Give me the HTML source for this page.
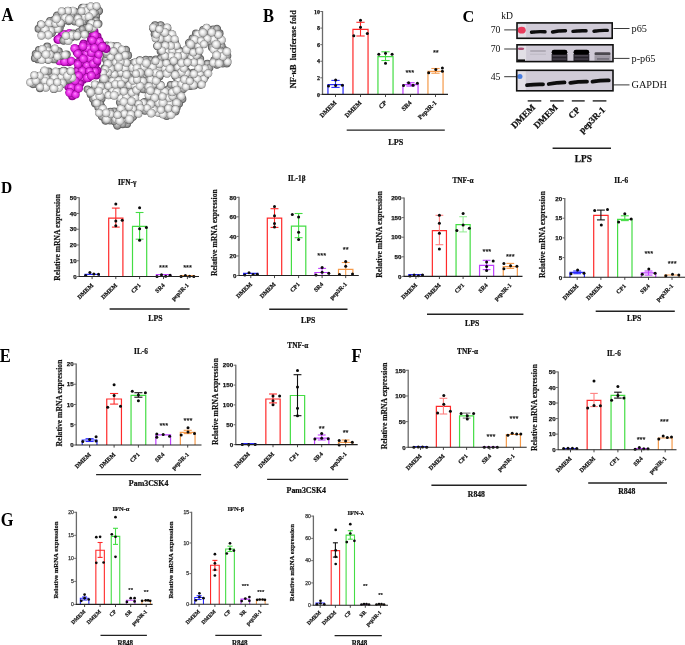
<!DOCTYPE html>
<html><head><meta charset="utf-8"><style>
html,body{margin:0;padding:0;background:#fff;}
body{width:685px;height:645px;overflow:hidden;font-family:"Liberation Serif",serif;}
svg{display:block;will-change:transform;}
</style></head><body>
<svg width="685" height="645" viewBox="0 0 685 645">
<defs>
<radialGradient id="gs" cx="0.5" cy="0.5" r="0.5" fx="0.42" fy="0.38">
<stop offset="0" stop-color="#ffffff"/><stop offset="0.28" stop-color="#f5f5f5"/><stop offset="0.6" stop-color="#dcdcdc"/><stop offset="0.86" stop-color="#b2b2b2"/><stop offset="1" stop-color="#767676"/></radialGradient>
<radialGradient id="ms" cx="0.5" cy="0.5" r="0.5" fx="0.42" fy="0.38">
<stop offset="0" stop-color="#ffa0ff"/><stop offset="0.22" stop-color="#f860f8"/><stop offset="0.55" stop-color="#ea34ea"/><stop offset="0.82" stop-color="#cc1ccc"/><stop offset="1" stop-color="#880088"/></radialGradient>
<radialGradient id="gsd" cx="0.5" cy="0.5" r="0.5" fx="0.4" fy="0.36">
<stop offset="0" stop-color="#dcdcdc"/><stop offset="0.4" stop-color="#b8b8b8"/><stop offset="0.8" stop-color="#929292"/><stop offset="1" stop-color="#666"/></radialGradient>
<radialGradient id="msd" cx="0.5" cy="0.5" r="0.5" fx="0.4" fy="0.36">
<stop offset="0" stop-color="#ee66ee"/><stop offset="0.4" stop-color="#d628d6"/><stop offset="0.8" stop-color="#b010b0"/><stop offset="1" stop-color="#800080"/></radialGradient>
<filter id="bl1" filterUnits="userSpaceOnUse" x="400" y="0" width="285" height="120"><feGaussianBlur stdDeviation="0.45"/></filter>
<filter id="bl2" filterUnits="userSpaceOnUse" x="400" y="0" width="285" height="120"><feGaussianBlur stdDeviation="0.6"/></filter>
</defs>
<rect width="685" height="645" fill="#fff"/>
<circle cx="106.76" cy="89.66" r="4.12" fill="#626262"/>
<circle cx="157.31" cy="46" r="4.19" fill="#626262"/>
<circle cx="171.95" cy="97.71" r="4.26" fill="#626262"/>
<circle cx="224.15" cy="50.18" r="4.08" fill="#626262"/>
<circle cx="119.39" cy="77.26" r="4.22" fill="#626262"/>
<circle cx="109.64" cy="76.47" r="3.86" fill="#626262"/>
<circle cx="221.5" cy="46.06" r="4.18" fill="#626262"/>
<circle cx="103.36" cy="80.84" r="4.29" fill="#626262"/>
<circle cx="126.97" cy="123.88" r="4.02" fill="#626262"/>
<circle cx="111.68" cy="89.68" r="3.93" fill="#626262"/>
<circle cx="123.38" cy="97.78" r="3.92" fill="#626262"/>
<circle cx="178.34" cy="71.91" r="3.92" fill="#626262"/>
<circle cx="123.22" cy="106.38" r="4" fill="#626262"/>
<circle cx="101.59" cy="98.56" r="4.01" fill="#626262"/>
<circle cx="118.39" cy="80.31" r="3.88" fill="#626262"/>
<circle cx="115.98" cy="94.3" r="4.22" fill="#626262"/>
<circle cx="97" cy="99.31" r="4.29" fill="#626262"/>
<circle cx="195.27" cy="42.55" r="3.87" fill="#626262"/>
<circle cx="219.48" cy="33.42" r="4.12" fill="#626262"/>
<circle cx="175.31" cy="93.19" r="4.02" fill="#626262"/>
<circle cx="125.92" cy="68.46" r="4.05" fill="#626262"/>
<circle cx="225.81" cy="60.34" r="4.06" fill="#626262"/>
<circle cx="169.26" cy="93.6" r="4.02" fill="#626262"/>
<circle cx="120.14" cy="102.47" r="4.19" fill="#626262"/>
<circle cx="210.65" cy="32.67" r="4.27" fill="#626262"/>
<circle cx="132.52" cy="88.91" r="3.94" fill="#626262"/>
<circle cx="124.88" cy="93.5" r="3.98" fill="#626262"/>
<circle cx="141.6" cy="72.35" r="3.82" fill="#626262"/>
<circle cx="113.06" cy="116.33" r="4" fill="#626262"/>
<circle cx="119.2" cy="60.02" r="3.94" fill="#626262"/>
<circle cx="125.64" cy="120.88" r="3.89" fill="#626262"/>
<circle cx="127.74" cy="115.72" r="4.22" fill="#626262"/>
<circle cx="99.21" cy="95.14" r="4.06" fill="#626262"/>
<circle cx="95.16" cy="94.92" r="3.92" fill="#626262"/>
<circle cx="107.33" cy="63.75" r="3.89" fill="#626262"/>
<circle cx="197.02" cy="72.83" r="4.1" fill="#626262"/>
<circle cx="219.99" cy="58.79" r="4.21" fill="#626262"/>
<circle cx="195.95" cy="58.87" r="4.24" fill="#626262"/>
<circle cx="104.74" cy="85.46" r="4.17" fill="#626262"/>
<circle cx="110.5" cy="50.97" r="4.18" fill="#626262"/>
<circle cx="180.85" cy="58.6" r="3.89" fill="#626262"/>
<circle cx="109.72" cy="59.21" r="3.87" fill="#626262"/>
<circle cx="160.64" cy="25.28" r="4.13" fill="#626262"/>
<circle cx="155.65" cy="84.77" r="4.11" fill="#626262"/>
<circle cx="148.41" cy="64.4" r="3.9" fill="#626262"/>
<circle cx="164.13" cy="103.03" r="3.95" fill="#626262"/>
<circle cx="202.79" cy="64.23" r="3.81" fill="#626262"/>
<circle cx="214.42" cy="60.16" r="4.15" fill="#626262"/>
<circle cx="155.39" cy="103.12" r="4.06" fill="#626262"/>
<circle cx="109.94" cy="120.37" r="4.22" fill="#626262"/>
<circle cx="99.18" cy="85.69" r="4.26" fill="#626262"/>
<circle cx="120.77" cy="111.03" r="4.06" fill="#626262"/>
<circle cx="152.96" cy="90.43" r="3.97" fill="#626262"/>
<circle cx="187.18" cy="71.94" r="3.94" fill="#626262"/>
<circle cx="149.06" cy="101.93" r="4.12" fill="#626262"/>
<circle cx="222.79" cy="63.31" r="4.27" fill="#626262"/>
<circle cx="172.28" cy="64.55" r="3.85" fill="#626262"/>
<circle cx="168.03" cy="71.48" r="4" fill="#626262"/>
<circle cx="105.21" cy="76.41" r="4.18" fill="#626262"/>
<circle cx="151.87" cy="107.19" r="3.87" fill="#626262"/>
<circle cx="125.97" cy="49.95" r="4.13" fill="#626262"/>
<circle cx="162.99" cy="98.43" r="3.92" fill="#626262"/>
<circle cx="129.61" cy="67.09" r="4.08" fill="#626262"/>
<circle cx="184.94" cy="59.04" r="4.29" fill="#626262"/>
<circle cx="87.48" cy="89.27" r="3.82" fill="#626262"/>
<circle cx="123.41" cy="71.65" r="4.15" fill="#626262"/>
<circle cx="192.12" cy="82.01" r="4.09" fill="#626262"/>
<circle cx="174.44" cy="85.25" r="4.23" fill="#626262"/>
<circle cx="134.31" cy="110.86" r="3.98" fill="#626262"/>
<circle cx="186.72" cy="63.01" r="4.27" fill="#626262"/>
<circle cx="144.53" cy="75.92" r="4.28" fill="#626262"/>
<circle cx="171.57" cy="71.53" r="3.84" fill="#626262"/>
<circle cx="108.23" cy="81" r="3.98" fill="#626262"/>
<circle cx="107" cy="45.33" r="3.92" fill="#626262"/>
<circle cx="165.17" cy="51.44" r="4.22" fill="#626262"/>
<circle cx="128.14" cy="106.54" r="4.26" fill="#626262"/>
<circle cx="115.43" cy="51.41" r="4.19" fill="#626262"/>
<circle cx="176.92" cy="55.16" r="4.23" fill="#626262"/>
<circle cx="163.14" cy="55.94" r="4.09" fill="#626262"/>
<circle cx="202.13" cy="71.95" r="4.25" fill="#626262"/>
<circle cx="167.07" cy="106.63" r="3.95" fill="#626262"/>
<circle cx="110.6" cy="93.68" r="3.85" fill="#626262"/>
<circle cx="133.23" cy="63.13" r="4.17" fill="#626262"/>
<circle cx="214.5" cy="32.84" r="4.02" fill="#626262"/>
<circle cx="164.25" cy="32.55" r="3.81" fill="#626262"/>
<circle cx="150.26" cy="60.18" r="4.2" fill="#626262"/>
<circle cx="170.37" cy="51.04" r="3.87" fill="#626262"/>
<circle cx="165.59" cy="68.53" r="3.92" fill="#626262"/>
<circle cx="156.51" cy="99.19" r="3.84" fill="#626262"/>
<circle cx="132.51" cy="98.78" r="4.11" fill="#626262"/>
<circle cx="203.12" cy="29.87" r="3.88" fill="#626262"/>
<circle cx="156.55" cy="29.8" r="3.96" fill="#626262"/>
<circle cx="102.45" cy="89.01" r="4.08" fill="#626262"/>
<circle cx="110.92" cy="68.34" r="4.28" fill="#626262"/>
<circle cx="139.5" cy="111.2" r="3.81" fill="#626262"/>
<circle cx="137.04" cy="63.2" r="4.26" fill="#626262"/>
<circle cx="149.66" cy="110.93" r="4.17" fill="#626262"/>
<circle cx="131.78" cy="80.51" r="3.93" fill="#626262"/>
<circle cx="211.65" cy="37.94" r="4.22" fill="#626262"/>
<circle cx="122.77" cy="88.96" r="4.12" fill="#626262"/>
<circle cx="141.51" cy="107.18" r="4.03" fill="#626262"/>
<circle cx="172.01" cy="45.63" r="3.92" fill="#626262"/>
<circle cx="158.29" cy="71.46" r="4.02" fill="#626262"/>
<circle cx="119.78" cy="50.3" r="3.98" fill="#626262"/>
<circle cx="140.77" cy="77.73" r="3.85" fill="#626262"/>
<circle cx="184.25" cy="84.94" r="3.89" fill="#626262"/>
<circle cx="184.21" cy="51.32" r="3.94" fill="#626262"/>
<circle cx="122.35" cy="115.81" r="4.03" fill="#626262"/>
<circle cx="176.96" cy="97.58" r="4.09" fill="#626262"/>
<circle cx="190.48" cy="76.15" r="4.18" fill="#626262"/>
<circle cx="218.07" cy="38.39" r="3.86" fill="#626262"/>
<circle cx="117.64" cy="54.02" r="3.86" fill="#626262"/>
<circle cx="183.01" cy="89.12" r="4.24" fill="#626262"/>
<circle cx="169.3" cy="42.79" r="4.07" fill="#626262"/>
<circle cx="193.42" cy="72.63" r="3.91" fill="#626262"/>
<circle cx="122.69" cy="81.34" r="3.91" fill="#626262"/>
<circle cx="200.05" cy="34.12" r="4.13" fill="#626262"/>
<circle cx="196.82" cy="46.19" r="4.03" fill="#626262"/>
<circle cx="193.14" cy="55.02" r="4" fill="#626262"/>
<circle cx="167.4" cy="54.54" r="4.27" fill="#626262"/>
<circle cx="123.44" cy="62.95" r="3.81" fill="#626262"/>
<circle cx="137.51" cy="89.56" r="4.12" fill="#626262"/>
<circle cx="129.94" cy="119.84" r="4.15" fill="#626262"/>
<circle cx="153.25" cy="62.74" r="4.1" fill="#626262"/>
<circle cx="144.69" cy="102.13" r="4.1" fill="#626262"/>
<circle cx="178.15" cy="64.41" r="3.82" fill="#626262"/>
<circle cx="130.41" cy="112.24" r="4.29" fill="#626262"/>
<circle cx="190.45" cy="86.24" r="3.83" fill="#626262"/>
<circle cx="155.88" cy="59.45" r="3.98" fill="#626262"/>
<circle cx="175.33" cy="75.99" r="4" fill="#626262"/>
<circle cx="170.81" cy="33.86" r="4.22" fill="#626262"/>
<circle cx="138.14" cy="72.26" r="4.16" fill="#626262"/>
<circle cx="173.08" cy="90.66" r="4.22" fill="#626262"/>
<circle cx="165.46" cy="59.25" r="4.08" fill="#626262"/>
<circle cx="134.65" cy="77.71" r="4.29" fill="#626262"/>
<circle cx="159.47" cy="76.58" r="3.96" fill="#626262"/>
<circle cx="106" cy="59.53" r="4" fill="#626262"/>
<circle cx="114.25" cy="111.47" r="4.08" fill="#626262"/>
<circle cx="181.83" cy="81.49" r="3.96" fill="#626262"/>
<circle cx="175.14" cy="42.35" r="3.87" fill="#626262"/>
<circle cx="142.3" cy="63.59" r="4.14" fill="#626262"/>
<circle cx="111.84" cy="71.41" r="3.98" fill="#626262"/>
<circle cx="116.62" cy="63.26" r="4.24" fill="#626262"/>
<circle cx="128.43" cy="71.81" r="4.13" fill="#626262"/>
<circle cx="129.16" cy="103.67" r="3.81" fill="#626262"/>
<circle cx="149.19" cy="76.75" r="3.85" fill="#626262"/>
<circle cx="138.02" cy="108.16" r="3.89" fill="#626262"/>
<circle cx="165.03" cy="94.94" r="3.96" fill="#626262"/>
<circle cx="168.33" cy="89.13" r="3.9" fill="#626262"/>
<circle cx="170.97" cy="112.14" r="4.13" fill="#626262"/>
<circle cx="213.14" cy="29.38" r="3.91" fill="#626262"/>
<circle cx="192.62" cy="38.49" r="4.01" fill="#626262"/>
<circle cx="122.61" cy="124.13" r="4" fill="#626262"/>
<circle cx="93.37" cy="98.97" r="4.3" fill="#626262"/>
<circle cx="112.99" cy="54.61" r="4.03" fill="#626262"/>
<circle cx="124.42" cy="103.1" r="3.82" fill="#626262"/>
<circle cx="179.01" cy="93.86" r="4.29" fill="#626262"/>
<circle cx="117.06" cy="72.1" r="4.29" fill="#626262"/>
<circle cx="188.41" cy="54.27" r="3.82" fill="#626262"/>
<circle cx="215.11" cy="42.8" r="4.23" fill="#626262"/>
<circle cx="158.32" cy="37.49" r="4.11" fill="#626262"/>
<circle cx="163.29" cy="63.65" r="4.26" fill="#626262"/>
<circle cx="134.29" cy="101.9" r="4.11" fill="#626262"/>
<circle cx="182.99" cy="73.2" r="4.11" fill="#626262"/>
<circle cx="206.65" cy="37.08" r="4.2" fill="#626262"/>
<circle cx="172.9" cy="107.2" r="3.82" fill="#626262"/>
<circle cx="160.23" cy="94.01" r="3.85" fill="#626262"/>
<circle cx="160.45" cy="32.59" r="3.86" fill="#626262"/>
<circle cx="179.27" cy="50.37" r="3.81" fill="#626262"/>
<circle cx="209.91" cy="41.63" r="3.92" fill="#626262"/>
<circle cx="115.77" cy="68" r="3.82" fill="#626262"/>
<circle cx="200.31" cy="58.95" r="3.86" fill="#626262"/>
<circle cx="139.75" cy="60.26" r="3.97" fill="#626262"/>
<circle cx="175.94" cy="67.67" r="3.88" fill="#626262"/>
<circle cx="199.45" cy="67.88" r="3.83" fill="#626262"/>
<circle cx="145.77" cy="59.97" r="4.28" fill="#626262"/>
<circle cx="95.26" cy="103.24" r="4.26" fill="#626262"/>
<circle cx="166.64" cy="46.78" r="4.25" fill="#626262"/>
<circle cx="172.4" cy="37.67" r="3.84" fill="#626262"/>
<circle cx="192.09" cy="46.22" r="4.1" fill="#626262"/>
<circle cx="105.17" cy="50.71" r="4.27" fill="#626262"/>
<circle cx="176.67" cy="46.98" r="4.02" fill="#626262"/>
<circle cx="135.89" cy="86.4" r="4.06" fill="#626262"/>
<circle cx="177.78" cy="80.28" r="4.24" fill="#626262"/>
<circle cx="226.76" cy="63.2" r="4.26" fill="#626262"/>
<circle cx="183.44" cy="63.2" r="4.09" fill="#626262"/>
<circle cx="105.26" cy="93.94" r="3.94" fill="#626262"/>
<circle cx="205.16" cy="76.4" r="4.17" fill="#626262"/>
<circle cx="124.38" cy="111.15" r="4.17" fill="#626262"/>
<circle cx="119.47" cy="67.54" r="3.94" fill="#626262"/>
<circle cx="205.33" cy="68.95" r="4.03" fill="#626262"/>
<circle cx="127.97" cy="90.36" r="4.15" fill="#626262"/>
<circle cx="115.04" cy="86.3" r="3.91" fill="#626262"/>
<circle cx="101.56" cy="107.03" r="3.99" fill="#626262"/>
<circle cx="124.57" cy="60.22" r="4.07" fill="#626262"/>
<circle cx="139.84" cy="67.56" r="3.98" fill="#626262"/>
<circle cx="167.52" cy="37.99" r="4.25" fill="#626262"/>
<circle cx="160.57" cy="84.89" r="3.95" fill="#626262"/>
<circle cx="156.56" cy="64.12" r="4.04" fill="#626262"/>
<circle cx="174.57" cy="58.45" r="4.21" fill="#626262"/>
<circle cx="155.95" cy="112.01" r="3.82" fill="#626262"/>
<circle cx="125.61" cy="86.38" r="3.97" fill="#626262"/>
<circle cx="176.63" cy="89.5" r="3.89" fill="#626262"/>
<circle cx="190.12" cy="50.91" r="4.07" fill="#626262"/>
<circle cx="117.76" cy="115.4" r="4.28" fill="#626262"/>
<circle cx="155.42" cy="76.64" r="4" fill="#626262"/>
<circle cx="130.49" cy="93.25" r="4.26" fill="#626262"/>
<circle cx="189.6" cy="59.83" r="3.88" fill="#626262"/>
<circle cx="115.56" cy="75.91" r="4.28" fill="#626262"/>
<circle cx="195.94" cy="33.55" r="3.96" fill="#626262"/>
<circle cx="132.21" cy="73.04" r="3.96" fill="#626262"/>
<circle cx="166.7" cy="116.05" r="3.93" fill="#626262"/>
<circle cx="182.17" cy="99" r="4.24" fill="#626262"/>
<circle cx="180.68" cy="76.34" r="3.91" fill="#626262"/>
<circle cx="135.64" cy="93.66" r="3.83" fill="#626262"/>
<circle cx="157.12" cy="80.51" r="3.81" fill="#626262"/>
<circle cx="211.99" cy="47.23" r="4.08" fill="#626262"/>
<circle cx="170.51" cy="59.64" r="4.1" fill="#626262"/>
<circle cx="176.72" cy="107.47" r="3.97" fill="#626262"/>
<circle cx="100.32" cy="112.03" r="4.13" fill="#626262"/>
<circle cx="110.55" cy="111.71" r="4.06" fill="#626262"/>
<circle cx="145.33" cy="68.9" r="4.22" fill="#626262"/>
<circle cx="162.73" cy="37.61" r="3.98" fill="#626262"/>
<circle cx="135" cy="68.4" r="4.18" fill="#626262"/>
<circle cx="114.55" cy="58.45" r="4.06" fill="#626262"/>
<circle cx="216.97" cy="64.54" r="4.29" fill="#626262"/>
<circle cx="149.63" cy="93.15" r="4.14" fill="#626262"/>
<circle cx="124.49" cy="75.88" r="4.27" fill="#626262"/>
<circle cx="154.68" cy="67.89" r="4.01" fill="#626262"/>
<circle cx="197.12" cy="81.23" r="4.13" fill="#626262"/>
<circle cx="187.32" cy="80.67" r="3.87" fill="#626262"/>
<circle cx="139.97" cy="84.56" r="3.9" fill="#626262"/>
<circle cx="106.79" cy="54.51" r="4.11" fill="#626262"/>
<circle cx="204.13" cy="42.68" r="3.94" fill="#626262"/>
<circle cx="184.44" cy="68.57" r="4.22" fill="#626262"/>
<circle cx="170.66" cy="84.82" r="3.85" fill="#626262"/>
<circle cx="132.85" cy="116.76" r="4.23" fill="#626262"/>
<circle cx="117.38" cy="125.37" r="4.26" fill="#626262"/>
<circle cx="199.17" cy="42.66" r="4.3" fill="#626262"/>
<circle cx="167.98" cy="98.4" r="3.93" fill="#626262"/>
<circle cx="121.62" cy="54.54" r="4.12" fill="#626262"/>
<circle cx="154.8" cy="34.14" r="4.12" fill="#626262"/>
<circle cx="152.86" cy="80.47" r="4.15" fill="#626262"/>
<circle cx="194.08" cy="85.57" r="4.01" fill="#626262"/>
<circle cx="126.94" cy="80.84" r="3.85" fill="#626262"/>
<circle cx="95.28" cy="86.27" r="4.01" fill="#626262"/>
<circle cx="131.5" cy="106.6" r="4.07" fill="#626262"/>
<circle cx="147.48" cy="107.79" r="3.86" fill="#626262"/>
<circle cx="104.34" cy="111.43" r="4" fill="#626262"/>
<circle cx="102.13" cy="116.16" r="4.3" fill="#626262"/>
<circle cx="220.47" cy="50.15" r="3.87" fill="#626262"/>
<circle cx="215.32" cy="49.78" r="4.22" fill="#626262"/>
<circle cx="198.27" cy="55.41" r="3.94" fill="#626262"/>
<circle cx="155.1" cy="25.32" r="4.11" fill="#626262"/>
<circle cx="129.07" cy="76.86" r="3.86" fill="#626262"/>
<circle cx="180.64" cy="67.51" r="4.23" fill="#626262"/>
<circle cx="153.07" cy="98.93" r="4.15" fill="#626262"/>
<circle cx="167.67" cy="62.7" r="3.94" fill="#626262"/>
<circle cx="154.07" cy="93.45" r="3.98" fill="#626262"/>
<circle cx="114.45" cy="121.18" r="3.98" fill="#626262"/>
<circle cx="112.02" cy="81.66" r="4.06" fill="#626262"/>
<circle cx="207.41" cy="63.8" r="4.1" fill="#626262"/>
<circle cx="150.81" cy="85.69" r="4.12" fill="#626262"/>
<circle cx="147.25" cy="73.24" r="3.8" fill="#626262"/>
<circle cx="175.47" cy="111.42" r="4.17" fill="#626262"/>
<circle cx="175.64" cy="103.63" r="4.29" fill="#626262"/>
<circle cx="126.9" cy="98.72" r="3.99" fill="#626262"/>
<circle cx="179.13" cy="103.59" r="3.95" fill="#626262"/>
<circle cx="170.01" cy="67.46" r="4.07" fill="#626262"/>
<circle cx="209.29" cy="67.84" r="4.2" fill="#626262"/>
<circle cx="206.51" cy="72.91" r="4.02" fill="#626262"/>
<circle cx="149.45" cy="67.12" r="3.99" fill="#626262"/>
<circle cx="97.42" cy="89.16" r="3.92" fill="#626262"/>
<circle cx="137.01" cy="81.3" r="4.21" fill="#626262"/>
<circle cx="162.48" cy="90.71" r="3.97" fill="#626262"/>
<circle cx="119.22" cy="85.43" r="4.28" fill="#626262"/>
<circle cx="217.4" cy="54.6" r="4.1" fill="#626262"/>
<circle cx="185.13" cy="76.5" r="3.92" fill="#626262"/>
<circle cx="160.61" cy="51.3" r="3.96" fill="#626262"/>
<circle cx="105.62" cy="120.52" r="4.29" fill="#626262"/>
<circle cx="227.13" cy="55.68" r="4.25" fill="#626262"/>
<circle cx="143.4" cy="89.07" r="4.28" fill="#626262"/>
<circle cx="180.04" cy="85.22" r="3.81" fill="#626262"/>
<circle cx="199.31" cy="77.52" r="3.93" fill="#626262"/>
<circle cx="162.32" cy="73.02" r="4.25" fill="#626262"/>
<circle cx="159.84" cy="42.77" r="3.95" fill="#626262"/>
<circle cx="90.75" cy="94.26" r="4.07" fill="#626262"/>
<circle cx="221.78" cy="54.69" r="3.96" fill="#626262"/>
<circle cx="160.39" cy="103.32" r="4.11" fill="#626262"/>
<circle cx="151.89" cy="72.13" r="4.02" fill="#626262"/>
<circle cx="146.52" cy="80.75" r="4.21" fill="#626262"/>
<circle cx="219.54" cy="41.21" r="4.16" fill="#626262"/>
<circle cx="164.2" cy="111.32" r="4.02" fill="#626262"/>
<circle cx="165.64" cy="41.47" r="4.03" fill="#626262"/>
<circle cx="167.59" cy="27.95" r="3.82" fill="#626262"/>
<circle cx="204.87" cy="33.99" r="4.14" fill="#626262"/>
<circle cx="201.74" cy="37.48" r="4.03" fill="#626262"/>
<circle cx="104.6" cy="67.97" r="3.81" fill="#626262"/>
<circle cx="117.52" cy="88.88" r="3.83" fill="#626262"/>
<circle cx="119.72" cy="94.68" r="3.91" fill="#626262"/>
<circle cx="139.21" cy="103.71" r="4" fill="#626262"/>
<circle cx="107.25" cy="72.06" r="4.05" fill="#626262"/>
<circle cx="116.88" cy="46.25" r="4.12" fill="#626262"/>
<circle cx="127.84" cy="55.38" r="4.26" fill="#626262"/>
<circle cx="194.49" cy="76.24" r="3.88" fill="#626262"/>
<circle cx="198.18" cy="36.87" r="3.89" fill="#626262"/>
<circle cx="160.44" cy="58.45" r="4.01" fill="#626262"/>
<circle cx="93.03" cy="90.36" r="4" fill="#626262"/>
<circle cx="198.38" cy="64.14" r="4.18" fill="#626262"/>
<circle cx="169.73" cy="103.49" r="4.25" fill="#626262"/>
<circle cx="160.37" cy="67.45" r="4.09" fill="#626262"/>
<circle cx="216.95" cy="28.94" r="4.15" fill="#626262"/>
<circle cx="106.7" cy="115.74" r="4.17" fill="#626262"/>
<circle cx="195.25" cy="51.01" r="3.85" fill="#626262"/>
<circle cx="145.04" cy="110.87" r="3.98" fill="#626262"/>
<circle cx="127.51" cy="63.96" r="3.98" fill="#626262"/>
<circle cx="161.61" cy="45.56" r="3.84" fill="#626262"/>
<circle cx="174.46" cy="49.71" r="3.96" fill="#626262"/>
<circle cx="162.56" cy="28.19" r="3.89" fill="#626262"/>
<circle cx="153.16" cy="28.22" r="4.13" fill="#626262"/>
<circle cx="145.85" cy="85.23" r="3.95" fill="#626262"/>
<circle cx="119.71" cy="120.53" r="3.97" fill="#626262"/>
<circle cx="159.2" cy="112.47" r="4.27" fill="#626262"/>
<circle cx="171.92" cy="55.89" r="4.05" fill="#626262"/>
<circle cx="112.25" cy="63.38" r="4.29" fill="#626262"/>
<circle cx="148.21" cy="90.79" r="4.12" fill="#626262"/>
<circle cx="112.97" cy="46.4" r="4.06" fill="#626262"/>
<circle cx="217.12" cy="46.01" r="4.21" fill="#626262"/>
<circle cx="100.33" cy="103.81" r="3.9" fill="#626262"/>
<circle cx="109.29" cy="85.02" r="4.25" fill="#626262"/>
<circle cx="156.89" cy="90.76" r="4.01" fill="#626262"/>
<circle cx="181.78" cy="55.05" r="3.83" fill="#626262"/>
<circle cx="157.19" cy="107.86" r="4.08" fill="#626262"/>
<circle cx="162.02" cy="108.09" r="3.85" fill="#626262"/>
<circle cx="142.8" cy="80.51" r="4.08" fill="#626262"/>
<circle cx="208.21" cy="29.51" r="4.12" fill="#626262"/>
<circle cx="189.14" cy="42.83" r="4.16" fill="#626262"/>
<circle cx="200.51" cy="84.53" r="4.15" fill="#626262"/>
<circle cx="202.21" cy="80.93" r="3.81" fill="#626262"/>
<circle cx="98.2" cy="107.44" r="3.8" fill="#626262"/>
<circle cx="129.39" cy="84.7" r="4.16" fill="#626262"/>
<circle cx="106.76" cy="89.66" r="3.62" fill="url(#gsd)"/>
<circle cx="157.31" cy="46" r="3.69" fill="url(#gsd)"/>
<circle cx="171.95" cy="97.71" r="3.76" fill="url(#gsd)"/>
<circle cx="224.15" cy="50.18" r="3.58" fill="url(#gsd)"/>
<circle cx="119.39" cy="77.26" r="3.72" fill="url(#gsd)"/>
<circle cx="109.64" cy="76.47" r="3.36" fill="url(#gsd)"/>
<circle cx="221.5" cy="46.06" r="3.68" fill="url(#gsd)"/>
<circle cx="103.36" cy="80.84" r="3.79" fill="url(#gsd)"/>
<circle cx="126.97" cy="123.88" r="3.52" fill="url(#gsd)"/>
<circle cx="111.68" cy="89.68" r="3.43" fill="url(#gsd)"/>
<circle cx="123.38" cy="97.78" r="3.42" fill="url(#gsd)"/>
<circle cx="178.34" cy="71.91" r="3.42" fill="url(#gsd)"/>
<circle cx="123.22" cy="106.38" r="3.5" fill="url(#gsd)"/>
<circle cx="101.59" cy="98.56" r="3.51" fill="url(#gsd)"/>
<circle cx="118.39" cy="80.31" r="3.38" fill="url(#gsd)"/>
<circle cx="115.98" cy="94.3" r="3.72" fill="url(#gsd)"/>
<circle cx="97" cy="99.31" r="3.79" fill="url(#gsd)"/>
<circle cx="195.27" cy="42.55" r="3.37" fill="url(#gsd)"/>
<circle cx="219.48" cy="33.42" r="3.62" fill="url(#gsd)"/>
<circle cx="175.31" cy="93.19" r="3.52" fill="url(#gsd)"/>
<circle cx="125.92" cy="68.46" r="3.55" fill="url(#gsd)"/>
<circle cx="225.81" cy="60.34" r="3.56" fill="url(#gsd)"/>
<circle cx="169.26" cy="93.6" r="3.52" fill="url(#gsd)"/>
<circle cx="120.14" cy="102.47" r="3.69" fill="url(#gsd)"/>
<circle cx="210.65" cy="32.67" r="3.77" fill="url(#gsd)"/>
<circle cx="132.52" cy="88.91" r="3.44" fill="url(#gsd)"/>
<circle cx="124.88" cy="93.5" r="3.48" fill="url(#gsd)"/>
<circle cx="141.6" cy="72.35" r="3.32" fill="url(#gsd)"/>
<circle cx="113.06" cy="116.33" r="3.5" fill="url(#gsd)"/>
<circle cx="119.2" cy="60.02" r="3.44" fill="url(#gsd)"/>
<circle cx="125.64" cy="120.88" r="3.39" fill="url(#gsd)"/>
<circle cx="127.74" cy="115.72" r="3.72" fill="url(#gsd)"/>
<circle cx="99.21" cy="95.14" r="3.56" fill="url(#gsd)"/>
<circle cx="95.16" cy="94.92" r="3.42" fill="url(#gsd)"/>
<circle cx="107.33" cy="63.75" r="3.39" fill="url(#gsd)"/>
<circle cx="197.02" cy="72.83" r="3.6" fill="url(#gsd)"/>
<circle cx="219.99" cy="58.79" r="3.71" fill="url(#gsd)"/>
<circle cx="195.95" cy="58.87" r="3.74" fill="url(#gsd)"/>
<circle cx="104.74" cy="85.46" r="3.67" fill="url(#gsd)"/>
<circle cx="110.5" cy="50.97" r="3.68" fill="url(#gsd)"/>
<circle cx="180.85" cy="58.6" r="3.39" fill="url(#gsd)"/>
<circle cx="109.72" cy="59.21" r="3.37" fill="url(#gsd)"/>
<circle cx="160.64" cy="25.28" r="3.63" fill="url(#gsd)"/>
<circle cx="155.65" cy="84.77" r="3.61" fill="url(#gsd)"/>
<circle cx="148.41" cy="64.4" r="3.4" fill="url(#gsd)"/>
<circle cx="164.13" cy="103.03" r="3.45" fill="url(#gsd)"/>
<circle cx="202.79" cy="64.23" r="3.31" fill="url(#gsd)"/>
<circle cx="214.42" cy="60.16" r="3.65" fill="url(#gsd)"/>
<circle cx="155.39" cy="103.12" r="3.56" fill="url(#gsd)"/>
<circle cx="109.94" cy="120.37" r="3.72" fill="url(#gsd)"/>
<circle cx="99.18" cy="85.69" r="3.76" fill="url(#gsd)"/>
<circle cx="120.77" cy="111.03" r="3.56" fill="url(#gsd)"/>
<circle cx="152.96" cy="90.43" r="3.47" fill="url(#gsd)"/>
<circle cx="187.18" cy="71.94" r="3.44" fill="url(#gsd)"/>
<circle cx="149.06" cy="101.93" r="3.62" fill="url(#gsd)"/>
<circle cx="222.79" cy="63.31" r="3.77" fill="url(#gsd)"/>
<circle cx="172.28" cy="64.55" r="3.35" fill="url(#gsd)"/>
<circle cx="168.03" cy="71.48" r="3.5" fill="url(#gsd)"/>
<circle cx="105.21" cy="76.41" r="3.68" fill="url(#gsd)"/>
<circle cx="151.87" cy="107.19" r="3.37" fill="url(#gsd)"/>
<circle cx="125.97" cy="49.95" r="3.63" fill="url(#gsd)"/>
<circle cx="162.99" cy="98.43" r="3.42" fill="url(#gsd)"/>
<circle cx="129.61" cy="67.09" r="3.58" fill="url(#gsd)"/>
<circle cx="184.94" cy="59.04" r="3.79" fill="url(#gsd)"/>
<circle cx="87.48" cy="89.27" r="3.32" fill="url(#gsd)"/>
<circle cx="123.41" cy="71.65" r="3.65" fill="url(#gsd)"/>
<circle cx="192.12" cy="82.01" r="3.59" fill="url(#gsd)"/>
<circle cx="174.44" cy="85.25" r="3.73" fill="url(#gsd)"/>
<circle cx="134.31" cy="110.86" r="3.48" fill="url(#gsd)"/>
<circle cx="186.72" cy="63.01" r="3.77" fill="url(#gsd)"/>
<circle cx="144.53" cy="75.92" r="3.78" fill="url(#gsd)"/>
<circle cx="171.57" cy="71.53" r="3.34" fill="url(#gsd)"/>
<circle cx="108.23" cy="81" r="3.48" fill="url(#gsd)"/>
<circle cx="107" cy="45.33" r="3.42" fill="url(#gsd)"/>
<circle cx="165.17" cy="51.44" r="3.72" fill="url(#gsd)"/>
<circle cx="128.14" cy="106.54" r="3.76" fill="url(#gsd)"/>
<circle cx="115.43" cy="51.41" r="3.69" fill="url(#gsd)"/>
<circle cx="176.92" cy="55.16" r="3.73" fill="url(#gsd)"/>
<circle cx="163.14" cy="55.94" r="3.59" fill="url(#gsd)"/>
<circle cx="202.13" cy="71.95" r="3.75" fill="url(#gsd)"/>
<circle cx="167.07" cy="106.63" r="3.45" fill="url(#gsd)"/>
<circle cx="110.6" cy="93.68" r="3.35" fill="url(#gsd)"/>
<circle cx="133.23" cy="63.13" r="3.67" fill="url(#gsd)"/>
<circle cx="214.5" cy="32.84" r="3.52" fill="url(#gsd)"/>
<circle cx="164.25" cy="32.55" r="3.31" fill="url(#gsd)"/>
<circle cx="150.26" cy="60.18" r="3.7" fill="url(#gsd)"/>
<circle cx="170.37" cy="51.04" r="3.37" fill="url(#gsd)"/>
<circle cx="165.59" cy="68.53" r="3.42" fill="url(#gsd)"/>
<circle cx="156.51" cy="99.19" r="3.34" fill="url(#gsd)"/>
<circle cx="132.51" cy="98.78" r="3.61" fill="url(#gsd)"/>
<circle cx="203.12" cy="29.87" r="3.38" fill="url(#gsd)"/>
<circle cx="156.55" cy="29.8" r="3.46" fill="url(#gsd)"/>
<circle cx="102.45" cy="89.01" r="3.58" fill="url(#gsd)"/>
<circle cx="110.92" cy="68.34" r="3.78" fill="url(#gsd)"/>
<circle cx="139.5" cy="111.2" r="3.31" fill="url(#gsd)"/>
<circle cx="137.04" cy="63.2" r="3.76" fill="url(#gsd)"/>
<circle cx="149.66" cy="110.93" r="3.67" fill="url(#gsd)"/>
<circle cx="131.78" cy="80.51" r="3.43" fill="url(#gsd)"/>
<circle cx="211.65" cy="37.94" r="3.72" fill="url(#gsd)"/>
<circle cx="122.77" cy="88.96" r="3.62" fill="url(#gsd)"/>
<circle cx="141.51" cy="107.18" r="3.53" fill="url(#gsd)"/>
<circle cx="172.01" cy="45.63" r="3.42" fill="url(#gsd)"/>
<circle cx="158.29" cy="71.46" r="3.52" fill="url(#gsd)"/>
<circle cx="119.78" cy="50.3" r="3.48" fill="url(#gsd)"/>
<circle cx="140.77" cy="77.73" r="3.35" fill="url(#gsd)"/>
<circle cx="184.25" cy="84.94" r="3.39" fill="url(#gsd)"/>
<circle cx="184.21" cy="51.32" r="3.44" fill="url(#gsd)"/>
<circle cx="122.35" cy="115.81" r="3.53" fill="url(#gsd)"/>
<circle cx="176.96" cy="97.58" r="3.59" fill="url(#gsd)"/>
<circle cx="190.48" cy="76.15" r="3.68" fill="url(#gsd)"/>
<circle cx="218.07" cy="38.39" r="3.36" fill="url(#gsd)"/>
<circle cx="117.64" cy="54.02" r="3.36" fill="url(#gsd)"/>
<circle cx="183.01" cy="89.12" r="3.74" fill="url(#gsd)"/>
<circle cx="169.3" cy="42.79" r="3.57" fill="url(#gsd)"/>
<circle cx="193.42" cy="72.63" r="3.41" fill="url(#gsd)"/>
<circle cx="122.69" cy="81.34" r="3.41" fill="url(#gsd)"/>
<circle cx="200.05" cy="34.12" r="3.63" fill="url(#gsd)"/>
<circle cx="196.82" cy="46.19" r="3.53" fill="url(#gsd)"/>
<circle cx="193.14" cy="55.02" r="3.5" fill="url(#gsd)"/>
<circle cx="167.4" cy="54.54" r="3.77" fill="url(#gsd)"/>
<circle cx="123.44" cy="62.95" r="3.31" fill="url(#gsd)"/>
<circle cx="137.51" cy="89.56" r="3.62" fill="url(#gsd)"/>
<circle cx="129.94" cy="119.84" r="3.65" fill="url(#gsd)"/>
<circle cx="153.25" cy="62.74" r="3.6" fill="url(#gsd)"/>
<circle cx="144.69" cy="102.13" r="3.6" fill="url(#gsd)"/>
<circle cx="178.15" cy="64.41" r="3.32" fill="url(#gsd)"/>
<circle cx="130.41" cy="112.24" r="3.79" fill="url(#gsd)"/>
<circle cx="190.45" cy="86.24" r="3.33" fill="url(#gsd)"/>
<circle cx="155.88" cy="59.45" r="3.48" fill="url(#gsd)"/>
<circle cx="175.33" cy="75.99" r="3.5" fill="url(#gsd)"/>
<circle cx="170.81" cy="33.86" r="3.72" fill="url(#gsd)"/>
<circle cx="138.14" cy="72.26" r="3.66" fill="url(#gsd)"/>
<circle cx="173.08" cy="90.66" r="3.72" fill="url(#gsd)"/>
<circle cx="165.46" cy="59.25" r="3.58" fill="url(#gsd)"/>
<circle cx="134.65" cy="77.71" r="3.79" fill="url(#gsd)"/>
<circle cx="159.47" cy="76.58" r="3.46" fill="url(#gsd)"/>
<circle cx="106" cy="59.53" r="3.5" fill="url(#gsd)"/>
<circle cx="114.25" cy="111.47" r="3.58" fill="url(#gsd)"/>
<circle cx="181.83" cy="81.49" r="3.46" fill="url(#gsd)"/>
<circle cx="175.14" cy="42.35" r="3.37" fill="url(#gsd)"/>
<circle cx="142.3" cy="63.59" r="3.64" fill="url(#gsd)"/>
<circle cx="111.84" cy="71.41" r="3.48" fill="url(#gsd)"/>
<circle cx="116.62" cy="63.26" r="3.74" fill="url(#gsd)"/>
<circle cx="128.43" cy="71.81" r="3.63" fill="url(#gsd)"/>
<circle cx="129.16" cy="103.67" r="3.31" fill="url(#gsd)"/>
<circle cx="149.19" cy="76.75" r="3.35" fill="url(#gsd)"/>
<circle cx="138.02" cy="108.16" r="3.39" fill="url(#gsd)"/>
<circle cx="165.03" cy="94.94" r="3.46" fill="url(#gsd)"/>
<circle cx="168.33" cy="89.13" r="3.4" fill="url(#gsd)"/>
<circle cx="170.97" cy="112.14" r="3.63" fill="url(#gsd)"/>
<circle cx="213.14" cy="29.38" r="3.41" fill="url(#gsd)"/>
<circle cx="192.62" cy="38.49" r="3.51" fill="url(#gsd)"/>
<circle cx="122.61" cy="124.13" r="3.5" fill="url(#gsd)"/>
<circle cx="93.37" cy="98.97" r="3.8" fill="url(#gsd)"/>
<circle cx="112.99" cy="54.61" r="3.53" fill="url(#gsd)"/>
<circle cx="124.42" cy="103.1" r="3.32" fill="url(#gsd)"/>
<circle cx="179.01" cy="93.86" r="3.79" fill="url(#gsd)"/>
<circle cx="117.06" cy="72.1" r="3.79" fill="url(#gsd)"/>
<circle cx="188.41" cy="54.27" r="3.32" fill="url(#gsd)"/>
<circle cx="215.11" cy="42.8" r="3.73" fill="url(#gsd)"/>
<circle cx="158.32" cy="37.49" r="3.61" fill="url(#gsd)"/>
<circle cx="163.29" cy="63.65" r="3.76" fill="url(#gsd)"/>
<circle cx="134.29" cy="101.9" r="3.61" fill="url(#gsd)"/>
<circle cx="182.99" cy="73.2" r="3.61" fill="url(#gsd)"/>
<circle cx="206.65" cy="37.08" r="3.7" fill="url(#gsd)"/>
<circle cx="172.9" cy="107.2" r="3.32" fill="url(#gsd)"/>
<circle cx="160.23" cy="94.01" r="3.35" fill="url(#gsd)"/>
<circle cx="160.45" cy="32.59" r="3.36" fill="url(#gsd)"/>
<circle cx="179.27" cy="50.37" r="3.31" fill="url(#gsd)"/>
<circle cx="209.91" cy="41.63" r="3.42" fill="url(#gsd)"/>
<circle cx="115.77" cy="68" r="3.32" fill="url(#gsd)"/>
<circle cx="200.31" cy="58.95" r="3.36" fill="url(#gsd)"/>
<circle cx="139.75" cy="60.26" r="3.47" fill="url(#gsd)"/>
<circle cx="175.94" cy="67.67" r="3.38" fill="url(#gsd)"/>
<circle cx="199.45" cy="67.88" r="3.33" fill="url(#gsd)"/>
<circle cx="145.77" cy="59.97" r="3.78" fill="url(#gsd)"/>
<circle cx="95.26" cy="103.24" r="3.76" fill="url(#gsd)"/>
<circle cx="166.64" cy="46.78" r="3.75" fill="url(#gsd)"/>
<circle cx="172.4" cy="37.67" r="3.34" fill="url(#gsd)"/>
<circle cx="192.09" cy="46.22" r="3.6" fill="url(#gsd)"/>
<circle cx="105.17" cy="50.71" r="3.77" fill="url(#gsd)"/>
<circle cx="176.67" cy="46.98" r="3.52" fill="url(#gsd)"/>
<circle cx="135.89" cy="86.4" r="3.56" fill="url(#gsd)"/>
<circle cx="177.78" cy="80.28" r="3.74" fill="url(#gsd)"/>
<circle cx="226.76" cy="63.2" r="3.76" fill="url(#gsd)"/>
<circle cx="183.44" cy="63.2" r="3.59" fill="url(#gsd)"/>
<circle cx="105.26" cy="93.94" r="3.44" fill="url(#gsd)"/>
<circle cx="205.16" cy="76.4" r="3.67" fill="url(#gsd)"/>
<circle cx="124.38" cy="111.15" r="3.67" fill="url(#gsd)"/>
<circle cx="119.47" cy="67.54" r="3.44" fill="url(#gsd)"/>
<circle cx="205.33" cy="68.95" r="3.53" fill="url(#gsd)"/>
<circle cx="127.97" cy="90.36" r="3.65" fill="url(#gsd)"/>
<circle cx="115.04" cy="86.3" r="3.41" fill="url(#gsd)"/>
<circle cx="101.56" cy="107.03" r="3.49" fill="url(#gsd)"/>
<circle cx="124.57" cy="60.22" r="3.57" fill="url(#gsd)"/>
<circle cx="139.84" cy="67.56" r="3.48" fill="url(#gsd)"/>
<circle cx="167.52" cy="37.99" r="3.75" fill="url(#gsd)"/>
<circle cx="160.57" cy="84.89" r="3.45" fill="url(#gsd)"/>
<circle cx="156.56" cy="64.12" r="3.54" fill="url(#gsd)"/>
<circle cx="174.57" cy="58.45" r="3.71" fill="url(#gsd)"/>
<circle cx="155.95" cy="112.01" r="3.32" fill="url(#gsd)"/>
<circle cx="125.61" cy="86.38" r="3.47" fill="url(#gsd)"/>
<circle cx="176.63" cy="89.5" r="3.39" fill="url(#gsd)"/>
<circle cx="190.12" cy="50.91" r="3.57" fill="url(#gsd)"/>
<circle cx="117.76" cy="115.4" r="3.78" fill="url(#gsd)"/>
<circle cx="155.42" cy="76.64" r="3.5" fill="url(#gsd)"/>
<circle cx="130.49" cy="93.25" r="3.76" fill="url(#gsd)"/>
<circle cx="189.6" cy="59.83" r="3.38" fill="url(#gsd)"/>
<circle cx="115.56" cy="75.91" r="3.78" fill="url(#gsd)"/>
<circle cx="195.94" cy="33.55" r="3.46" fill="url(#gsd)"/>
<circle cx="132.21" cy="73.04" r="3.46" fill="url(#gsd)"/>
<circle cx="166.7" cy="116.05" r="3.43" fill="url(#gsd)"/>
<circle cx="182.17" cy="99" r="3.74" fill="url(#gsd)"/>
<circle cx="180.68" cy="76.34" r="3.41" fill="url(#gsd)"/>
<circle cx="135.64" cy="93.66" r="3.33" fill="url(#gsd)"/>
<circle cx="157.12" cy="80.51" r="3.31" fill="url(#gsd)"/>
<circle cx="211.99" cy="47.23" r="3.58" fill="url(#gsd)"/>
<circle cx="170.51" cy="59.64" r="3.6" fill="url(#gsd)"/>
<circle cx="176.72" cy="107.47" r="3.47" fill="url(#gsd)"/>
<circle cx="100.32" cy="112.03" r="3.63" fill="url(#gsd)"/>
<circle cx="110.55" cy="111.71" r="3.56" fill="url(#gsd)"/>
<circle cx="145.33" cy="68.9" r="3.72" fill="url(#gsd)"/>
<circle cx="162.73" cy="37.61" r="3.48" fill="url(#gsd)"/>
<circle cx="135" cy="68.4" r="3.68" fill="url(#gsd)"/>
<circle cx="114.55" cy="58.45" r="3.56" fill="url(#gsd)"/>
<circle cx="216.97" cy="64.54" r="3.79" fill="url(#gsd)"/>
<circle cx="149.63" cy="93.15" r="3.64" fill="url(#gsd)"/>
<circle cx="124.49" cy="75.88" r="3.77" fill="url(#gsd)"/>
<circle cx="154.68" cy="67.89" r="3.51" fill="url(#gsd)"/>
<circle cx="197.12" cy="81.23" r="3.63" fill="url(#gsd)"/>
<circle cx="187.32" cy="80.67" r="3.37" fill="url(#gsd)"/>
<circle cx="139.97" cy="84.56" r="3.4" fill="url(#gsd)"/>
<circle cx="106.79" cy="54.51" r="3.61" fill="url(#gsd)"/>
<circle cx="204.13" cy="42.68" r="3.44" fill="url(#gsd)"/>
<circle cx="184.44" cy="68.57" r="3.72" fill="url(#gsd)"/>
<circle cx="170.66" cy="84.82" r="3.35" fill="url(#gsd)"/>
<circle cx="132.85" cy="116.76" r="3.73" fill="url(#gsd)"/>
<circle cx="117.38" cy="125.37" r="3.76" fill="url(#gsd)"/>
<circle cx="199.17" cy="42.66" r="3.8" fill="url(#gsd)"/>
<circle cx="167.98" cy="98.4" r="3.43" fill="url(#gsd)"/>
<circle cx="121.62" cy="54.54" r="3.62" fill="url(#gsd)"/>
<circle cx="154.8" cy="34.14" r="3.62" fill="url(#gsd)"/>
<circle cx="152.86" cy="80.47" r="3.65" fill="url(#gsd)"/>
<circle cx="194.08" cy="85.57" r="3.51" fill="url(#gsd)"/>
<circle cx="126.94" cy="80.84" r="3.35" fill="url(#gsd)"/>
<circle cx="95.28" cy="86.27" r="3.51" fill="url(#gsd)"/>
<circle cx="131.5" cy="106.6" r="3.57" fill="url(#gsd)"/>
<circle cx="147.48" cy="107.79" r="3.36" fill="url(#gsd)"/>
<circle cx="104.34" cy="111.43" r="3.5" fill="url(#gsd)"/>
<circle cx="102.13" cy="116.16" r="3.8" fill="url(#gsd)"/>
<circle cx="220.47" cy="50.15" r="3.37" fill="url(#gsd)"/>
<circle cx="215.32" cy="49.78" r="3.72" fill="url(#gsd)"/>
<circle cx="198.27" cy="55.41" r="3.44" fill="url(#gsd)"/>
<circle cx="155.1" cy="25.32" r="3.61" fill="url(#gsd)"/>
<circle cx="129.07" cy="76.86" r="3.36" fill="url(#gsd)"/>
<circle cx="180.64" cy="67.51" r="3.73" fill="url(#gsd)"/>
<circle cx="153.07" cy="98.93" r="3.65" fill="url(#gsd)"/>
<circle cx="167.67" cy="62.7" r="3.44" fill="url(#gsd)"/>
<circle cx="154.07" cy="93.45" r="3.48" fill="url(#gsd)"/>
<circle cx="114.45" cy="121.18" r="3.48" fill="url(#gsd)"/>
<circle cx="112.02" cy="81.66" r="3.56" fill="url(#gsd)"/>
<circle cx="207.41" cy="63.8" r="3.6" fill="url(#gsd)"/>
<circle cx="150.81" cy="85.69" r="3.62" fill="url(#gsd)"/>
<circle cx="147.25" cy="73.24" r="3.3" fill="url(#gsd)"/>
<circle cx="175.47" cy="111.42" r="3.67" fill="url(#gsd)"/>
<circle cx="175.64" cy="103.63" r="3.79" fill="url(#gsd)"/>
<circle cx="126.9" cy="98.72" r="3.49" fill="url(#gsd)"/>
<circle cx="179.13" cy="103.59" r="3.45" fill="url(#gsd)"/>
<circle cx="170.01" cy="67.46" r="3.57" fill="url(#gsd)"/>
<circle cx="209.29" cy="67.84" r="3.7" fill="url(#gsd)"/>
<circle cx="206.51" cy="72.91" r="3.52" fill="url(#gsd)"/>
<circle cx="149.45" cy="67.12" r="3.49" fill="url(#gsd)"/>
<circle cx="97.42" cy="89.16" r="3.42" fill="url(#gsd)"/>
<circle cx="137.01" cy="81.3" r="3.71" fill="url(#gsd)"/>
<circle cx="162.48" cy="90.71" r="3.47" fill="url(#gsd)"/>
<circle cx="119.22" cy="85.43" r="3.78" fill="url(#gsd)"/>
<circle cx="217.4" cy="54.6" r="3.6" fill="url(#gsd)"/>
<circle cx="185.13" cy="76.5" r="3.42" fill="url(#gsd)"/>
<circle cx="160.61" cy="51.3" r="3.46" fill="url(#gsd)"/>
<circle cx="105.62" cy="120.52" r="3.79" fill="url(#gsd)"/>
<circle cx="227.13" cy="55.68" r="3.75" fill="url(#gsd)"/>
<circle cx="143.4" cy="89.07" r="3.78" fill="url(#gsd)"/>
<circle cx="180.04" cy="85.22" r="3.31" fill="url(#gsd)"/>
<circle cx="199.31" cy="77.52" r="3.43" fill="url(#gsd)"/>
<circle cx="162.32" cy="73.02" r="3.75" fill="url(#gsd)"/>
<circle cx="159.84" cy="42.77" r="3.45" fill="url(#gsd)"/>
<circle cx="90.75" cy="94.26" r="3.57" fill="url(#gsd)"/>
<circle cx="221.78" cy="54.69" r="3.46" fill="url(#gsd)"/>
<circle cx="160.39" cy="103.32" r="3.61" fill="url(#gsd)"/>
<circle cx="151.89" cy="72.13" r="3.52" fill="url(#gsd)"/>
<circle cx="146.52" cy="80.75" r="3.71" fill="url(#gsd)"/>
<circle cx="219.54" cy="41.21" r="3.66" fill="url(#gsd)"/>
<circle cx="164.2" cy="111.32" r="3.52" fill="url(#gsd)"/>
<circle cx="165.64" cy="41.47" r="3.53" fill="url(#gsd)"/>
<circle cx="167.59" cy="27.95" r="3.32" fill="url(#gsd)"/>
<circle cx="204.87" cy="33.99" r="3.64" fill="url(#gsd)"/>
<circle cx="201.74" cy="37.48" r="3.53" fill="url(#gsd)"/>
<circle cx="104.6" cy="67.97" r="3.31" fill="url(#gsd)"/>
<circle cx="117.52" cy="88.88" r="3.33" fill="url(#gsd)"/>
<circle cx="119.72" cy="94.68" r="3.41" fill="url(#gsd)"/>
<circle cx="139.21" cy="103.71" r="3.5" fill="url(#gsd)"/>
<circle cx="107.25" cy="72.06" r="3.55" fill="url(#gsd)"/>
<circle cx="116.88" cy="46.25" r="3.62" fill="url(#gsd)"/>
<circle cx="127.84" cy="55.38" r="3.76" fill="url(#gsd)"/>
<circle cx="194.49" cy="76.24" r="3.38" fill="url(#gsd)"/>
<circle cx="198.18" cy="36.87" r="3.39" fill="url(#gsd)"/>
<circle cx="160.44" cy="58.45" r="3.51" fill="url(#gsd)"/>
<circle cx="93.03" cy="90.36" r="3.5" fill="url(#gsd)"/>
<circle cx="198.38" cy="64.14" r="3.68" fill="url(#gsd)"/>
<circle cx="169.73" cy="103.49" r="3.75" fill="url(#gsd)"/>
<circle cx="160.37" cy="67.45" r="3.59" fill="url(#gsd)"/>
<circle cx="216.95" cy="28.94" r="3.65" fill="url(#gsd)"/>
<circle cx="106.7" cy="115.74" r="3.67" fill="url(#gsd)"/>
<circle cx="195.25" cy="51.01" r="3.35" fill="url(#gsd)"/>
<circle cx="145.04" cy="110.87" r="3.48" fill="url(#gsd)"/>
<circle cx="127.51" cy="63.96" r="3.48" fill="url(#gsd)"/>
<circle cx="161.61" cy="45.56" r="3.34" fill="url(#gsd)"/>
<circle cx="174.46" cy="49.71" r="3.46" fill="url(#gsd)"/>
<circle cx="162.56" cy="28.19" r="3.39" fill="url(#gsd)"/>
<circle cx="153.16" cy="28.22" r="3.63" fill="url(#gsd)"/>
<circle cx="145.85" cy="85.23" r="3.45" fill="url(#gsd)"/>
<circle cx="119.71" cy="120.53" r="3.47" fill="url(#gsd)"/>
<circle cx="159.2" cy="112.47" r="3.77" fill="url(#gsd)"/>
<circle cx="171.92" cy="55.89" r="3.55" fill="url(#gsd)"/>
<circle cx="112.25" cy="63.38" r="3.79" fill="url(#gsd)"/>
<circle cx="148.21" cy="90.79" r="3.62" fill="url(#gsd)"/>
<circle cx="112.97" cy="46.4" r="3.56" fill="url(#gsd)"/>
<circle cx="217.12" cy="46.01" r="3.71" fill="url(#gsd)"/>
<circle cx="100.33" cy="103.81" r="3.4" fill="url(#gsd)"/>
<circle cx="109.29" cy="85.02" r="3.75" fill="url(#gsd)"/>
<circle cx="156.89" cy="90.76" r="3.51" fill="url(#gsd)"/>
<circle cx="181.78" cy="55.05" r="3.33" fill="url(#gsd)"/>
<circle cx="157.19" cy="107.86" r="3.58" fill="url(#gsd)"/>
<circle cx="162.02" cy="108.09" r="3.35" fill="url(#gsd)"/>
<circle cx="142.8" cy="80.51" r="3.58" fill="url(#gsd)"/>
<circle cx="208.21" cy="29.51" r="3.62" fill="url(#gsd)"/>
<circle cx="189.14" cy="42.83" r="3.66" fill="url(#gsd)"/>
<circle cx="200.51" cy="84.53" r="3.65" fill="url(#gsd)"/>
<circle cx="202.21" cy="80.93" r="3.31" fill="url(#gsd)"/>
<circle cx="98.2" cy="107.44" r="3.3" fill="url(#gsd)"/>
<circle cx="129.39" cy="84.7" r="3.66" fill="url(#gsd)"/>
<circle cx="197.82" cy="34.57" r="4.46" fill="url(#gs)"/>
<circle cx="213.69" cy="39.49" r="4.29" fill="url(#gs)"/>
<circle cx="120.73" cy="98.02" r="4.33" fill="url(#gs)"/>
<circle cx="200.04" cy="73.84" r="3.98" fill="url(#gs)"/>
<circle cx="158.4" cy="67.24" r="4.46" fill="url(#gs)"/>
<circle cx="112.78" cy="80.82" r="4.11" fill="url(#gs)"/>
<circle cx="120.99" cy="72.43" r="4.17" fill="url(#gs)"/>
<circle cx="166.56" cy="51.52" r="4.32" fill="url(#gs)"/>
<circle cx="221.66" cy="39.97" r="4.3" fill="url(#gs)"/>
<circle cx="118.54" cy="80.7" r="4.34" fill="url(#gs)"/>
<circle cx="153" cy="84.4" r="3.91" fill="url(#gs)"/>
<circle cx="114.29" cy="74.26" r="3.94" fill="url(#gs)"/>
<circle cx="132.62" cy="67.69" r="4.47" fill="url(#gs)"/>
<circle cx="157.5" cy="92.61" r="4.39" fill="url(#gs)"/>
<circle cx="178.07" cy="67.26" r="3.92" fill="url(#gs)"/>
<circle cx="186.52" cy="73.04" r="4.03" fill="url(#gs)"/>
<circle cx="213.38" cy="62.74" r="4.16" fill="url(#gs)"/>
<circle cx="198.65" cy="46.21" r="4.02" fill="url(#gs)"/>
<circle cx="104.47" cy="91.98" r="4.03" fill="url(#gs)"/>
<circle cx="110.51" cy="68.9" r="4.48" fill="url(#gs)"/>
<circle cx="220.2" cy="52.45" r="4.27" fill="url(#gs)"/>
<circle cx="169.86" cy="103.48" r="4.14" fill="url(#gs)"/>
<circle cx="158.01" cy="112.52" r="4.34" fill="url(#gs)"/>
<circle cx="178.5" cy="81.12" r="4.02" fill="url(#gs)"/>
<circle cx="108.45" cy="85.78" r="4.02" fill="url(#gs)"/>
<circle cx="167.17" cy="27.5" r="4.01" fill="url(#gs)"/>
<circle cx="102.82" cy="108.89" r="4.41" fill="url(#gs)"/>
<circle cx="124.88" cy="78.82" r="3.97" fill="url(#gs)"/>
<circle cx="143.28" cy="103" r="3.98" fill="url(#gs)"/>
<circle cx="120.9" cy="108.83" r="4.43" fill="url(#gs)"/>
<circle cx="165.28" cy="68.61" r="4.39" fill="url(#gs)"/>
<circle cx="153.59" cy="109.54" r="4.2" fill="url(#gs)"/>
<circle cx="129.47" cy="84.9" r="3.91" fill="url(#gs)"/>
<circle cx="159" cy="102.99" r="4.33" fill="url(#gs)"/>
<circle cx="110.82" cy="46.05" r="4.34" fill="url(#gs)"/>
<circle cx="148.65" cy="95.53" r="4" fill="url(#gs)"/>
<circle cx="95.14" cy="97.55" r="4.03" fill="url(#gs)"/>
<circle cx="213.88" cy="49.46" r="4.33" fill="url(#gs)"/>
<circle cx="164.81" cy="91.81" r="4.35" fill="url(#gs)"/>
<circle cx="116.19" cy="118.84" r="4.38" fill="url(#gs)"/>
<circle cx="181.46" cy="72.32" r="4.22" fill="url(#gs)"/>
<circle cx="172.54" cy="50.87" r="4" fill="url(#gs)"/>
<circle cx="160.66" cy="85.59" r="4.37" fill="url(#gs)"/>
<circle cx="150.96" cy="79.57" r="4.33" fill="url(#gs)"/>
<circle cx="117.51" cy="46.49" r="4.21" fill="url(#gs)"/>
<circle cx="112.77" cy="91.38" r="4.18" fill="url(#gs)"/>
<circle cx="160.23" cy="38.69" r="4.02" fill="url(#gs)"/>
<circle cx="110.72" cy="57.01" r="3.95" fill="url(#gs)"/>
<circle cx="108.02" cy="72.58" r="3.93" fill="url(#gs)"/>
<circle cx="227.61" cy="61.85" r="4.03" fill="url(#gs)"/>
<circle cx="134.85" cy="97.81" r="4.4" fill="url(#gs)"/>
<circle cx="154.66" cy="97.73" r="4.32" fill="url(#gs)"/>
<circle cx="168.91" cy="98.04" r="4.17" fill="url(#gs)"/>
<circle cx="204.92" cy="68.71" r="4.15" fill="url(#gs)"/>
<circle cx="171.04" cy="114.71" r="4.42" fill="url(#gs)"/>
<circle cx="171.93" cy="34.44" r="4.45" fill="url(#gs)"/>
<circle cx="108.56" cy="95.29" r="3.98" fill="url(#gs)"/>
<circle cx="94.85" cy="84.49" r="4" fill="url(#gs)"/>
<circle cx="179.24" cy="52.18" r="4.17" fill="url(#gs)"/>
<circle cx="126.39" cy="96.8" r="4.35" fill="url(#gs)"/>
<circle cx="107.78" cy="63.93" r="4.42" fill="url(#gs)"/>
<circle cx="99.92" cy="96.11" r="4.38" fill="url(#gs)"/>
<circle cx="200.27" cy="62.51" r="4.32" fill="url(#gs)"/>
<circle cx="194.66" cy="39.59" r="4.33" fill="url(#gs)"/>
<circle cx="135.57" cy="62.43" r="4.09" fill="url(#gs)"/>
<circle cx="142.88" cy="81.2" r="4.05" fill="url(#gs)"/>
<circle cx="175.19" cy="74.85" r="4.23" fill="url(#gs)"/>
<circle cx="100.7" cy="86.57" r="4.03" fill="url(#gs)"/>
<circle cx="162.99" cy="102.73" r="4.47" fill="url(#gs)"/>
<circle cx="150.68" cy="104.12" r="4.3" fill="url(#gs)"/>
<circle cx="176.46" cy="45.72" r="4.04" fill="url(#gs)"/>
<circle cx="216.16" cy="44.4" r="4.48" fill="url(#gs)"/>
<circle cx="138.79" cy="104.11" r="4.1" fill="url(#gs)"/>
<circle cx="131.71" cy="92.59" r="3.99" fill="url(#gs)"/>
<circle cx="207.31" cy="38.55" r="4.07" fill="url(#gs)"/>
<circle cx="159.33" cy="63.85" r="4.29" fill="url(#gs)"/>
<circle cx="123.88" cy="101.8" r="4.32" fill="url(#gs)"/>
<circle cx="96.7" cy="103.06" r="4.02" fill="url(#gs)"/>
<circle cx="132.97" cy="109" r="3.99" fill="url(#gs)"/>
<circle cx="162.46" cy="96.52" r="4.01" fill="url(#gs)"/>
<circle cx="172.58" cy="96.26" r="4.1" fill="url(#gs)"/>
<circle cx="163.03" cy="114.38" r="4.14" fill="url(#gs)"/>
<circle cx="203.89" cy="79.02" r="3.92" fill="url(#gs)"/>
<circle cx="183.87" cy="68.27" r="4.11" fill="url(#gs)"/>
<circle cx="139.96" cy="61.02" r="4.29" fill="url(#gs)"/>
<circle cx="105.23" cy="69.25" r="4.03" fill="url(#gs)"/>
<circle cx="124.85" cy="68.31" r="4.29" fill="url(#gs)"/>
<circle cx="167.85" cy="38.53" r="4.21" fill="url(#gs)"/>
<circle cx="206.6" cy="27.74" r="3.94" fill="url(#gs)"/>
<circle cx="197.25" cy="79.17" r="4.19" fill="url(#gs)"/>
<circle cx="166.46" cy="63.11" r="3.91" fill="url(#gs)"/>
<circle cx="222.69" cy="56.41" r="4.37" fill="url(#gs)"/>
<circle cx="116.86" cy="91.81" r="4.43" fill="url(#gs)"/>
<circle cx="191.94" cy="57.73" r="4.45" fill="url(#gs)"/>
<circle cx="134.74" cy="85.63" r="4.02" fill="url(#gs)"/>
<circle cx="126.4" cy="62.75" r="4.07" fill="url(#gs)"/>
<circle cx="218.32" cy="34.66" r="4.08" fill="url(#gs)"/>
<circle cx="211.65" cy="32.3" r="4.25" fill="url(#gs)"/>
<circle cx="226.85" cy="51.7" r="4.35" fill="url(#gs)"/>
<circle cx="124.49" cy="113.74" r="4.02" fill="url(#gs)"/>
<circle cx="198.51" cy="68.35" r="4.18" fill="url(#gs)"/>
<circle cx="202.94" cy="32.69" r="4.36" fill="url(#gs)"/>
<circle cx="171.17" cy="56.27" r="4.36" fill="url(#gs)"/>
<circle cx="106.55" cy="119.07" r="4.44" fill="url(#gs)"/>
<circle cx="115.43" cy="84.22" r="4.25" fill="url(#gs)"/>
<circle cx="170.83" cy="45.73" r="4.08" fill="url(#gs)"/>
<circle cx="152.5" cy="67.19" r="4.25" fill="url(#gs)"/>
<circle cx="200.91" cy="40.84" r="3.96" fill="url(#gs)"/>
<circle cx="175.04" cy="84.52" r="3.9" fill="url(#gs)"/>
<circle cx="181.65" cy="84.21" r="4.02" fill="url(#gs)"/>
<circle cx="183.14" cy="55.49" r="3.99" fill="url(#gs)"/>
<circle cx="106.52" cy="51.52" r="4.08" fill="url(#gs)"/>
<circle cx="172.15" cy="92.19" r="4" fill="url(#gs)"/>
<circle cx="185.93" cy="86.84" r="4.11" fill="url(#gs)"/>
<circle cx="208.11" cy="73.41" r="4.19" fill="url(#gs)"/>
<circle cx="168.43" cy="108.26" r="4.1" fill="url(#gs)"/>
<circle cx="136.44" cy="90.11" r="4.12" fill="url(#gs)"/>
<circle cx="115.82" cy="62.33" r="3.97" fill="url(#gs)"/>
<circle cx="216.69" cy="55.21" r="4.4" fill="url(#gs)"/>
<circle cx="186.67" cy="49.66" r="4.39" fill="url(#gs)"/>
<circle cx="130.93" cy="114.53" r="4.33" fill="url(#gs)"/>
<circle cx="98.75" cy="90.8" r="4.17" fill="url(#gs)"/>
<circle cx="164.77" cy="32.38" r="4.35" fill="url(#gs)"/>
<circle cx="164.9" cy="56.05" r="3.97" fill="url(#gs)"/>
<circle cx="177.87" cy="56.19" r="4" fill="url(#gs)"/>
<circle cx="120.4" cy="61.99" r="4.14" fill="url(#gs)"/>
<circle cx="110.77" cy="114.08" r="3.92" fill="url(#gs)"/>
<circle cx="155.6" cy="38.14" r="3.92" fill="url(#gs)"/>
<circle cx="155.86" cy="72.92" r="4.25" fill="url(#gs)"/>
<circle cx="129.05" cy="106.83" r="4.15" fill="url(#gs)"/>
<circle cx="132.79" cy="80.46" r="4.32" fill="url(#gs)"/>
<circle cx="121.93" cy="49.74" r="4.15" fill="url(#gs)"/>
<circle cx="114.13" cy="95.33" r="4.4" fill="url(#gs)"/>
<circle cx="147.14" cy="108.09" r="3.95" fill="url(#gs)"/>
<circle cx="149.03" cy="86.65" r="4.34" fill="url(#gs)"/>
<circle cx="90.66" cy="92.35" r="4.34" fill="url(#gs)"/>
<circle cx="165.28" cy="45.57" r="4.12" fill="url(#gs)"/>
<circle cx="156.1" cy="80.7" r="4.3" fill="url(#gs)"/>
<circle cx="194.04" cy="62.45" r="3.95" fill="url(#gs)"/>
<circle cx="155.55" cy="60.99" r="3.9" fill="url(#gs)"/>
<circle cx="181.67" cy="62.95" r="4.29" fill="url(#gs)"/>
<circle cx="129.35" cy="119.07" r="4.4" fill="url(#gs)"/>
<circle cx="140.27" cy="107.86" r="4.08" fill="url(#gs)"/>
<circle cx="123.81" cy="91.33" r="4.06" fill="url(#gs)"/>
<circle cx="143.64" cy="67.26" r="3.96" fill="url(#gs)"/>
<circle cx="125.09" cy="55.3" r="4.04" fill="url(#gs)"/>
<circle cx="174.67" cy="39.12" r="3.99" fill="url(#gs)"/>
<circle cx="187.52" cy="62.29" r="4.06" fill="url(#gs)"/>
<circle cx="176.82" cy="90.06" r="4.22" fill="url(#gs)"/>
<circle cx="153.24" cy="27.55" r="4.09" fill="url(#gs)"/>
<circle cx="196.41" cy="55.24" r="4.05" fill="url(#gs)"/>
<circle cx="150.37" cy="90.64" r="4.24" fill="url(#gs)"/>
<circle cx="156.4" cy="34.49" r="3.93" fill="url(#gs)"/>
<circle cx="138.33" cy="113.74" r="4.05" fill="url(#gs)"/>
<circle cx="119.85" cy="120.74" r="4.47" fill="url(#gs)"/>
<circle cx="103" cy="72.89" r="4.07" fill="url(#gs)"/>
<circle cx="181.19" cy="96.25" r="4.23" fill="url(#gs)"/>
<circle cx="149.01" cy="72.56" r="4.49" fill="url(#gs)"/>
<circle cx="146.28" cy="63.07" r="4.45" fill="url(#gs)"/>
<circle cx="151.27" cy="113.12" r="4.34" fill="url(#gs)"/>
<circle cx="139.95" cy="86" r="4.22" fill="url(#gs)"/>
<circle cx="117.53" cy="114.88" r="4.04" fill="url(#gs)"/>
<circle cx="161.99" cy="50.61" r="3.96" fill="url(#gs)"/>
<circle cx="159.32" cy="29.17" r="3.96" fill="url(#gs)"/>
<circle cx="193.29" cy="52.39" r="3.93" fill="url(#gs)"/>
<circle cx="193.39" cy="84.92" r="4.38" fill="url(#gs)"/>
<circle cx="118.74" cy="57.29" r="4.32" fill="url(#gs)"/>
<circle cx="120.93" cy="83.97" r="4.03" fill="url(#gs)"/>
<circle cx="131.39" cy="101.31" r="4.35" fill="url(#gs)"/>
<circle cx="160.9" cy="109.87" r="3.95" fill="url(#gs)"/>
<circle cx="203.99" cy="44.13" r="4" fill="url(#gs)"/>
<circle cx="184.62" cy="79.46" r="4.4" fill="url(#gs)"/>
<circle cx="118.61" cy="67.01" r="4.5" fill="url(#gs)"/>
<circle cx="193.94" cy="73.96" r="4.15" fill="url(#gs)"/>
<circle cx="218.96" cy="63.39" r="4.27" fill="url(#gs)"/>
<circle cx="157.61" cy="45.77" r="3.97" fill="url(#gs)"/>
<circle cx="106.12" cy="112.9" r="4.24" fill="url(#gs)"/>
<circle cx="189.73" cy="81.09" r="3.97" fill="url(#gs)"/>
<circle cx="136.97" cy="67.95" r="4.3" fill="url(#gs)"/>
<circle cx="99.18" cy="112.96" r="4.03" fill="url(#gs)"/>
<circle cx="201.63" cy="84.55" r="4.05" fill="url(#gs)"/>
<circle cx="176.63" cy="102.93" r="4.36" fill="url(#gs)"/>
<circle cx="126.43" cy="74.52" r="4.21" fill="url(#gs)"/>
<circle cx="139.89" cy="72.71" r="4.39" fill="url(#gs)"/>
<circle cx="190.57" cy="44.17" r="4.39" fill="url(#gs)"/>
<circle cx="159.67" cy="74.61" r="3.94" fill="url(#gs)"/>
<circle cx="173.71" cy="60.81" r="4.1" fill="url(#gs)"/>
<circle cx="175.49" cy="109.19" r="3.96" fill="url(#gs)"/>
<circle cx="199.42" cy="50.73" r="4.03" fill="url(#gs)"/>
<circle cx="104.03" cy="78.5" r="4.36" fill="url(#gs)"/>
<circle cx="113.53" cy="51.36" r="4" fill="url(#gs)"/>
<circle cx="137.06" cy="79.44" r="4.08" fill="url(#gs)"/>
<circle cx="135.96" cy="73.75" r="3.95" fill="url(#gs)"/>
<circle cx="167.03" cy="73.45" r="4.36" fill="url(#gs)"/>
<circle cx="169.8" cy="68.68" r="4.26" fill="url(#gs)"/>
<circle cx="67.83" cy="39.32" r="4.2" fill="#a214a2"/>
<circle cx="66.17" cy="35.81" r="4.14" fill="#a214a2"/>
<circle cx="70.99" cy="35.74" r="4.27" fill="#a214a2"/>
<circle cx="57.61" cy="39.48" r="4.21" fill="#a214a2"/>
<circle cx="61.3" cy="36.14" r="4" fill="#a214a2"/>
<circle cx="64.08" cy="39.91" r="3.84" fill="#a214a2"/>
<circle cx="67.83" cy="39.32" r="3.7" fill="url(#msd)"/>
<circle cx="66.17" cy="35.81" r="3.64" fill="url(#msd)"/>
<circle cx="70.99" cy="35.74" r="3.77" fill="url(#msd)"/>
<circle cx="57.61" cy="39.48" r="3.71" fill="url(#msd)"/>
<circle cx="61.3" cy="36.14" r="3.5" fill="url(#msd)"/>
<circle cx="64.08" cy="39.91" r="3.34" fill="url(#msd)"/>
<circle cx="63.74" cy="34.11" r="4.09" fill="url(#ms)"/>
<circle cx="58.78" cy="39.25" r="4.43" fill="url(#ms)"/>
<circle cx="69.47" cy="33.33" r="4.37" fill="url(#ms)"/>
<circle cx="67.34" cy="39.8" r="4.26" fill="url(#ms)"/>
<circle cx="63.42" cy="62.07" r="3.82" fill="#a214a2"/>
<circle cx="68.88" cy="62.32" r="3.96" fill="#a214a2"/>
<circle cx="63.42" cy="62.07" r="3.32" fill="url(#msd)"/>
<circle cx="68.88" cy="62.32" r="3.46" fill="url(#msd)"/>
<circle cx="59.59" cy="61.19" r="4.09" fill="url(#ms)"/>
<circle cx="64.7" cy="61.58" r="4.4" fill="url(#ms)"/>
<circle cx="71.33" cy="60.88" r="4.2" fill="url(#ms)"/>
<circle cx="88.58" cy="78.06" r="3.95" fill="#a214a2"/>
<circle cx="88.06" cy="61.78" r="4.35" fill="#a214a2"/>
<circle cx="90.36" cy="65.5" r="4.23" fill="#a214a2"/>
<circle cx="95.79" cy="57.85" r="4.22" fill="#a214a2"/>
<circle cx="74.39" cy="83.51" r="4.24" fill="#a214a2"/>
<circle cx="79.94" cy="66.79" r="4.28" fill="#a214a2"/>
<circle cx="87.62" cy="53.28" r="3.97" fill="#a214a2"/>
<circle cx="88.43" cy="71.3" r="3.93" fill="#a214a2"/>
<circle cx="84.89" cy="49.47" r="3.93" fill="#a214a2"/>
<circle cx="94.76" cy="48.71" r="4.1" fill="#a214a2"/>
<circle cx="81.06" cy="75.59" r="3.94" fill="#a214a2"/>
<circle cx="82.58" cy="53.86" r="4.27" fill="#a214a2"/>
<circle cx="90.85" cy="57.88" r="4.17" fill="#a214a2"/>
<circle cx="92.09" cy="36.02" r="3.94" fill="#a214a2"/>
<circle cx="80.24" cy="48.57" r="3.94" fill="#a214a2"/>
<circle cx="78.08" cy="62.14" r="4.19" fill="#a214a2"/>
<circle cx="93.58" cy="43.41" r="4.27" fill="#a214a2"/>
<circle cx="71.86" cy="88.05" r="4.23" fill="#a214a2"/>
<circle cx="96.85" cy="44.28" r="4.16" fill="#a214a2"/>
<circle cx="82.86" cy="69.41" r="4.35" fill="#a214a2"/>
<circle cx="96.13" cy="75.22" r="4.37" fill="#a214a2"/>
<circle cx="91.97" cy="70.91" r="4.13" fill="#a214a2"/>
<circle cx="91.14" cy="75.07" r="4.36" fill="#a214a2"/>
<circle cx="97.01" cy="62.13" r="4.03" fill="#a214a2"/>
<circle cx="75.53" cy="91.27" r="4.1" fill="#a214a2"/>
<circle cx="106.25" cy="48.76" r="4.26" fill="#a214a2"/>
<circle cx="86.25" cy="66.7" r="3.99" fill="#a214a2"/>
<circle cx="77.02" cy="70.81" r="4.41" fill="#a214a2"/>
<circle cx="76.98" cy="52.17" r="4.35" fill="#a214a2"/>
<circle cx="97.21" cy="70.5" r="4.34" fill="#a214a2"/>
<circle cx="85.18" cy="74.84" r="4.14" fill="#a214a2"/>
<circle cx="91" cy="39.38" r="4.07" fill="#a214a2"/>
<circle cx="91.23" cy="48.66" r="4.01" fill="#a214a2"/>
<circle cx="77.8" cy="78.81" r="4.1" fill="#a214a2"/>
<circle cx="92.43" cy="61.36" r="4.3" fill="#a214a2"/>
<circle cx="87.52" cy="44.39" r="3.95" fill="#a214a2"/>
<circle cx="83.2" cy="79.65" r="4.01" fill="#a214a2"/>
<circle cx="94.55" cy="39.47" r="4.08" fill="#a214a2"/>
<circle cx="86.09" cy="56.33" r="4.07" fill="#a214a2"/>
<circle cx="71.22" cy="83.95" r="4.22" fill="#a214a2"/>
<circle cx="82.88" cy="61.77" r="4.33" fill="#a214a2"/>
<circle cx="93.56" cy="52.06" r="3.94" fill="#a214a2"/>
<circle cx="97.63" cy="36.4" r="3.95" fill="#a214a2"/>
<circle cx="83.61" cy="43.87" r="4.3" fill="#a214a2"/>
<circle cx="102.04" cy="45.16" r="4.24" fill="#a214a2"/>
<circle cx="72.23" cy="96.22" r="4.06" fill="#a214a2"/>
<circle cx="99.37" cy="40.84" r="4.03" fill="#a214a2"/>
<circle cx="70.64" cy="93.07" r="3.92" fill="#a214a2"/>
<circle cx="100.94" cy="48.16" r="4.15" fill="#a214a2"/>
<circle cx="68.56" cy="86.89" r="4.33" fill="#a214a2"/>
<circle cx="80.46" cy="83.23" r="3.93" fill="#a214a2"/>
<circle cx="94.49" cy="31.41" r="4.03" fill="#a214a2"/>
<circle cx="97.54" cy="53.01" r="3.94" fill="#a214a2"/>
<circle cx="76.97" cy="87.87" r="4.2" fill="#a214a2"/>
<circle cx="80.82" cy="56.45" r="3.93" fill="#a214a2"/>
<circle cx="95.08" cy="65.71" r="4.05" fill="#a214a2"/>
<circle cx="88.58" cy="78.06" r="3.45" fill="url(#msd)"/>
<circle cx="88.06" cy="61.78" r="3.85" fill="url(#msd)"/>
<circle cx="90.36" cy="65.5" r="3.73" fill="url(#msd)"/>
<circle cx="95.79" cy="57.85" r="3.72" fill="url(#msd)"/>
<circle cx="74.39" cy="83.51" r="3.74" fill="url(#msd)"/>
<circle cx="79.94" cy="66.79" r="3.78" fill="url(#msd)"/>
<circle cx="87.62" cy="53.28" r="3.47" fill="url(#msd)"/>
<circle cx="88.43" cy="71.3" r="3.43" fill="url(#msd)"/>
<circle cx="84.89" cy="49.47" r="3.43" fill="url(#msd)"/>
<circle cx="94.76" cy="48.71" r="3.6" fill="url(#msd)"/>
<circle cx="81.06" cy="75.59" r="3.44" fill="url(#msd)"/>
<circle cx="82.58" cy="53.86" r="3.77" fill="url(#msd)"/>
<circle cx="90.85" cy="57.88" r="3.67" fill="url(#msd)"/>
<circle cx="92.09" cy="36.02" r="3.44" fill="url(#msd)"/>
<circle cx="80.24" cy="48.57" r="3.44" fill="url(#msd)"/>
<circle cx="78.08" cy="62.14" r="3.69" fill="url(#msd)"/>
<circle cx="93.58" cy="43.41" r="3.77" fill="url(#msd)"/>
<circle cx="71.86" cy="88.05" r="3.73" fill="url(#msd)"/>
<circle cx="96.85" cy="44.28" r="3.66" fill="url(#msd)"/>
<circle cx="82.86" cy="69.41" r="3.85" fill="url(#msd)"/>
<circle cx="96.13" cy="75.22" r="3.87" fill="url(#msd)"/>
<circle cx="91.97" cy="70.91" r="3.63" fill="url(#msd)"/>
<circle cx="91.14" cy="75.07" r="3.86" fill="url(#msd)"/>
<circle cx="97.01" cy="62.13" r="3.53" fill="url(#msd)"/>
<circle cx="75.53" cy="91.27" r="3.6" fill="url(#msd)"/>
<circle cx="106.25" cy="48.76" r="3.76" fill="url(#msd)"/>
<circle cx="86.25" cy="66.7" r="3.49" fill="url(#msd)"/>
<circle cx="77.02" cy="70.81" r="3.91" fill="url(#msd)"/>
<circle cx="76.98" cy="52.17" r="3.85" fill="url(#msd)"/>
<circle cx="97.21" cy="70.5" r="3.84" fill="url(#msd)"/>
<circle cx="85.18" cy="74.84" r="3.64" fill="url(#msd)"/>
<circle cx="91" cy="39.38" r="3.57" fill="url(#msd)"/>
<circle cx="91.23" cy="48.66" r="3.51" fill="url(#msd)"/>
<circle cx="77.8" cy="78.81" r="3.6" fill="url(#msd)"/>
<circle cx="92.43" cy="61.36" r="3.8" fill="url(#msd)"/>
<circle cx="87.52" cy="44.39" r="3.45" fill="url(#msd)"/>
<circle cx="83.2" cy="79.65" r="3.51" fill="url(#msd)"/>
<circle cx="94.55" cy="39.47" r="3.58" fill="url(#msd)"/>
<circle cx="86.09" cy="56.33" r="3.57" fill="url(#msd)"/>
<circle cx="71.22" cy="83.95" r="3.72" fill="url(#msd)"/>
<circle cx="82.88" cy="61.77" r="3.83" fill="url(#msd)"/>
<circle cx="93.56" cy="52.06" r="3.44" fill="url(#msd)"/>
<circle cx="97.63" cy="36.4" r="3.45" fill="url(#msd)"/>
<circle cx="83.61" cy="43.87" r="3.8" fill="url(#msd)"/>
<circle cx="102.04" cy="45.16" r="3.74" fill="url(#msd)"/>
<circle cx="72.23" cy="96.22" r="3.56" fill="url(#msd)"/>
<circle cx="99.37" cy="40.84" r="3.53" fill="url(#msd)"/>
<circle cx="70.64" cy="93.07" r="3.42" fill="url(#msd)"/>
<circle cx="100.94" cy="48.16" r="3.65" fill="url(#msd)"/>
<circle cx="68.56" cy="86.89" r="3.83" fill="url(#msd)"/>
<circle cx="80.46" cy="83.23" r="3.43" fill="url(#msd)"/>
<circle cx="94.49" cy="31.41" r="3.53" fill="url(#msd)"/>
<circle cx="97.54" cy="53.01" r="3.44" fill="url(#msd)"/>
<circle cx="76.97" cy="87.87" r="3.7" fill="url(#msd)"/>
<circle cx="80.82" cy="56.45" r="3.43" fill="url(#msd)"/>
<circle cx="95.08" cy="65.71" r="3.55" fill="url(#msd)"/>
<circle cx="87.03" cy="65.47" r="4.23" fill="url(#ms)"/>
<circle cx="86.77" cy="53.74" r="4.49" fill="url(#ms)"/>
<circle cx="94.96" cy="71.51" r="4.21" fill="url(#ms)"/>
<circle cx="90.32" cy="58.26" r="4.52" fill="url(#ms)"/>
<circle cx="74.82" cy="48.45" r="4.45" fill="url(#ms)"/>
<circle cx="82.32" cy="71.1" r="4.44" fill="url(#ms)"/>
<circle cx="88.5" cy="48.39" r="4.5" fill="url(#ms)"/>
<circle cx="91.35" cy="52.78" r="4.26" fill="url(#ms)"/>
<circle cx="89.42" cy="71.3" r="4.09" fill="url(#ms)"/>
<circle cx="99.17" cy="41.76" r="4.41" fill="url(#ms)"/>
<circle cx="77.8" cy="53.68" r="4.2" fill="url(#ms)"/>
<circle cx="94.81" cy="35.24" r="4.36" fill="url(#ms)"/>
<circle cx="92.28" cy="40.31" r="4.14" fill="url(#ms)"/>
<circle cx="93.05" cy="63.77" r="4.17" fill="url(#ms)"/>
<circle cx="97.32" cy="60.04" r="4.38" fill="url(#ms)"/>
<circle cx="94.42" cy="48.12" r="4.49" fill="url(#ms)"/>
<circle cx="71.33" cy="87.27" r="4.25" fill="url(#ms)"/>
<circle cx="69.69" cy="92.61" r="4.54" fill="url(#ms)"/>
<circle cx="78.58" cy="75.91" r="4.42" fill="url(#ms)"/>
<circle cx="77.91" cy="64.29" r="4.12" fill="url(#ms)"/>
<circle cx="75.62" cy="94.55" r="4.06" fill="url(#ms)"/>
<circle cx="75.11" cy="80.8" r="4.3" fill="url(#ms)"/>
<circle cx="87.21" cy="77.77" r="4.43" fill="url(#ms)"/>
<circle cx="78.66" cy="88.18" r="4.49" fill="url(#ms)"/>
<circle cx="98.74" cy="54.45" r="4.05" fill="url(#ms)"/>
<circle cx="102.32" cy="46.69" r="4.57" fill="url(#ms)"/>
<circle cx="91.33" cy="75.61" r="4.39" fill="url(#ms)"/>
<circle cx="83.02" cy="46.18" r="4.27" fill="url(#ms)"/>
<circle cx="83.32" cy="58.79" r="4.36" fill="url(#ms)"/>
<circle cx="94.93" cy="20.94" r="4.02" fill="#626262"/>
<circle cx="72.27" cy="15.26" r="3.84" fill="#626262"/>
<circle cx="61.26" cy="24.54" r="3.83" fill="#626262"/>
<circle cx="84.33" cy="21.15" r="4.2" fill="#626262"/>
<circle cx="98.93" cy="10.95" r="4.14" fill="#626262"/>
<circle cx="96.28" cy="15.97" r="3.87" fill="#626262"/>
<circle cx="74.91" cy="11.88" r="4.03" fill="#626262"/>
<circle cx="64.62" cy="12.1" r="4.12" fill="#626262"/>
<circle cx="57.12" cy="15.88" r="4.3" fill="#626262"/>
<circle cx="86.43" cy="16.84" r="3.97" fill="#626262"/>
<circle cx="51.8" cy="32.71" r="4.18" fill="#626262"/>
<circle cx="89.71" cy="11.92" r="3.92" fill="#626262"/>
<circle cx="40.8" cy="24.36" r="3.9" fill="#626262"/>
<circle cx="55.88" cy="25.9" r="3.88" fill="#626262"/>
<circle cx="38.6" cy="28.86" r="4.01" fill="#626262"/>
<circle cx="50.18" cy="20.99" r="4.11" fill="#626262"/>
<circle cx="92.01" cy="16.01" r="3.95" fill="#626262"/>
<circle cx="51.31" cy="23.98" r="3.88" fill="#626262"/>
<circle cx="53.78" cy="29.68" r="3.91" fill="#626262"/>
<circle cx="46.54" cy="33.83" r="3.84" fill="#626262"/>
<circle cx="42.61" cy="32.65" r="3.9" fill="#626262"/>
<circle cx="44.31" cy="28.9" r="3.96" fill="#626262"/>
<circle cx="79.2" cy="12.55" r="4.05" fill="#626262"/>
<circle cx="58.67" cy="21.17" r="3.89" fill="#626262"/>
<circle cx="69.17" cy="10.98" r="4.04" fill="#626262"/>
<circle cx="54.07" cy="20" r="4.02" fill="#626262"/>
<circle cx="94.86" cy="12.3" r="4.29" fill="#626262"/>
<circle cx="68.7" cy="21.12" r="4.04" fill="#626262"/>
<circle cx="82.2" cy="8.11" r="4.27" fill="#626262"/>
<circle cx="64.82" cy="20.34" r="4.04" fill="#626262"/>
<circle cx="91.41" cy="8.05" r="3.9" fill="#626262"/>
<circle cx="96.43" cy="7.09" r="4.1" fill="#626262"/>
<circle cx="88.36" cy="20.58" r="3.87" fill="#626262"/>
<circle cx="46.49" cy="25.47" r="3.88" fill="#626262"/>
<circle cx="61.84" cy="15.49" r="3.84" fill="#626262"/>
<circle cx="74.8" cy="21.38" r="4.15" fill="#626262"/>
<circle cx="67.19" cy="16.63" r="4.28" fill="#626262"/>
<circle cx="81.86" cy="16.6" r="4" fill="#626262"/>
<circle cx="59.64" cy="28.36" r="3.98" fill="#626262"/>
<circle cx="77.62" cy="16.54" r="4.01" fill="#626262"/>
<circle cx="49.17" cy="28.86" r="3.98" fill="#626262"/>
<circle cx="85.18" cy="11.69" r="4.15" fill="#626262"/>
<circle cx="79.28" cy="21.28" r="4" fill="#626262"/>
<circle cx="86.59" cy="7.55" r="3.88" fill="#626262"/>
<circle cx="94.93" cy="20.94" r="3.52" fill="url(#gsd)"/>
<circle cx="72.27" cy="15.26" r="3.34" fill="url(#gsd)"/>
<circle cx="61.26" cy="24.54" r="3.33" fill="url(#gsd)"/>
<circle cx="84.33" cy="21.15" r="3.7" fill="url(#gsd)"/>
<circle cx="98.93" cy="10.95" r="3.64" fill="url(#gsd)"/>
<circle cx="96.28" cy="15.97" r="3.37" fill="url(#gsd)"/>
<circle cx="74.91" cy="11.88" r="3.53" fill="url(#gsd)"/>
<circle cx="64.62" cy="12.1" r="3.62" fill="url(#gsd)"/>
<circle cx="57.12" cy="15.88" r="3.8" fill="url(#gsd)"/>
<circle cx="86.43" cy="16.84" r="3.47" fill="url(#gsd)"/>
<circle cx="51.8" cy="32.71" r="3.68" fill="url(#gsd)"/>
<circle cx="89.71" cy="11.92" r="3.42" fill="url(#gsd)"/>
<circle cx="40.8" cy="24.36" r="3.4" fill="url(#gsd)"/>
<circle cx="55.88" cy="25.9" r="3.38" fill="url(#gsd)"/>
<circle cx="38.6" cy="28.86" r="3.51" fill="url(#gsd)"/>
<circle cx="50.18" cy="20.99" r="3.61" fill="url(#gsd)"/>
<circle cx="92.01" cy="16.01" r="3.45" fill="url(#gsd)"/>
<circle cx="51.31" cy="23.98" r="3.38" fill="url(#gsd)"/>
<circle cx="53.78" cy="29.68" r="3.41" fill="url(#gsd)"/>
<circle cx="46.54" cy="33.83" r="3.34" fill="url(#gsd)"/>
<circle cx="42.61" cy="32.65" r="3.4" fill="url(#gsd)"/>
<circle cx="44.31" cy="28.9" r="3.46" fill="url(#gsd)"/>
<circle cx="79.2" cy="12.55" r="3.55" fill="url(#gsd)"/>
<circle cx="58.67" cy="21.17" r="3.39" fill="url(#gsd)"/>
<circle cx="69.17" cy="10.98" r="3.54" fill="url(#gsd)"/>
<circle cx="54.07" cy="20" r="3.52" fill="url(#gsd)"/>
<circle cx="94.86" cy="12.3" r="3.79" fill="url(#gsd)"/>
<circle cx="68.7" cy="21.12" r="3.54" fill="url(#gsd)"/>
<circle cx="82.2" cy="8.11" r="3.77" fill="url(#gsd)"/>
<circle cx="64.82" cy="20.34" r="3.54" fill="url(#gsd)"/>
<circle cx="91.41" cy="8.05" r="3.4" fill="url(#gsd)"/>
<circle cx="96.43" cy="7.09" r="3.6" fill="url(#gsd)"/>
<circle cx="88.36" cy="20.58" r="3.37" fill="url(#gsd)"/>
<circle cx="46.49" cy="25.47" r="3.38" fill="url(#gsd)"/>
<circle cx="61.84" cy="15.49" r="3.34" fill="url(#gsd)"/>
<circle cx="74.8" cy="21.38" r="3.65" fill="url(#gsd)"/>
<circle cx="67.19" cy="16.63" r="3.78" fill="url(#gsd)"/>
<circle cx="81.86" cy="16.6" r="3.5" fill="url(#gsd)"/>
<circle cx="59.64" cy="28.36" r="3.48" fill="url(#gsd)"/>
<circle cx="77.62" cy="16.54" r="3.51" fill="url(#gsd)"/>
<circle cx="49.17" cy="28.86" r="3.48" fill="url(#gsd)"/>
<circle cx="85.18" cy="11.69" r="3.65" fill="url(#gsd)"/>
<circle cx="79.28" cy="21.28" r="3.5" fill="url(#gsd)"/>
<circle cx="86.59" cy="7.55" r="3.38" fill="url(#gsd)"/>
<circle cx="83.9" cy="7.92" r="4.14" fill="url(#gs)"/>
<circle cx="85.33" cy="16.55" r="4.47" fill="url(#gs)"/>
<circle cx="49" cy="23.32" r="4.18" fill="url(#gs)"/>
<circle cx="57.72" cy="28.99" r="3.97" fill="url(#gs)"/>
<circle cx="50.65" cy="30.73" r="4.35" fill="url(#gs)"/>
<circle cx="78.01" cy="18.34" r="3.99" fill="url(#gs)"/>
<circle cx="86.23" cy="10.87" r="4.31" fill="url(#gs)"/>
<circle cx="81.48" cy="11.15" r="3.93" fill="url(#gs)"/>
<circle cx="45.13" cy="29.75" r="4.49" fill="url(#gs)"/>
<circle cx="72.92" cy="10.87" r="4.22" fill="url(#gs)"/>
<circle cx="79.46" cy="22.74" r="4.34" fill="url(#gs)"/>
<circle cx="67.91" cy="10.75" r="3.98" fill="url(#gs)"/>
<circle cx="65.15" cy="17.66" r="4.28" fill="url(#gs)"/>
<circle cx="55.63" cy="23.56" r="4.13" fill="url(#gs)"/>
<circle cx="60.35" cy="22.98" r="4.05" fill="url(#gs)"/>
<circle cx="56.42" cy="18.82" r="4.39" fill="url(#gs)"/>
<circle cx="41.25" cy="24.32" r="3.92" fill="url(#gs)"/>
<circle cx="90.85" cy="6.47" r="4.19" fill="url(#gs)"/>
<circle cx="61.73" cy="11.2" r="3.95" fill="url(#gs)"/>
<circle cx="69.3" cy="19.22" r="4.41" fill="url(#gs)"/>
<circle cx="48.23" cy="34.96" r="4.44" fill="url(#gs)"/>
<circle cx="96.46" cy="6.18" r="3.92" fill="url(#gs)"/>
<circle cx="92.94" cy="13.03" r="4.18" fill="url(#gs)"/>
<circle cx="41.44" cy="35.48" r="4.18" fill="url(#gs)"/>
<circle cx="88.98" cy="16.82" r="4.33" fill="url(#gs)"/>
<circle cx="58.64" cy="51.32" r="4.11" fill="#626262"/>
<circle cx="57.3" cy="55.02" r="4.13" fill="#626262"/>
<circle cx="54.24" cy="59.47" r="3.88" fill="#626262"/>
<circle cx="37.92" cy="59.21" r="4.16" fill="#626262"/>
<circle cx="48.14" cy="59.77" r="4.08" fill="#626262"/>
<circle cx="40.97" cy="55.01" r="3.98" fill="#626262"/>
<circle cx="49.42" cy="50.58" r="4.25" fill="#626262"/>
<circle cx="43.31" cy="59.11" r="3.93" fill="#626262"/>
<circle cx="46.53" cy="55.65" r="3.87" fill="#626262"/>
<circle cx="53.22" cy="51.17" r="3.88" fill="#626262"/>
<circle cx="38.89" cy="49.94" r="3.87" fill="#626262"/>
<circle cx="35.81" cy="54" r="4.09" fill="#626262"/>
<circle cx="61.49" cy="55.48" r="4.2" fill="#626262"/>
<circle cx="34.85" cy="58.23" r="3.88" fill="#626262"/>
<circle cx="51.77" cy="54.47" r="4.05" fill="#626262"/>
<circle cx="43.64" cy="50.51" r="4.09" fill="#626262"/>
<circle cx="47.23" cy="46.66" r="4.08" fill="#626262"/>
<circle cx="66.74" cy="54.47" r="4.01" fill="#626262"/>
<circle cx="58.64" cy="51.32" r="3.61" fill="url(#gsd)"/>
<circle cx="57.3" cy="55.02" r="3.63" fill="url(#gsd)"/>
<circle cx="54.24" cy="59.47" r="3.38" fill="url(#gsd)"/>
<circle cx="37.92" cy="59.21" r="3.66" fill="url(#gsd)"/>
<circle cx="48.14" cy="59.77" r="3.58" fill="url(#gsd)"/>
<circle cx="40.97" cy="55.01" r="3.48" fill="url(#gsd)"/>
<circle cx="49.42" cy="50.58" r="3.75" fill="url(#gsd)"/>
<circle cx="43.31" cy="59.11" r="3.43" fill="url(#gsd)"/>
<circle cx="46.53" cy="55.65" r="3.37" fill="url(#gsd)"/>
<circle cx="53.22" cy="51.17" r="3.38" fill="url(#gsd)"/>
<circle cx="38.89" cy="49.94" r="3.37" fill="url(#gsd)"/>
<circle cx="35.81" cy="54" r="3.59" fill="url(#gsd)"/>
<circle cx="61.49" cy="55.48" r="3.7" fill="url(#gsd)"/>
<circle cx="34.85" cy="58.23" r="3.38" fill="url(#gsd)"/>
<circle cx="51.77" cy="54.47" r="3.55" fill="url(#gsd)"/>
<circle cx="43.64" cy="50.51" r="3.59" fill="url(#gsd)"/>
<circle cx="47.23" cy="46.66" r="3.58" fill="url(#gsd)"/>
<circle cx="66.74" cy="54.47" r="3.51" fill="url(#gsd)"/>
<circle cx="47.91" cy="50.8" r="3.95" fill="url(#gs)"/>
<circle cx="54.83" cy="48.42" r="3.93" fill="url(#gs)"/>
<circle cx="57.24" cy="56.5" r="4.02" fill="url(#gs)"/>
<circle cx="48.3" cy="59.51" r="4.06" fill="url(#gs)"/>
<circle cx="41.77" cy="59.83" r="4.28" fill="url(#gs)"/>
<circle cx="65.06" cy="54.96" r="4.13" fill="url(#gs)"/>
<circle cx="42.37" cy="49.29" r="4.31" fill="url(#gs)"/>
<circle cx="37.39" cy="55.22" r="4.05" fill="url(#gs)"/>
<circle cx="50.1" cy="54.56" r="3.96" fill="url(#gs)"/>
<circle cx="46" cy="54.37" r="4.45" fill="url(#gs)"/>
<circle cx="54.11" cy="80.99" r="3.89" fill="#626262"/>
<circle cx="54.62" cy="72.68" r="3.8" fill="#626262"/>
<circle cx="59.74" cy="72.02" r="4.01" fill="#626262"/>
<circle cx="47.66" cy="75.11" r="4.03" fill="#626262"/>
<circle cx="56.07" cy="84.1" r="4.26" fill="#626262"/>
<circle cx="51.51" cy="75.69" r="3.97" fill="#626262"/>
<circle cx="37.74" cy="76.14" r="3.98" fill="#626262"/>
<circle cx="57.36" cy="76.51" r="4.16" fill="#626262"/>
<circle cx="36.31" cy="84.06" r="3.85" fill="#626262"/>
<circle cx="71.72" cy="76.36" r="4.06" fill="#626262"/>
<circle cx="53.91" cy="89.26" r="3.86" fill="#626262"/>
<circle cx="62.72" cy="76.47" r="3.95" fill="#626262"/>
<circle cx="63.76" cy="70.74" r="4.07" fill="#626262"/>
<circle cx="52.35" cy="84.24" r="3.91" fill="#626262"/>
<circle cx="44.37" cy="80.62" r="3.99" fill="#626262"/>
<circle cx="64.94" cy="80.87" r="4.22" fill="#626262"/>
<circle cx="42.28" cy="85.18" r="4.1" fill="#626262"/>
<circle cx="50.28" cy="81.14" r="4.08" fill="#626262"/>
<circle cx="39.97" cy="88.33" r="3.94" fill="#626262"/>
<circle cx="69.36" cy="71.9" r="4.18" fill="#626262"/>
<circle cx="46.7" cy="83.87" r="4.11" fill="#626262"/>
<circle cx="59.18" cy="80.34" r="4.16" fill="#626262"/>
<circle cx="42.09" cy="75.64" r="4.22" fill="#626262"/>
<circle cx="61.11" cy="84.6" r="3.98" fill="#626262"/>
<circle cx="66.91" cy="75.22" r="4.29" fill="#626262"/>
<circle cx="68.87" cy="79.6" r="4.12" fill="#626262"/>
<circle cx="48.75" cy="71.41" r="3.87" fill="#626262"/>
<circle cx="43.91" cy="72.15" r="4.14" fill="#626262"/>
<circle cx="33.53" cy="80.5" r="3.86" fill="#626262"/>
<circle cx="39.18" cy="80.22" r="3.88" fill="#626262"/>
<circle cx="32.92" cy="84.33" r="3.81" fill="#626262"/>
<circle cx="54.11" cy="80.99" r="3.39" fill="url(#gsd)"/>
<circle cx="54.62" cy="72.68" r="3.3" fill="url(#gsd)"/>
<circle cx="59.74" cy="72.02" r="3.51" fill="url(#gsd)"/>
<circle cx="47.66" cy="75.11" r="3.53" fill="url(#gsd)"/>
<circle cx="56.07" cy="84.1" r="3.76" fill="url(#gsd)"/>
<circle cx="51.51" cy="75.69" r="3.47" fill="url(#gsd)"/>
<circle cx="37.74" cy="76.14" r="3.48" fill="url(#gsd)"/>
<circle cx="57.36" cy="76.51" r="3.66" fill="url(#gsd)"/>
<circle cx="36.31" cy="84.06" r="3.35" fill="url(#gsd)"/>
<circle cx="71.72" cy="76.36" r="3.56" fill="url(#gsd)"/>
<circle cx="53.91" cy="89.26" r="3.36" fill="url(#gsd)"/>
<circle cx="62.72" cy="76.47" r="3.45" fill="url(#gsd)"/>
<circle cx="63.76" cy="70.74" r="3.57" fill="url(#gsd)"/>
<circle cx="52.35" cy="84.24" r="3.41" fill="url(#gsd)"/>
<circle cx="44.37" cy="80.62" r="3.49" fill="url(#gsd)"/>
<circle cx="64.94" cy="80.87" r="3.72" fill="url(#gsd)"/>
<circle cx="42.28" cy="85.18" r="3.6" fill="url(#gsd)"/>
<circle cx="50.28" cy="81.14" r="3.58" fill="url(#gsd)"/>
<circle cx="39.97" cy="88.33" r="3.44" fill="url(#gsd)"/>
<circle cx="69.36" cy="71.9" r="3.68" fill="url(#gsd)"/>
<circle cx="46.7" cy="83.87" r="3.61" fill="url(#gsd)"/>
<circle cx="59.18" cy="80.34" r="3.66" fill="url(#gsd)"/>
<circle cx="42.09" cy="75.64" r="3.72" fill="url(#gsd)"/>
<circle cx="61.11" cy="84.6" r="3.48" fill="url(#gsd)"/>
<circle cx="66.91" cy="75.22" r="3.79" fill="url(#gsd)"/>
<circle cx="68.87" cy="79.6" r="3.62" fill="url(#gsd)"/>
<circle cx="48.75" cy="71.41" r="3.37" fill="url(#gsd)"/>
<circle cx="43.91" cy="72.15" r="3.64" fill="url(#gsd)"/>
<circle cx="33.53" cy="80.5" r="3.36" fill="url(#gsd)"/>
<circle cx="39.18" cy="80.22" r="3.38" fill="url(#gsd)"/>
<circle cx="32.92" cy="84.33" r="3.31" fill="url(#gsd)"/>
<circle cx="45.84" cy="78" r="3.96" fill="url(#gs)"/>
<circle cx="61.07" cy="77.03" r="4.16" fill="url(#gs)"/>
<circle cx="44.46" cy="70.88" r="4.37" fill="url(#gs)"/>
<circle cx="44.89" cy="80.88" r="4.18" fill="url(#gs)"/>
<circle cx="63.31" cy="71.39" r="4.11" fill="url(#gs)"/>
<circle cx="39.48" cy="75.85" r="4.19" fill="url(#gs)"/>
<circle cx="55.7" cy="71.74" r="4.27" fill="url(#gs)"/>
<circle cx="72" cy="77.61" r="4.36" fill="url(#gs)"/>
<circle cx="67.38" cy="75.91" r="4.38" fill="url(#gs)"/>
<circle cx="45.78" cy="87.37" r="4.32" fill="url(#gs)"/>
<circle cx="30.28" cy="82.39" r="4.14" fill="url(#gs)"/>
<circle cx="70.77" cy="71.25" r="4" fill="url(#gs)"/>
<circle cx="54.32" cy="77.89" r="4.2" fill="url(#gs)"/>
<circle cx="62.17" cy="83.21" r="4.45" fill="url(#gs)"/>
<circle cx="58.82" cy="87.56" r="4.46" fill="url(#gs)"/>
<circle cx="40.05" cy="87.13" r="3.99" fill="url(#gs)"/>
<circle cx="50.5" cy="82.52" r="4.36" fill="url(#gs)"/>
<circle cx="35.83" cy="80.82" r="4.16" fill="url(#gs)"/>
<circle cx="34.34" cy="75.24" r="4.01" fill="url(#gs)"/>
<circle cx="53.83" cy="88.3" r="4.48" fill="url(#gs)"/>
<circle cx="57.3" cy="82.26" r="4.03" fill="url(#gs)"/>
<circle cx="84.96" cy="32.43" r="4.16" fill="#626262"/>
<circle cx="71.48" cy="37.25" r="4.06" fill="#626262"/>
<circle cx="89.94" cy="23.79" r="3.92" fill="#626262"/>
<circle cx="73.2" cy="33.44" r="3.83" fill="#626262"/>
<circle cx="78.65" cy="32.09" r="3.82" fill="#626262"/>
<circle cx="96.04" cy="20.34" r="3.84" fill="#626262"/>
<circle cx="86.02" cy="27.86" r="3.82" fill="#626262"/>
<circle cx="66.4" cy="36.58" r="3.95" fill="#626262"/>
<circle cx="76.77" cy="36.4" r="4.2" fill="#626262"/>
<circle cx="98.4" cy="23.77" r="4.14" fill="#626262"/>
<circle cx="91.2" cy="28.87" r="3.88" fill="#626262"/>
<circle cx="82.31" cy="29.21" r="3.85" fill="#626262"/>
<circle cx="94.98" cy="24.19" r="4.12" fill="#626262"/>
<circle cx="63.62" cy="40.4" r="4.3" fill="#626262"/>
<circle cx="84.96" cy="32.43" r="3.66" fill="url(#gsd)"/>
<circle cx="71.48" cy="37.25" r="3.56" fill="url(#gsd)"/>
<circle cx="89.94" cy="23.79" r="3.42" fill="url(#gsd)"/>
<circle cx="73.2" cy="33.44" r="3.33" fill="url(#gsd)"/>
<circle cx="78.65" cy="32.09" r="3.32" fill="url(#gsd)"/>
<circle cx="96.04" cy="20.34" r="3.34" fill="url(#gsd)"/>
<circle cx="86.02" cy="27.86" r="3.32" fill="url(#gsd)"/>
<circle cx="66.4" cy="36.58" r="3.45" fill="url(#gsd)"/>
<circle cx="76.77" cy="36.4" r="3.7" fill="url(#gsd)"/>
<circle cx="98.4" cy="23.77" r="3.64" fill="url(#gsd)"/>
<circle cx="91.2" cy="28.87" r="3.38" fill="url(#gsd)"/>
<circle cx="82.31" cy="29.21" r="3.35" fill="url(#gsd)"/>
<circle cx="94.98" cy="24.19" r="3.62" fill="url(#gsd)"/>
<circle cx="63.62" cy="40.4" r="3.8" fill="url(#gsd)"/>
<circle cx="84.5" cy="34.45" r="3.94" fill="url(#gs)"/>
<circle cx="68.31" cy="40.61" r="4.32" fill="url(#gs)"/>
<circle cx="93.15" cy="27.35" r="4.25" fill="url(#gs)"/>
<circle cx="71.41" cy="35.27" r="4.33" fill="url(#gs)"/>
<circle cx="91.68" cy="23.43" r="4.07" fill="url(#gs)"/>
<circle cx="65.93" cy="35.74" r="4.2" fill="url(#gs)"/>
<circle cx="89.18" cy="27.48" r="4.01" fill="url(#gs)"/>
<circle cx="76.93" cy="35.39" r="4.16" fill="url(#gs)"/>
<circle cx="97.24" cy="24.3" r="4.07" fill="url(#gs)"/>
<text x="507.1" y="19.2" font-family="'Liberation Serif', serif" font-size="9.6" font-weight="normal" text-anchor="middle" fill="#111" >kD</text>
<text x="500.5" y="33.3" font-family="'Liberation Serif', serif" font-size="9.8" font-weight="normal" text-anchor="end" fill="#111" >70</text>
<line x1="504.2" y1="29.9" x2="516.5" y2="29.9" stroke="#222" stroke-width="0.9" />
<text x="500.5" y="52.4" font-family="'Liberation Serif', serif" font-size="9.8" font-weight="normal" text-anchor="end" fill="#111" >70</text>
<line x1="504.2" y1="49" x2="516.5" y2="49" stroke="#222" stroke-width="0.9" />
<text x="500.5" y="80.1" font-family="'Liberation Serif', serif" font-size="9.8" font-weight="normal" text-anchor="end" fill="#111" >45</text>
<line x1="504.2" y1="76.7" x2="516.5" y2="76.7" stroke="#222" stroke-width="0.9" />
<line x1="613.5" y1="28.5" x2="629.5" y2="28.5" stroke="#222" stroke-width="0.9" />
<text x="631.5" y="31.9" font-family="'Liberation Serif', serif" font-size="10.3" font-weight="normal" text-anchor="start" fill="#111" >p65</text>
<line x1="613.5" y1="58.4" x2="629.5" y2="58.4" stroke="#222" stroke-width="0.9" />
<text x="631.5" y="61.8" font-family="'Liberation Serif', serif" font-size="10.3" font-weight="normal" text-anchor="start" fill="#111" >p-p65</text>
<line x1="613.5" y1="84.9" x2="629.5" y2="84.9" stroke="#222" stroke-width="0.9" />
<text x="631.5" y="88.3" font-family="'Liberation Serif', serif" font-size="10.3" font-weight="normal" text-anchor="start" fill="#111" >GAPDH</text>
<rect x="517" y="22.9" width="95.2" height="15.4" fill="#d0cbd7"/>
<rect x="517.6" y="23.5" width="8.5" height="14.2" fill="#e2dfe6" filter="url(#bl1)"/>
<rect x="517" y="44.8" width="96" height="16.8" fill="#d0cbd7"/>
<rect x="517.6" y="45.4" width="8.5" height="15.6" fill="#e2dfe6" filter="url(#bl1)"/>
<rect x="516.7" y="70.3" width="96.3" height="20.5" fill="#d0cbd7"/>
<rect x="517.3" y="70.9" width="8.5" height="19.3" fill="#e2dfe6" filter="url(#bl1)"/>
<ellipse cx="521.7" cy="30.2" rx="4.0" ry="3.4" fill="#e83a5c" filter="url(#bl1)"/>
<ellipse cx="521" cy="48.8" rx="3.2" ry="1.3" fill="#a84a70" filter="url(#bl1)"/>
<rect x="517.5" y="59.4" width="7.5" height="2.4" fill="#111" filter="url(#bl1)"/>
<ellipse cx="519.9" cy="76.6" rx="2.6" ry="2.5" fill="#4a7ee0" filter="url(#bl1)"/>
<path d="M531.5,32.2 Q538.25,31.3 545,31.8" stroke="#0a0a0a" stroke-width="3.4" stroke-linecap="round" fill="none" opacity="1.0" filter="url(#bl2)"/>
<path d="M552.5,32 Q559,30.7 565.5,30.8" stroke="#0a0a0a" stroke-width="3.4" stroke-linecap="round" fill="none" opacity="1.0" filter="url(#bl2)"/>
<path d="M573,31.4 Q579.5,30.4 586,30.8" stroke="#0a0a0a" stroke-width="3.4" stroke-linecap="round" fill="none" opacity="1.0" filter="url(#bl2)"/>
<path d="M594,31.2 Q600.65,30.1 607.3,30.4" stroke="#0a0a0a" stroke-width="3.4" stroke-linecap="round" fill="none" opacity="1.0" filter="url(#bl2)"/>
<rect x="530" y="49.9" width="16" height="2.2" rx="1" fill="#b0abb6" filter="url(#bl2)"/>
<rect x="530" y="53.6" width="16" height="1.2" fill="#c0bbc6" filter="url(#bl2)"/>
<rect x="551.6" y="54" width="15.8" height="8" fill="#262229" filter="url(#bl2)"/>
<rect x="552.6" y="55.4" width="13.8" height="0.9" fill="#6a6470" filter="url(#bl2)"/>
<rect x="552.6" y="58.6" width="13.8" height="0.9" fill="#5a5460" filter="url(#bl2)"/>
<rect x="551.6" y="49.8" width="15.8" height="4.8" rx="2.4" fill="#050505" filter="url(#bl2)"/>
<rect x="573.5" y="54" width="15.8" height="8" fill="#262229" filter="url(#bl2)"/>
<rect x="574.5" y="55.4" width="13.8" height="0.9" fill="#6a6470" filter="url(#bl2)"/>
<rect x="574.5" y="58.6" width="13.8" height="0.9" fill="#5a5460" filter="url(#bl2)"/>
<rect x="573.5" y="49.8" width="15.8" height="4.8" rx="2.4" fill="#050505" filter="url(#bl2)"/>
<rect x="594.5" y="52.3" width="16" height="3" rx="1.3" fill="#4c4850" filter="url(#bl2)"/>
<rect x="594.5" y="55.3" width="16" height="5.5" fill="#9e99a4" filter="url(#bl2)"/>
<rect x="597" y="58.3" width="12" height="1.3" fill="#6a6670" filter="url(#bl2)"/>
<path d="M527,85.2 Q535,84.1 543,84.4" stroke="#0a0a0a" stroke-width="3.8" stroke-linecap="round" fill="none" opacity="1.0" filter="url(#bl2)"/>
<path d="M548.7,84 Q556.6,82.5 564.5,82.4" stroke="#0a0a0a" stroke-width="3.8" stroke-linecap="round" fill="none" opacity="1.0" filter="url(#bl2)"/>
<path d="M570.3,82.8 Q578.65,81.5 587,81.6" stroke="#0a0a0a" stroke-width="3.8" stroke-linecap="round" fill="none" opacity="1.0" filter="url(#bl2)"/>
<path d="M592.5,81.6 Q600.6,80.3 608.7,80.4" stroke="#0a0a0a" stroke-width="3.8" stroke-linecap="round" fill="none" opacity="1.0" filter="url(#bl2)"/>
<rect x="517" y="22.9" width="95.2" height="15.4" fill="none" stroke="#111" stroke-width="1.6"/>
<rect x="517" y="44.8" width="96" height="16.8" fill="none" stroke="#111" stroke-width="1.6"/>
<rect x="516.7" y="70.3" width="96.3" height="20.5" fill="none" stroke="#111" stroke-width="1.6"/>
<line x1="527.7" y1="100.9" x2="541.3" y2="100.9" stroke="#222" stroke-width="1.4" />
<line x1="550.1" y1="100.9" x2="563.8" y2="100.9" stroke="#222" stroke-width="1.4" />
<line x1="571.8" y1="100.9" x2="584.7" y2="100.9" stroke="#222" stroke-width="1.4" />
<line x1="592.7" y1="100.9" x2="606.4" y2="100.9" stroke="#222" stroke-width="1.4" />
<text transform="translate(535.8,108) rotate(-45)" font-family="'Liberation Serif', serif" font-size="9.1" font-weight="bold" text-anchor="end" fill="#111" stroke="#111" stroke-width="0.25">DMEM</text>
<text transform="translate(558.3,108) rotate(-45)" font-family="'Liberation Serif', serif" font-size="9.1" font-weight="bold" text-anchor="end" fill="#111" stroke="#111" stroke-width="0.25">DMEM</text>
<text transform="translate(580.6,110.6) rotate(-45)" font-family="'Liberation Serif', serif" font-size="9.1" font-weight="bold" text-anchor="end" fill="#111" stroke="#111" stroke-width="0.25">CP</text>
<text transform="translate(605.8,110.6) rotate(-45)" font-family="'Liberation Serif', serif" font-size="9.1" font-weight="bold" text-anchor="end" fill="#111" stroke="#111" stroke-width="0.25">pep3R-1</text>
<line x1="552.6" y1="148.2" x2="611" y2="148.2" stroke="#222" stroke-width="1.4" />
<text x="583.4" y="161.8" font-family="'Liberation Serif', serif" font-size="9.4" font-weight="bold" text-anchor="middle" fill="#111" stroke="#111" stroke-width="0.25">LPS</text>
<line x1="322.5" y1="11" x2="322.5" y2="94.4" stroke="#6a6a6a" stroke-width="1.3" />
<line x1="320.3" y1="94.4" x2="322.5" y2="94.4" stroke="#6a6a6a" stroke-width="1" />
<text x="319.9" y="96.56" font-family="'Liberation Serif', serif" font-size="6" font-weight="bold" text-anchor="end" fill="#151515" stroke="#151515" stroke-width="0.25">0</text>
<line x1="320.3" y1="77.82" x2="322.5" y2="77.82" stroke="#6a6a6a" stroke-width="1" />
<text x="319.9" y="79.98" font-family="'Liberation Serif', serif" font-size="6" font-weight="bold" text-anchor="end" fill="#151515" stroke="#151515" stroke-width="0.25">2</text>
<line x1="320.3" y1="61.24" x2="322.5" y2="61.24" stroke="#6a6a6a" stroke-width="1" />
<text x="319.9" y="63.4" font-family="'Liberation Serif', serif" font-size="6" font-weight="bold" text-anchor="end" fill="#151515" stroke="#151515" stroke-width="0.25">4</text>
<line x1="320.3" y1="44.66" x2="322.5" y2="44.66" stroke="#6a6a6a" stroke-width="1" />
<text x="319.9" y="46.82" font-family="'Liberation Serif', serif" font-size="6" font-weight="bold" text-anchor="end" fill="#151515" stroke="#151515" stroke-width="0.25">6</text>
<line x1="320.3" y1="28.08" x2="322.5" y2="28.08" stroke="#6a6a6a" stroke-width="1" />
<text x="319.9" y="30.24" font-family="'Liberation Serif', serif" font-size="6" font-weight="bold" text-anchor="end" fill="#151515" stroke="#151515" stroke-width="0.25">8</text>
<line x1="320.3" y1="11.5" x2="322.5" y2="11.5" stroke="#6a6a6a" stroke-width="1" />
<text x="319.9" y="13.66" font-family="'Liberation Serif', serif" font-size="6" font-weight="bold" text-anchor="end" fill="#151515" stroke="#151515" stroke-width="0.25">10</text>
<path d="M327.95,94.4 V84.6 H343.05 V94.4" fill="none" stroke="#2a2aff" stroke-width="1.2"/>
<path d="M352.95,94.4 V29.3 H368.05 V94.4" fill="none" stroke="#ff2a2a" stroke-width="1.2"/>
<path d="M377.95,94.4 V56.7 H393.05 V94.4" fill="none" stroke="#44dd44" stroke-width="1.2"/>
<path d="M402.95,94.4 V84.6 H418.05 V94.4" fill="none" stroke="#c040ff" stroke-width="1.2"/>
<path d="M427.95,94.4 V71.3 H443.05 V94.4" fill="none" stroke="#f59a4a" stroke-width="1.2"/>
<line x1="335.5" y1="80.4" x2="335.5" y2="87.4" stroke="#2a2aff" stroke-width="1.1" />
<line x1="331.35" y1="80.4" x2="339.65" y2="80.4" stroke="#2a2aff" stroke-width="1.1" />
<line x1="331.35" y1="87.4" x2="339.65" y2="87.4" stroke="#2a2aff" stroke-width="1.1" />
<circle cx="328.5" cy="86.1" r="1.5" fill="#0a0a0a"/>
<circle cx="335.6" cy="79.9" r="1.5" fill="#0a0a0a"/>
<circle cx="335.6" cy="85.5" r="1.5" fill="#0a0a0a"/>
<circle cx="342.4" cy="85.2" r="1.5" fill="#0a0a0a"/>
<line x1="360.5" y1="22.3" x2="360.5" y2="36" stroke="#ff2a2a" stroke-width="1.1" />
<line x1="356.35" y1="22.3" x2="364.65" y2="22.3" stroke="#ff2a2a" stroke-width="1.1" />
<line x1="356.35" y1="36" x2="364.65" y2="36" stroke="#ff2a2a" stroke-width="1.1" />
<circle cx="360.5" cy="20.2" r="1.5" fill="#0a0a0a"/>
<circle cx="360.5" cy="27.2" r="1.5" fill="#0a0a0a"/>
<circle cx="353.8" cy="35.7" r="1.5" fill="#0a0a0a"/>
<circle cx="367.3" cy="33.4" r="1.5" fill="#0a0a0a"/>
<line x1="385.5" y1="51.8" x2="385.5" y2="60.5" stroke="#44dd44" stroke-width="1.1" />
<line x1="381.35" y1="51.8" x2="389.65" y2="51.8" stroke="#44dd44" stroke-width="1.1" />
<line x1="381.35" y1="60.5" x2="389.65" y2="60.5" stroke="#44dd44" stroke-width="1.1" />
<circle cx="378.8" cy="54.2" r="1.5" fill="#0a0a0a"/>
<circle cx="385.5" cy="53.3" r="1.5" fill="#0a0a0a"/>
<circle cx="392.1" cy="54.2" r="1.5" fill="#0a0a0a"/>
<circle cx="385.5" cy="63.3" r="1.5" fill="#0a0a0a"/>
<line x1="410.5" y1="82.7" x2="410.5" y2="86.1" stroke="#c040ff" stroke-width="1.1" />
<line x1="406.35" y1="82.7" x2="414.65" y2="82.7" stroke="#c040ff" stroke-width="1.1" />
<line x1="406.35" y1="86.1" x2="414.65" y2="86.1" stroke="#c040ff" stroke-width="1.1" />
<circle cx="403.5" cy="85.5" r="1.5" fill="#0a0a0a"/>
<circle cx="408.6" cy="82.7" r="1.5" fill="#0a0a0a"/>
<circle cx="413" cy="85.2" r="1.5" fill="#0a0a0a"/>
<circle cx="417.4" cy="83.3" r="1.5" fill="#0a0a0a"/>
<line x1="435.5" y1="68.5" x2="435.5" y2="73.2" stroke="#f59a4a" stroke-width="1.1" />
<line x1="431.35" y1="68.5" x2="439.65" y2="68.5" stroke="#f59a4a" stroke-width="1.1" />
<line x1="431.35" y1="73.2" x2="439.65" y2="73.2" stroke="#f59a4a" stroke-width="1.1" />
<circle cx="428.7" cy="72.8" r="1.5" fill="#0a0a0a"/>
<circle cx="435.8" cy="69.4" r="1.5" fill="#0a0a0a"/>
<circle cx="442.4" cy="67.9" r="1.5" fill="#0a0a0a"/>
<circle cx="442.4" cy="71.3" r="1.5" fill="#0a0a0a"/>
<line x1="322" y1="94.4" x2="448" y2="94.4" stroke="#222" stroke-width="1.1" />
<line x1="335.5" y1="94.4" x2="335.5" y2="97" stroke="#333" stroke-width="0.9" />
<line x1="360.5" y1="94.4" x2="360.5" y2="97" stroke="#333" stroke-width="0.9" />
<line x1="385.5" y1="94.4" x2="385.5" y2="97" stroke="#333" stroke-width="0.9" />
<line x1="410.5" y1="94.4" x2="410.5" y2="97" stroke="#333" stroke-width="0.9" />
<line x1="435.5" y1="94.4" x2="435.5" y2="97" stroke="#333" stroke-width="0.9" />
<text x="409.8" y="74.83" font-family="'Liberation Sans', sans-serif" font-size="7.5" font-weight="normal" text-anchor="middle" fill="#111" stroke="#111" stroke-width="0.2">***</text>
<text x="435.8" y="54.92" font-family="'Liberation Sans', sans-serif" font-size="7.5" font-weight="normal" text-anchor="middle" fill="#111" stroke="#111" stroke-width="0.2">**</text>
<text transform="translate(0,-98.1) scale(1,1.1)" font-family="'Liberation Serif', serif" font-size="7.3" font-weight="bold" text-anchor="middle" fill="#111" stroke="#111" stroke-width="0.22"></text>
<text transform="translate(296,49.3) rotate(-90)" font-family="'Liberation Serif', serif" font-size="8.3" font-weight="bold" text-anchor="middle" fill="#111" stroke="#111" stroke-width="0.2">NF-&#954;B&#160; luciferase fold</text>
<text transform="translate(337.1,103.3) rotate(-45)" font-family="'Liberation Serif', serif" font-size="6.4" font-weight="bold" text-anchor="end" fill="#111" stroke="#111" stroke-width="0.22">DMEM</text>
<text transform="translate(362.1,103.3) rotate(-45)" font-family="'Liberation Serif', serif" font-size="6.4" font-weight="bold" text-anchor="end" fill="#111" stroke="#111" stroke-width="0.22">DMEM</text>
<text transform="translate(387.1,103.3) rotate(-45)" font-family="'Liberation Serif', serif" font-size="6.4" font-weight="bold" text-anchor="end" fill="#111" stroke="#111" stroke-width="0.22"><tspan font-style="italic">CP</tspan></text>
<text transform="translate(412.1,103.3) rotate(-45)" font-family="'Liberation Serif', serif" font-size="6.4" font-weight="bold" text-anchor="end" fill="#111" stroke="#111" stroke-width="0.22">SR4</text>
<text transform="translate(437.1,103.3) rotate(-45)" font-family="'Liberation Serif', serif" font-size="6.4" font-weight="bold" text-anchor="end" fill="#111" stroke="#111" stroke-width="0.22">Pep3R-1</text>
<line x1="346.7" y1="130.1" x2="444.8" y2="130.1" stroke="#222" stroke-width="1.4" />
<text transform="translate(395.8,144.83) scale(1,1.08)" font-family="'Liberation Serif', serif" font-size="8.2" font-weight="bold" text-anchor="middle" fill="#111" stroke="#111" stroke-width="0.22">LPS</text>
<line x1="79.2" y1="197.2" x2="79.2" y2="276.5" stroke="#6a6a6a" stroke-width="1.3" />
<line x1="77" y1="276.5" x2="79.2" y2="276.5" stroke="#6a6a6a" stroke-width="1" />
<text x="76.6" y="278.73" font-family="'Liberation Sans', sans-serif" font-size="6.2" font-weight="bold" text-anchor="end" fill="#151515" stroke="#151515" stroke-width="0.25">0</text>
<line x1="77" y1="260.74" x2="79.2" y2="260.74" stroke="#6a6a6a" stroke-width="1" />
<text x="76.6" y="262.97" font-family="'Liberation Sans', sans-serif" font-size="6.2" font-weight="bold" text-anchor="end" fill="#151515" stroke="#151515" stroke-width="0.25">10</text>
<line x1="77" y1="244.98" x2="79.2" y2="244.98" stroke="#6a6a6a" stroke-width="1" />
<text x="76.6" y="247.21" font-family="'Liberation Sans', sans-serif" font-size="6.2" font-weight="bold" text-anchor="end" fill="#151515" stroke="#151515" stroke-width="0.25">20</text>
<line x1="77" y1="229.22" x2="79.2" y2="229.22" stroke="#6a6a6a" stroke-width="1" />
<text x="76.6" y="231.45" font-family="'Liberation Sans', sans-serif" font-size="6.2" font-weight="bold" text-anchor="end" fill="#151515" stroke="#151515" stroke-width="0.25">30</text>
<line x1="77" y1="213.46" x2="79.2" y2="213.46" stroke="#6a6a6a" stroke-width="1" />
<text x="76.6" y="215.69" font-family="'Liberation Sans', sans-serif" font-size="6.2" font-weight="bold" text-anchor="end" fill="#151515" stroke="#151515" stroke-width="0.25">40</text>
<line x1="77" y1="197.7" x2="79.2" y2="197.7" stroke="#6a6a6a" stroke-width="1" />
<text x="76.6" y="199.93" font-family="'Liberation Sans', sans-serif" font-size="6.2" font-weight="bold" text-anchor="end" fill="#151515" stroke="#151515" stroke-width="0.25">50</text>
<path d="M85,276.5 V274.3 H99.2 V276.5" fill="none" stroke="#2a2aff" stroke-width="1.2"/>
<path d="M108.7,276.5 V218.2 H122.9 V276.5" fill="none" stroke="#ff2a2a" stroke-width="1.2"/>
<path d="M132.5,276.5 V226.4 H146.7 V276.5" fill="none" stroke="#44dd44" stroke-width="1.2"/>
<path d="M156.4,276.5 V274.7 H170.6 V276.5" fill="none" stroke="#c040ff" stroke-width="1.2"/>
<path d="M180.3,276.5 V275.5 H194.5 V276.5" fill="none" stroke="#f59a4a" stroke-width="1.2"/>
<circle cx="85.7" cy="275.4" r="1.5" fill="#0a0a0a"/>
<circle cx="89.9" cy="272.5" r="1.5" fill="#0a0a0a"/>
<circle cx="93.9" cy="273.9" r="1.5" fill="#0a0a0a"/>
<circle cx="98.5" cy="274.3" r="1.5" fill="#0a0a0a"/>
<line x1="115.8" y1="208.1" x2="115.8" y2="227.1" stroke="#ff2a2a" stroke-width="1.1" />
<line x1="111.89" y1="208.1" x2="119.7" y2="208.1" stroke="#ff2a2a" stroke-width="1.1" />
<line x1="111.89" y1="227.1" x2="119.7" y2="227.1" stroke="#ff2a2a" stroke-width="1.1" />
<circle cx="115.8" cy="204" r="1.5" fill="#0a0a0a"/>
<circle cx="115.8" cy="220.9" r="1.5" fill="#0a0a0a"/>
<circle cx="122.2" cy="220.2" r="1.5" fill="#0a0a0a"/>
<circle cx="115.8" cy="225.7" r="1.5" fill="#0a0a0a"/>
<line x1="139.6" y1="212.5" x2="139.6" y2="239.2" stroke="#44dd44" stroke-width="1.1" />
<line x1="135.69" y1="212.5" x2="143.5" y2="212.5" stroke="#44dd44" stroke-width="1.1" />
<line x1="135.69" y1="239.2" x2="143.5" y2="239.2" stroke="#44dd44" stroke-width="1.1" />
<circle cx="139.6" cy="207.8" r="1.5" fill="#0a0a0a"/>
<circle cx="139.6" cy="228.7" r="1.5" fill="#0a0a0a"/>
<circle cx="146.4" cy="227.4" r="1.5" fill="#0a0a0a"/>
<circle cx="139.6" cy="240.2" r="1.5" fill="#0a0a0a"/>
<circle cx="157" cy="276.5" r="1.5" fill="#0a0a0a"/>
<circle cx="161.5" cy="274.7" r="1.5" fill="#0a0a0a"/>
<circle cx="165.7" cy="276.3" r="1.5" fill="#0a0a0a"/>
<circle cx="170.1" cy="275.2" r="1.5" fill="#0a0a0a"/>
<circle cx="181.1" cy="276.5" r="1.5" fill="#0a0a0a"/>
<circle cx="185.4" cy="275.5" r="1.5" fill="#0a0a0a"/>
<circle cx="189.6" cy="276.3" r="1.5" fill="#0a0a0a"/>
<circle cx="193.8" cy="276.5" r="1.5" fill="#0a0a0a"/>
<line x1="78.7" y1="276.5" x2="199" y2="276.5" stroke="#222" stroke-width="1.1" />
<line x1="92.1" y1="276.5" x2="92.1" y2="279.1" stroke="#333" stroke-width="0.9" />
<line x1="115.8" y1="276.5" x2="115.8" y2="279.1" stroke="#333" stroke-width="0.9" />
<line x1="139.6" y1="276.5" x2="139.6" y2="279.1" stroke="#333" stroke-width="0.9" />
<line x1="163.5" y1="276.5" x2="163.5" y2="279.1" stroke="#333" stroke-width="0.9" />
<line x1="187.4" y1="276.5" x2="187.4" y2="279.1" stroke="#333" stroke-width="0.9" />
<text x="163.5" y="270.12" font-family="'Liberation Sans', sans-serif" font-size="7.5" font-weight="normal" text-anchor="middle" fill="#111" stroke="#111" stroke-width="0.2">***</text>
<text x="187.6" y="270.12" font-family="'Liberation Sans', sans-serif" font-size="7.5" font-weight="normal" text-anchor="middle" fill="#111" stroke="#111" stroke-width="0.2">***</text>
<text transform="translate(127.2,184.5) scale(1,1.1)" font-family="'Liberation Serif', serif" font-size="7.3" font-weight="bold" text-anchor="middle" fill="#111" stroke="#111" stroke-width="0.22">IFN-&#947;</text>
<text transform="translate(60.06,237.3) rotate(-90)" font-family="'Liberation Serif', serif" font-size="7.6" font-weight="bold" text-anchor="middle" fill="#111" stroke="#111" stroke-width="0.2">Relative mRNA expression</text>
<text transform="translate(93.7,285.7) rotate(-45)" font-family="'Liberation Serif', serif" font-size="6" font-weight="bold" text-anchor="end" fill="#111" stroke="#111" stroke-width="0.22">DMEM</text>
<text transform="translate(117.4,285.7) rotate(-45)" font-family="'Liberation Serif', serif" font-size="6" font-weight="bold" text-anchor="end" fill="#111" stroke="#111" stroke-width="0.22">DMEM</text>
<text transform="translate(141.2,285.7) rotate(-45)" font-family="'Liberation Serif', serif" font-size="6" font-weight="bold" text-anchor="end" fill="#111" stroke="#111" stroke-width="0.22">CP1</text>
<text transform="translate(165.1,285.7) rotate(-45)" font-family="'Liberation Serif', serif" font-size="6" font-weight="bold" text-anchor="end" fill="#111" stroke="#111" stroke-width="0.22">SR4</text>
<text transform="translate(189,285.7) rotate(-45)" font-family="'Liberation Serif', serif" font-size="6" font-weight="bold" text-anchor="end" fill="#111" stroke="#111" stroke-width="0.22">pep3R-1</text>
<line x1="109.6" y1="309" x2="189.6" y2="309" stroke="#222" stroke-width="1.4" />
<text transform="translate(155.5,320.69) scale(1,1.08)" font-family="'Liberation Serif', serif" font-size="7.8" font-weight="bold" text-anchor="middle" fill="#111" stroke="#111" stroke-width="0.22">LPS</text>
<line x1="239" y1="196.8" x2="239" y2="275.5" stroke="#6a6a6a" stroke-width="1.3" />
<line x1="236.8" y1="275.5" x2="239" y2="275.5" stroke="#6a6a6a" stroke-width="1" />
<text x="236.4" y="277.73" font-family="'Liberation Sans', sans-serif" font-size="6.2" font-weight="bold" text-anchor="end" fill="#151515" stroke="#151515" stroke-width="0.25">0</text>
<line x1="236.8" y1="255.95" x2="239" y2="255.95" stroke="#6a6a6a" stroke-width="1" />
<text x="236.4" y="258.18" font-family="'Liberation Sans', sans-serif" font-size="6.2" font-weight="bold" text-anchor="end" fill="#151515" stroke="#151515" stroke-width="0.25">20</text>
<line x1="236.8" y1="236.4" x2="239" y2="236.4" stroke="#6a6a6a" stroke-width="1" />
<text x="236.4" y="238.63" font-family="'Liberation Sans', sans-serif" font-size="6.2" font-weight="bold" text-anchor="end" fill="#151515" stroke="#151515" stroke-width="0.25">40</text>
<line x1="236.8" y1="216.85" x2="239" y2="216.85" stroke="#6a6a6a" stroke-width="1" />
<text x="236.4" y="219.08" font-family="'Liberation Sans', sans-serif" font-size="6.2" font-weight="bold" text-anchor="end" fill="#151515" stroke="#151515" stroke-width="0.25">60</text>
<line x1="236.8" y1="197.3" x2="239" y2="197.3" stroke="#6a6a6a" stroke-width="1" />
<text x="236.4" y="199.53" font-family="'Liberation Sans', sans-serif" font-size="6.2" font-weight="bold" text-anchor="end" fill="#151515" stroke="#151515" stroke-width="0.25">80</text>
<path d="M243.6,275.5 V273.3 H258 V275.5" fill="none" stroke="#2a2aff" stroke-width="1.2"/>
<path d="M267.3,275.5 V218.1 H281.7 V275.5" fill="none" stroke="#ff2a2a" stroke-width="1.2"/>
<path d="M291.4,275.5 V226.2 H305.8 V275.5" fill="none" stroke="#44dd44" stroke-width="1.2"/>
<path d="M314.9,275.5 V272.5 H329.3 V275.5" fill="none" stroke="#c040ff" stroke-width="1.2"/>
<path d="M338.5,275.5 V269.3 H352.9 V275.5" fill="none" stroke="#f59a4a" stroke-width="1.2"/>
<circle cx="244.8" cy="275.1" r="1.5" fill="#0a0a0a"/>
<circle cx="249" cy="272.8" r="1.5" fill="#0a0a0a"/>
<circle cx="253.1" cy="274.6" r="1.5" fill="#0a0a0a"/>
<circle cx="257.2" cy="274.2" r="1.5" fill="#0a0a0a"/>
<line x1="274.5" y1="208.7" x2="274.5" y2="227.4" stroke="#ff2a2a" stroke-width="1.1" />
<line x1="270.54" y1="208.7" x2="278.46" y2="208.7" stroke="#ff2a2a" stroke-width="1.1" />
<line x1="270.54" y1="227.4" x2="278.46" y2="227.4" stroke="#ff2a2a" stroke-width="1.1" />
<circle cx="274.5" cy="206.4" r="1.5" fill="#0a0a0a"/>
<circle cx="274.5" cy="215.8" r="1.5" fill="#0a0a0a"/>
<circle cx="274.5" cy="223.5" r="1.5" fill="#0a0a0a"/>
<circle cx="274.5" cy="227" r="1.5" fill="#0a0a0a"/>
<line x1="298.6" y1="213.5" x2="298.6" y2="237.7" stroke="#44dd44" stroke-width="1.1" />
<line x1="294.64" y1="213.5" x2="302.56" y2="213.5" stroke="#44dd44" stroke-width="1.1" />
<line x1="294.64" y1="237.7" x2="302.56" y2="237.7" stroke="#44dd44" stroke-width="1.1" />
<circle cx="292.3" cy="214.4" r="1.5" fill="#0a0a0a"/>
<circle cx="298.6" cy="217.1" r="1.5" fill="#0a0a0a"/>
<circle cx="298.6" cy="232.2" r="1.5" fill="#0a0a0a"/>
<circle cx="298.6" cy="239.5" r="1.5" fill="#0a0a0a"/>
<line x1="322.1" y1="268.4" x2="322.1" y2="275.5" stroke="#c040ff" stroke-width="1.1" />
<line x1="318.14" y1="268.4" x2="326.06" y2="268.4" stroke="#c040ff" stroke-width="1.1" />
<line x1="318.14" y1="275.5" x2="326.06" y2="275.5" stroke="#c040ff" stroke-width="1.1" />
<circle cx="316" cy="275.1" r="1.5" fill="#0a0a0a"/>
<circle cx="322.1" cy="267.5" r="1.5" fill="#0a0a0a"/>
<circle cx="322.1" cy="272.3" r="1.5" fill="#0a0a0a"/>
<circle cx="328.8" cy="273.3" r="1.5" fill="#0a0a0a"/>
<line x1="345.7" y1="262.5" x2="345.7" y2="275.5" stroke="#f59a4a" stroke-width="1.1" />
<line x1="341.74" y1="262.5" x2="349.66" y2="262.5" stroke="#f59a4a" stroke-width="1.1" />
<line x1="341.74" y1="275.5" x2="349.66" y2="275.5" stroke="#f59a4a" stroke-width="1.1" />
<circle cx="339.5" cy="274.6" r="1.5" fill="#0a0a0a"/>
<circle cx="345.7" cy="261.6" r="1.5" fill="#0a0a0a"/>
<circle cx="345.7" cy="266.2" r="1.5" fill="#0a0a0a"/>
<circle cx="352.5" cy="274.1" r="1.5" fill="#0a0a0a"/>
<line x1="238.5" y1="275.5" x2="358.8" y2="275.5" stroke="#222" stroke-width="1.1" />
<line x1="250.8" y1="275.5" x2="250.8" y2="278.1" stroke="#333" stroke-width="0.9" />
<line x1="274.5" y1="275.5" x2="274.5" y2="278.1" stroke="#333" stroke-width="0.9" />
<line x1="298.6" y1="275.5" x2="298.6" y2="278.1" stroke="#333" stroke-width="0.9" />
<line x1="322.1" y1="275.5" x2="322.1" y2="278.1" stroke="#333" stroke-width="0.9" />
<line x1="345.7" y1="275.5" x2="345.7" y2="278.1" stroke="#333" stroke-width="0.9" />
<text x="321.7" y="257.62" font-family="'Liberation Sans', sans-serif" font-size="7.5" font-weight="normal" text-anchor="middle" fill="#111" stroke="#111" stroke-width="0.2">***</text>
<text x="345.7" y="251.93" font-family="'Liberation Sans', sans-serif" font-size="7.5" font-weight="normal" text-anchor="middle" fill="#111" stroke="#111" stroke-width="0.2">**</text>
<text transform="translate(296.7,181.3) scale(1,1.1)" font-family="'Liberation Serif', serif" font-size="7.3" font-weight="bold" text-anchor="middle" fill="#111" stroke="#111" stroke-width="0.22">IL-1&#946;</text>
<text transform="translate(217.46,232.7) rotate(-90)" font-family="'Liberation Serif', serif" font-size="7.6" font-weight="bold" text-anchor="middle" fill="#111" stroke="#111" stroke-width="0.2">Relative mRNA expression</text>
<text transform="translate(252.4,284.7) rotate(-45)" font-family="'Liberation Serif', serif" font-size="6" font-weight="bold" text-anchor="end" fill="#111" stroke="#111" stroke-width="0.22">DMEM</text>
<text transform="translate(276.1,284.7) rotate(-45)" font-family="'Liberation Serif', serif" font-size="6" font-weight="bold" text-anchor="end" fill="#111" stroke="#111" stroke-width="0.22">DMEM</text>
<text transform="translate(300.2,284.7) rotate(-45)" font-family="'Liberation Serif', serif" font-size="6" font-weight="bold" text-anchor="end" fill="#111" stroke="#111" stroke-width="0.22">CP1</text>
<text transform="translate(323.7,284.7) rotate(-45)" font-family="'Liberation Serif', serif" font-size="6" font-weight="bold" text-anchor="end" fill="#111" stroke="#111" stroke-width="0.22">SR4</text>
<text transform="translate(347.3,284.7) rotate(-45)" font-family="'Liberation Serif', serif" font-size="6" font-weight="bold" text-anchor="end" fill="#111" stroke="#111" stroke-width="0.22">pep3R-1</text>
<line x1="269.2" y1="309.3" x2="347.5" y2="309.3" stroke="#222" stroke-width="1.4" />
<text transform="translate(308.2,322.99) scale(1,1.08)" font-family="'Liberation Serif', serif" font-size="7.8" font-weight="bold" text-anchor="middle" fill="#111" stroke="#111" stroke-width="0.22">LPS</text>
<line x1="404.1" y1="197.5" x2="404.1" y2="276.4" stroke="#6a6a6a" stroke-width="1.3" />
<line x1="401.9" y1="276.4" x2="404.1" y2="276.4" stroke="#6a6a6a" stroke-width="1" />
<text x="401.5" y="278.63" font-family="'Liberation Sans', sans-serif" font-size="6.2" font-weight="bold" text-anchor="end" fill="#151515" stroke="#151515" stroke-width="0.25">0</text>
<line x1="401.9" y1="256.8" x2="404.1" y2="256.8" stroke="#6a6a6a" stroke-width="1" />
<text x="401.5" y="259.03" font-family="'Liberation Sans', sans-serif" font-size="6.2" font-weight="bold" text-anchor="end" fill="#151515" stroke="#151515" stroke-width="0.25">50</text>
<line x1="401.9" y1="237.2" x2="404.1" y2="237.2" stroke="#6a6a6a" stroke-width="1" />
<text x="401.5" y="239.43" font-family="'Liberation Sans', sans-serif" font-size="6.2" font-weight="bold" text-anchor="end" fill="#151515" stroke="#151515" stroke-width="0.25">100</text>
<line x1="401.9" y1="217.6" x2="404.1" y2="217.6" stroke="#6a6a6a" stroke-width="1" />
<text x="401.5" y="219.83" font-family="'Liberation Sans', sans-serif" font-size="6.2" font-weight="bold" text-anchor="end" fill="#151515" stroke="#151515" stroke-width="0.25">150</text>
<line x1="401.9" y1="198" x2="404.1" y2="198" stroke="#6a6a6a" stroke-width="1" />
<text x="401.5" y="200.23" font-family="'Liberation Sans', sans-serif" font-size="6.2" font-weight="bold" text-anchor="end" fill="#151515" stroke="#151515" stroke-width="0.25">200</text>
<path d="M408.85,276.4 V274.6 H422.95 V276.4" fill="none" stroke="#2a2aff" stroke-width="1.2"/>
<path d="M432.35,276.4 V230.6 H446.45 V276.4" fill="none" stroke="#ff2a2a" stroke-width="1.2"/>
<path d="M456.05,276.4 V224.7 H470.15 V276.4" fill="none" stroke="#44dd44" stroke-width="1.2"/>
<path d="M479.55,276.4 V265.3 H493.65 V276.4" fill="none" stroke="#c040ff" stroke-width="1.2"/>
<path d="M503.25,276.4 V266.6 H517.35 V276.4" fill="none" stroke="#f59a4a" stroke-width="1.2"/>
<circle cx="410" cy="276" r="1.5" fill="#0a0a0a"/>
<circle cx="414.1" cy="275.1" r="1.5" fill="#0a0a0a"/>
<circle cx="418.4" cy="275.8" r="1.5" fill="#0a0a0a"/>
<circle cx="422.5" cy="275.1" r="1.5" fill="#0a0a0a"/>
<line x1="439.4" y1="215.3" x2="439.4" y2="244.7" stroke="#ff8080" stroke-width="1.1" />
<line x1="435.52" y1="215.3" x2="443.28" y2="215.3" stroke="#ff8080" stroke-width="1.1" />
<line x1="435.52" y1="244.7" x2="443.28" y2="244.7" stroke="#ff8080" stroke-width="1.1" />
<circle cx="439.4" cy="215.3" r="1.5" fill="#0a0a0a"/>
<circle cx="439.4" cy="223.3" r="1.5" fill="#0a0a0a"/>
<circle cx="439.4" cy="233.3" r="1.5" fill="#0a0a0a"/>
<circle cx="439.4" cy="249.1" r="1.5" fill="#0a0a0a"/>
<line x1="463.1" y1="216.7" x2="463.1" y2="231.9" stroke="#99ee99" stroke-width="1.1" />
<line x1="459.22" y1="216.7" x2="466.98" y2="216.7" stroke="#99ee99" stroke-width="1.1" />
<line x1="459.22" y1="231.9" x2="466.98" y2="231.9" stroke="#99ee99" stroke-width="1.1" />
<circle cx="463.1" cy="213.5" r="1.5" fill="#0a0a0a"/>
<circle cx="463.1" cy="225.1" r="1.5" fill="#0a0a0a"/>
<circle cx="456.9" cy="230.6" r="1.5" fill="#0a0a0a"/>
<circle cx="469.3" cy="228.3" r="1.5" fill="#0a0a0a"/>
<line x1="486.6" y1="260.3" x2="486.6" y2="269.6" stroke="#c040ff" stroke-width="1.1" />
<line x1="482.72" y1="260.3" x2="490.48" y2="260.3" stroke="#c040ff" stroke-width="1.1" />
<line x1="482.72" y1="269.6" x2="490.48" y2="269.6" stroke="#c040ff" stroke-width="1.1" />
<circle cx="486.6" cy="262.1" r="1.5" fill="#0a0a0a"/>
<circle cx="486.6" cy="266.6" r="1.5" fill="#0a0a0a"/>
<circle cx="486.6" cy="270.5" r="1.5" fill="#0a0a0a"/>
<circle cx="493.2" cy="260.9" r="1.5" fill="#0a0a0a"/>
<line x1="510.3" y1="263.4" x2="510.3" y2="268.4" stroke="#f59a4a" stroke-width="1.1" />
<line x1="506.42" y1="263.4" x2="514.18" y2="263.4" stroke="#f59a4a" stroke-width="1.1" />
<line x1="506.42" y1="268.4" x2="514.18" y2="268.4" stroke="#f59a4a" stroke-width="1.1" />
<circle cx="503.9" cy="263.4" r="1.5" fill="#0a0a0a"/>
<circle cx="503.9" cy="268.7" r="1.5" fill="#0a0a0a"/>
<circle cx="510.6" cy="265.7" r="1.5" fill="#0a0a0a"/>
<circle cx="516.9" cy="266.2" r="1.5" fill="#0a0a0a"/>
<line x1="403.6" y1="276.4" x2="522.5" y2="276.4" stroke="#222" stroke-width="1.1" />
<line x1="415.9" y1="276.4" x2="415.9" y2="279" stroke="#333" stroke-width="0.9" />
<line x1="439.4" y1="276.4" x2="439.4" y2="279" stroke="#333" stroke-width="0.9" />
<line x1="463.1" y1="276.4" x2="463.1" y2="279" stroke="#333" stroke-width="0.9" />
<line x1="486.6" y1="276.4" x2="486.6" y2="279" stroke="#333" stroke-width="0.9" />
<line x1="510.3" y1="276.4" x2="510.3" y2="279" stroke="#333" stroke-width="0.9" />
<text x="486.9" y="253.72" font-family="'Liberation Sans', sans-serif" font-size="7.5" font-weight="normal" text-anchor="middle" fill="#111" stroke="#111" stroke-width="0.2">***</text>
<text x="510.3" y="258.52" font-family="'Liberation Sans', sans-serif" font-size="7.5" font-weight="normal" text-anchor="middle" fill="#111" stroke="#111" stroke-width="0.2">***</text>
<text transform="translate(463,183.1) scale(1,1.1)" font-family="'Liberation Serif', serif" font-size="7.3" font-weight="bold" text-anchor="middle" fill="#111" stroke="#111" stroke-width="0.22">TNF-&#945;</text>
<text transform="translate(382.46,234.3) rotate(-90)" font-family="'Liberation Serif', serif" font-size="7.6" font-weight="bold" text-anchor="middle" fill="#111" stroke="#111" stroke-width="0.2">Relative mRNA expression</text>
<text transform="translate(417.5,285.6) rotate(-45)" font-family="'Liberation Serif', serif" font-size="6" font-weight="bold" text-anchor="end" fill="#111" stroke="#111" stroke-width="0.22">DMEM</text>
<text transform="translate(441,285.6) rotate(-45)" font-family="'Liberation Serif', serif" font-size="6" font-weight="bold" text-anchor="end" fill="#111" stroke="#111" stroke-width="0.22">DMEM</text>
<text transform="translate(464.7,285.6) rotate(-45)" font-family="'Liberation Serif', serif" font-size="6" font-weight="bold" text-anchor="end" fill="#111" stroke="#111" stroke-width="0.22">CP1</text>
<text transform="translate(488.2,285.6) rotate(-45)" font-family="'Liberation Serif', serif" font-size="6" font-weight="bold" text-anchor="end" fill="#111" stroke="#111" stroke-width="0.22">SR4</text>
<text transform="translate(511.9,285.6) rotate(-45)" font-family="'Liberation Serif', serif" font-size="6" font-weight="bold" text-anchor="end" fill="#111" stroke="#111" stroke-width="0.22">pep3R-1</text>
<line x1="427" y1="314.3" x2="523.4" y2="314.3" stroke="#222" stroke-width="1.4" />
<text transform="translate(472.2,326.09) scale(1,1.08)" font-family="'Liberation Serif', serif" font-size="7.8" font-weight="bold" text-anchor="middle" fill="#111" stroke="#111" stroke-width="0.22">LPS</text>
<line x1="564.8" y1="198" x2="564.8" y2="277.3" stroke="#6a6a6a" stroke-width="1.3" />
<line x1="562.6" y1="277.3" x2="564.8" y2="277.3" stroke="#6a6a6a" stroke-width="1" />
<text x="562.2" y="279.53" font-family="'Liberation Sans', sans-serif" font-size="6.2" font-weight="bold" text-anchor="end" fill="#151515" stroke="#151515" stroke-width="0.25">0</text>
<line x1="562.6" y1="257.6" x2="564.8" y2="257.6" stroke="#6a6a6a" stroke-width="1" />
<text x="562.2" y="259.83" font-family="'Liberation Sans', sans-serif" font-size="6.2" font-weight="bold" text-anchor="end" fill="#151515" stroke="#151515" stroke-width="0.25">5</text>
<line x1="562.6" y1="237.9" x2="564.8" y2="237.9" stroke="#6a6a6a" stroke-width="1" />
<text x="562.2" y="240.13" font-family="'Liberation Sans', sans-serif" font-size="6.2" font-weight="bold" text-anchor="end" fill="#151515" stroke="#151515" stroke-width="0.25">10</text>
<line x1="562.6" y1="218.2" x2="564.8" y2="218.2" stroke="#6a6a6a" stroke-width="1" />
<text x="562.2" y="220.43" font-family="'Liberation Sans', sans-serif" font-size="6.2" font-weight="bold" text-anchor="end" fill="#151515" stroke="#151515" stroke-width="0.25">15</text>
<line x1="562.6" y1="198.5" x2="564.8" y2="198.5" stroke="#6a6a6a" stroke-width="1" />
<text x="562.2" y="200.73" font-family="'Liberation Sans', sans-serif" font-size="6.2" font-weight="bold" text-anchor="end" fill="#151515" stroke="#151515" stroke-width="0.25">20</text>
<path d="M570,277.3 V272.3 H584.4 V277.3" fill="none" stroke="#2a2aff" stroke-width="1.2"/>
<path d="M593.7,277.3 V215.3 H608.1 V277.3" fill="none" stroke="#ff2a2a" stroke-width="1.2"/>
<path d="M617.6,277.3 V219.4 H632 V277.3" fill="none" stroke="#44dd44" stroke-width="1.2"/>
<path d="M641.3,277.3 V272.8 H655.7 V277.3" fill="none" stroke="#c040ff" stroke-width="1.2"/>
<path d="M664.8,277.3 V275 H679.2 V277.3" fill="none" stroke="#f59a4a" stroke-width="1.2"/>
<line x1="577.2" y1="271" x2="577.2" y2="273.7" stroke="#2a2aff" stroke-width="1.1" />
<line x1="573.24" y1="271" x2="581.16" y2="271" stroke="#2a2aff" stroke-width="1.1" />
<line x1="573.24" y1="273.7" x2="581.16" y2="273.7" stroke="#2a2aff" stroke-width="1.1" />
<circle cx="571" cy="273.7" r="1.5" fill="#0a0a0a"/>
<circle cx="577.6" cy="270.1" r="1.5" fill="#0a0a0a"/>
<circle cx="584" cy="273.2" r="1.5" fill="#0a0a0a"/>
<line x1="600.9" y1="210.1" x2="600.9" y2="219.9" stroke="#111" stroke-width="1.1" />
<line x1="596.94" y1="210.1" x2="604.86" y2="210.1" stroke="#111" stroke-width="1.1" />
<line x1="596.94" y1="219.9" x2="604.86" y2="219.9" stroke="#111" stroke-width="1.1" />
<circle cx="594.7" cy="210.5" r="1.5" fill="#0a0a0a"/>
<circle cx="607.5" cy="209.6" r="1.5" fill="#0a0a0a"/>
<circle cx="601.3" cy="225.1" r="1.5" fill="#0a0a0a"/>
<line x1="624.8" y1="215.8" x2="624.8" y2="220.6" stroke="#44dd44" stroke-width="1.1" />
<line x1="620.84" y1="215.8" x2="628.76" y2="215.8" stroke="#44dd44" stroke-width="1.1" />
<line x1="620.84" y1="220.6" x2="628.76" y2="220.6" stroke="#44dd44" stroke-width="1.1" />
<circle cx="618.6" cy="222.1" r="1.5" fill="#0a0a0a"/>
<circle cx="624.8" cy="213.7" r="1.5" fill="#0a0a0a"/>
<circle cx="631.2" cy="219" r="1.5" fill="#0a0a0a"/>
<line x1="648.5" y1="271" x2="648.5" y2="275.1" stroke="#c040ff" stroke-width="1.1" />
<line x1="644.54" y1="271" x2="652.46" y2="271" stroke="#c040ff" stroke-width="1.1" />
<line x1="644.54" y1="275.1" x2="652.46" y2="275.1" stroke="#c040ff" stroke-width="1.1" />
<circle cx="642.3" cy="274.2" r="1.5" fill="#0a0a0a"/>
<circle cx="648.8" cy="268.9" r="1.5" fill="#0a0a0a"/>
<circle cx="655.1" cy="273.3" r="1.5" fill="#0a0a0a"/>
<circle cx="665.9" cy="275.8" r="1.5" fill="#0a0a0a"/>
<circle cx="672.5" cy="274.2" r="1.5" fill="#0a0a0a"/>
<circle cx="678.8" cy="275.1" r="1.5" fill="#0a0a0a"/>
<line x1="564.3" y1="277.3" x2="685" y2="277.3" stroke="#222" stroke-width="1.1" />
<line x1="577.2" y1="277.3" x2="577.2" y2="279.9" stroke="#333" stroke-width="0.9" />
<line x1="600.9" y1="277.3" x2="600.9" y2="279.9" stroke="#333" stroke-width="0.9" />
<line x1="624.8" y1="277.3" x2="624.8" y2="279.9" stroke="#333" stroke-width="0.9" />
<line x1="648.5" y1="277.3" x2="648.5" y2="279.9" stroke="#333" stroke-width="0.9" />
<line x1="672" y1="277.3" x2="672" y2="279.9" stroke="#333" stroke-width="0.9" />
<text x="648.8" y="256.22" font-family="'Liberation Sans', sans-serif" font-size="7.5" font-weight="normal" text-anchor="middle" fill="#111" stroke="#111" stroke-width="0.2">***</text>
<text x="672.2" y="265.62" font-family="'Liberation Sans', sans-serif" font-size="7.5" font-weight="normal" text-anchor="middle" fill="#111" stroke="#111" stroke-width="0.2">***</text>
<text transform="translate(621.2,183.1) scale(1,1.1)" font-family="'Liberation Serif', serif" font-size="7.3" font-weight="bold" text-anchor="middle" fill="#111" stroke="#111" stroke-width="0.22">IL-6</text>
<text transform="translate(544.96,234.5) rotate(-90)" font-family="'Liberation Serif', serif" font-size="7.6" font-weight="bold" text-anchor="middle" fill="#111" stroke="#111" stroke-width="0.2">Relative mRNA expression</text>
<text transform="translate(578.8,286.5) rotate(-45)" font-family="'Liberation Serif', serif" font-size="6" font-weight="bold" text-anchor="end" fill="#111" stroke="#111" stroke-width="0.22">DMEM</text>
<text transform="translate(602.5,286.5) rotate(-45)" font-family="'Liberation Serif', serif" font-size="6" font-weight="bold" text-anchor="end" fill="#111" stroke="#111" stroke-width="0.22">DMEM</text>
<text transform="translate(626.4,286.5) rotate(-45)" font-family="'Liberation Serif', serif" font-size="6" font-weight="bold" text-anchor="end" fill="#111" stroke="#111" stroke-width="0.22">CP1</text>
<text transform="translate(650.1,286.5) rotate(-45)" font-family="'Liberation Serif', serif" font-size="6" font-weight="bold" text-anchor="end" fill="#111" stroke="#111" stroke-width="0.22">SR4</text>
<text transform="translate(673.6,286.5) rotate(-45)" font-family="'Liberation Serif', serif" font-size="6" font-weight="bold" text-anchor="end" fill="#111" stroke="#111" stroke-width="0.22">pep3R-1</text>
<line x1="595.7" y1="311.3" x2="674.8" y2="311.3" stroke="#222" stroke-width="1.4" />
<text transform="translate(634.2,321.49) scale(1,1.08)" font-family="'Liberation Serif', serif" font-size="7.8" font-weight="bold" text-anchor="middle" fill="#111" stroke="#111" stroke-width="0.22">LPS</text>
<line x1="76.2" y1="363.5" x2="76.2" y2="445" stroke="#6a6a6a" stroke-width="1.3" />
<line x1="74" y1="445" x2="76.2" y2="445" stroke="#6a6a6a" stroke-width="1" />
<text x="73.6" y="447.23" font-family="'Liberation Sans', sans-serif" font-size="6.2" font-weight="bold" text-anchor="end" fill="#151515" stroke="#151515" stroke-width="0.25">0</text>
<line x1="74" y1="424.75" x2="76.2" y2="424.75" stroke="#6a6a6a" stroke-width="1" />
<text x="73.6" y="426.98" font-family="'Liberation Sans', sans-serif" font-size="6.2" font-weight="bold" text-anchor="end" fill="#151515" stroke="#151515" stroke-width="0.25">5</text>
<line x1="74" y1="404.5" x2="76.2" y2="404.5" stroke="#6a6a6a" stroke-width="1" />
<text x="73.6" y="406.73" font-family="'Liberation Sans', sans-serif" font-size="6.2" font-weight="bold" text-anchor="end" fill="#151515" stroke="#151515" stroke-width="0.25">10</text>
<line x1="74" y1="384.25" x2="76.2" y2="384.25" stroke="#6a6a6a" stroke-width="1" />
<text x="73.6" y="386.48" font-family="'Liberation Sans', sans-serif" font-size="6.2" font-weight="bold" text-anchor="end" fill="#151515" stroke="#151515" stroke-width="0.25">15</text>
<line x1="74" y1="364" x2="76.2" y2="364" stroke="#6a6a6a" stroke-width="1" />
<text x="73.6" y="366.23" font-family="'Liberation Sans', sans-serif" font-size="6.2" font-weight="bold" text-anchor="end" fill="#151515" stroke="#151515" stroke-width="0.25">20</text>
<path d="M82.25,445 V440 H96.95 V445" fill="none" stroke="#2a2aff" stroke-width="1.2"/>
<path d="M106.75,445 V399 H121.45 V445" fill="none" stroke="#ff2a2a" stroke-width="1.2"/>
<path d="M131.05,445 V395.3 H145.75 V445" fill="none" stroke="#44dd44" stroke-width="1.2"/>
<path d="M155.85,445 V434.9 H170.55 V445" fill="none" stroke="#c040ff" stroke-width="1.2"/>
<path d="M180.35,445 V432.3 H195.05 V445" fill="none" stroke="#f59a4a" stroke-width="1.2"/>
<line x1="89.6" y1="438.7" x2="89.6" y2="441.5" stroke="#2a2aff" stroke-width="1.1" />
<line x1="85.56" y1="438.7" x2="93.64" y2="438.7" stroke="#2a2aff" stroke-width="1.1" />
<line x1="85.56" y1="441.5" x2="93.64" y2="441.5" stroke="#2a2aff" stroke-width="1.1" />
<circle cx="82.8" cy="441.5" r="1.5" fill="#0a0a0a"/>
<circle cx="89.6" cy="439.5" r="1.5" fill="#0a0a0a"/>
<circle cx="96.1" cy="436.7" r="1.5" fill="#0a0a0a"/>
<circle cx="96.1" cy="440.9" r="1.5" fill="#0a0a0a"/>
<line x1="114.1" y1="393.5" x2="114.1" y2="404.1" stroke="#ff2a2a" stroke-width="1.1" />
<line x1="110.06" y1="393.5" x2="118.14" y2="393.5" stroke="#ff2a2a" stroke-width="1.1" />
<line x1="110.06" y1="404.1" x2="118.14" y2="404.1" stroke="#ff2a2a" stroke-width="1.1" />
<circle cx="114.1" cy="384.8" r="1.5" fill="#0a0a0a"/>
<circle cx="114.1" cy="395.5" r="1.5" fill="#0a0a0a"/>
<circle cx="107.7" cy="407.3" r="1.5" fill="#0a0a0a"/>
<circle cx="120.5" cy="406.3" r="1.5" fill="#0a0a0a"/>
<line x1="138.4" y1="392.7" x2="138.4" y2="397.2" stroke="#111" stroke-width="1.1" />
<line x1="134.36" y1="392.7" x2="142.44" y2="392.7" stroke="#111" stroke-width="1.1" />
<line x1="134.36" y1="397.2" x2="142.44" y2="397.2" stroke="#111" stroke-width="1.1" />
<circle cx="132.3" cy="391.3" r="1.5" fill="#0a0a0a"/>
<circle cx="138.4" cy="394.9" r="1.5" fill="#0a0a0a"/>
<circle cx="145.4" cy="392.7" r="1.5" fill="#0a0a0a"/>
<circle cx="138.4" cy="400.8" r="1.5" fill="#0a0a0a"/>
<circle cx="156.8" cy="433.9" r="1.5" fill="#0a0a0a"/>
<circle cx="163.2" cy="434.5" r="1.5" fill="#0a0a0a"/>
<circle cx="169.6" cy="436.3" r="1.5" fill="#0a0a0a"/>
<circle cx="156.8" cy="437.2" r="1.5" fill="#0a0a0a"/>
<line x1="187.7" y1="430.3" x2="187.7" y2="433.6" stroke="#f59a4a" stroke-width="1.1" />
<line x1="183.66" y1="430.3" x2="191.74" y2="430.3" stroke="#f59a4a" stroke-width="1.1" />
<line x1="183.66" y1="433.6" x2="191.74" y2="433.6" stroke="#f59a4a" stroke-width="1.1" />
<circle cx="181.2" cy="435" r="1.5" fill="#0a0a0a"/>
<circle cx="188" cy="427.7" r="1.5" fill="#0a0a0a"/>
<circle cx="188" cy="432.1" r="1.5" fill="#0a0a0a"/>
<circle cx="194.5" cy="433.6" r="1.5" fill="#0a0a0a"/>
<line x1="75.7" y1="445" x2="201.5" y2="445" stroke="#222" stroke-width="1.1" />
<line x1="89.6" y1="445" x2="89.6" y2="447.6" stroke="#333" stroke-width="0.9" />
<line x1="114.1" y1="445" x2="114.1" y2="447.6" stroke="#333" stroke-width="0.9" />
<line x1="138.4" y1="445" x2="138.4" y2="447.6" stroke="#333" stroke-width="0.9" />
<line x1="163.2" y1="445" x2="163.2" y2="447.6" stroke="#333" stroke-width="0.9" />
<line x1="187.7" y1="445" x2="187.7" y2="447.6" stroke="#333" stroke-width="0.9" />
<text x="163.8" y="427.52" font-family="'Liberation Sans', sans-serif" font-size="7.5" font-weight="normal" text-anchor="middle" fill="#111" stroke="#111" stroke-width="0.2">***</text>
<text x="188" y="423.32" font-family="'Liberation Sans', sans-serif" font-size="7.5" font-weight="normal" text-anchor="middle" fill="#111" stroke="#111" stroke-width="0.2">***</text>
<text transform="translate(141,353.8) scale(1,1.1)" font-family="'Liberation Serif', serif" font-size="7.3" font-weight="bold" text-anchor="middle" fill="#111" stroke="#111" stroke-width="0.22">IL-6</text>
<text transform="translate(61.96,403) rotate(-90)" font-family="'Liberation Serif', serif" font-size="7.6" font-weight="bold" text-anchor="middle" fill="#111" stroke="#111" stroke-width="0.2">Relative mRNA expression</text>
<text transform="translate(91.2,454.9) rotate(-45)" font-family="'Liberation Serif', serif" font-size="6" font-weight="bold" text-anchor="end" fill="#111" stroke="#111" stroke-width="0.22">DMEM</text>
<text transform="translate(115.7,454.9) rotate(-45)" font-family="'Liberation Serif', serif" font-size="6" font-weight="bold" text-anchor="end" fill="#111" stroke="#111" stroke-width="0.22">DMEM</text>
<text transform="translate(140,454.9) rotate(-45)" font-family="'Liberation Serif', serif" font-size="6" font-weight="bold" text-anchor="end" fill="#111" stroke="#111" stroke-width="0.22">CP1</text>
<text transform="translate(164.8,454.9) rotate(-45)" font-family="'Liberation Serif', serif" font-size="6" font-weight="bold" text-anchor="end" fill="#111" stroke="#111" stroke-width="0.22">SR4</text>
<text transform="translate(189.3,454.9) rotate(-45)" font-family="'Liberation Serif', serif" font-size="6" font-weight="bold" text-anchor="end" fill="#111" stroke="#111" stroke-width="0.22">pep3R-1</text>
<line x1="96.1" y1="474.6" x2="201.1" y2="474.6" stroke="#222" stroke-width="1.4" />
<text transform="translate(148.6,486.32) scale(1,1.08)" font-family="'Liberation Serif', serif" font-size="7.9" font-weight="bold" text-anchor="middle" fill="#111" stroke="#111" stroke-width="0.22">Pam3CSK4</text>
<line x1="235.8" y1="364.7" x2="235.8" y2="444.6" stroke="#6a6a6a" stroke-width="1.3" />
<line x1="233.6" y1="444.6" x2="235.8" y2="444.6" stroke="#6a6a6a" stroke-width="1" />
<text x="233.2" y="446.83" font-family="'Liberation Sans', sans-serif" font-size="6.2" font-weight="bold" text-anchor="end" fill="#151515" stroke="#151515" stroke-width="0.25">0</text>
<line x1="233.6" y1="424.75" x2="235.8" y2="424.75" stroke="#6a6a6a" stroke-width="1" />
<text x="233.2" y="426.98" font-family="'Liberation Sans', sans-serif" font-size="6.2" font-weight="bold" text-anchor="end" fill="#151515" stroke="#151515" stroke-width="0.25">50</text>
<line x1="233.6" y1="404.9" x2="235.8" y2="404.9" stroke="#6a6a6a" stroke-width="1" />
<text x="233.2" y="407.13" font-family="'Liberation Sans', sans-serif" font-size="6.2" font-weight="bold" text-anchor="end" fill="#151515" stroke="#151515" stroke-width="0.25">100</text>
<line x1="233.6" y1="385.05" x2="235.8" y2="385.05" stroke="#6a6a6a" stroke-width="1" />
<text x="233.2" y="387.28" font-family="'Liberation Sans', sans-serif" font-size="6.2" font-weight="bold" text-anchor="end" fill="#151515" stroke="#151515" stroke-width="0.25">150</text>
<line x1="233.6" y1="365.2" x2="235.8" y2="365.2" stroke="#6a6a6a" stroke-width="1" />
<text x="233.2" y="367.43" font-family="'Liberation Sans', sans-serif" font-size="6.2" font-weight="bold" text-anchor="end" fill="#151515" stroke="#151515" stroke-width="0.25">200</text>
<path d="M241.55,444.6 V443.5 H255.85 V444.6" fill="none" stroke="#2a2aff" stroke-width="1.2"/>
<path d="M265.85,444.6 V399 H280.15 V444.6" fill="none" stroke="#ff2a2a" stroke-width="1.2"/>
<path d="M290.35,444.6 V395.5 H304.65 V444.6" fill="none" stroke="#44dd44" stroke-width="1.2"/>
<path d="M314.55,444.6 V438.2 H328.85 V444.6" fill="none" stroke="#c040ff" stroke-width="1.2"/>
<path d="M338.45,444.6 V442.4 H352.75 V444.6" fill="none" stroke="#f59a4a" stroke-width="1.2"/>
<circle cx="242.3" cy="444.6" r="1.5" fill="#0a0a0a"/>
<circle cx="248.7" cy="444.6" r="1.5" fill="#0a0a0a"/>
<circle cx="255.2" cy="444.6" r="1.5" fill="#0a0a0a"/>
<line x1="273" y1="394" x2="273" y2="402.9" stroke="#ff2a2a" stroke-width="1.1" />
<line x1="269.07" y1="394" x2="276.93" y2="394" stroke="#ff2a2a" stroke-width="1.1" />
<line x1="269.07" y1="402.9" x2="276.93" y2="402.9" stroke="#ff2a2a" stroke-width="1.1" />
<circle cx="273" cy="395.9" r="1.5" fill="#0a0a0a"/>
<circle cx="273" cy="404.7" r="1.5" fill="#0a0a0a"/>
<circle cx="279.6" cy="396" r="1.5" fill="#0a0a0a"/>
<circle cx="273" cy="400.8" r="1.5" fill="#0a0a0a"/>
<line x1="297.5" y1="374.7" x2="297.5" y2="415.7" stroke="#111" stroke-width="1.1" />
<line x1="293.57" y1="374.7" x2="301.43" y2="374.7" stroke="#111" stroke-width="1.1" />
<line x1="293.57" y1="415.7" x2="301.43" y2="415.7" stroke="#111" stroke-width="1.1" />
<circle cx="297.5" cy="370.5" r="1.5" fill="#0a0a0a"/>
<circle cx="297.5" cy="387" r="1.5" fill="#0a0a0a"/>
<circle cx="297.5" cy="408.2" r="1.5" fill="#0a0a0a"/>
<circle cx="297.5" cy="415.7" r="1.5" fill="#0a0a0a"/>
<line x1="321.7" y1="435" x2="321.7" y2="440" stroke="#c040ff" stroke-width="1.1" />
<line x1="317.77" y1="435" x2="325.63" y2="435" stroke="#c040ff" stroke-width="1.1" />
<line x1="317.77" y1="440" x2="325.63" y2="440" stroke="#c040ff" stroke-width="1.1" />
<circle cx="314.9" cy="439.1" r="1.5" fill="#0a0a0a"/>
<circle cx="321.7" cy="433.6" r="1.5" fill="#0a0a0a"/>
<circle cx="321.7" cy="438.2" r="1.5" fill="#0a0a0a"/>
<circle cx="328.2" cy="438.7" r="1.5" fill="#0a0a0a"/>
<line x1="345.6" y1="440" x2="345.6" y2="444.6" stroke="#f59a4a" stroke-width="1.1" />
<line x1="341.67" y1="440" x2="349.53" y2="440" stroke="#f59a4a" stroke-width="1.1" />
<line x1="341.67" y1="444.6" x2="349.53" y2="444.6" stroke="#f59a4a" stroke-width="1.1" />
<circle cx="339.2" cy="440.4" r="1.5" fill="#0a0a0a"/>
<circle cx="339.2" cy="445" r="1.5" fill="#0a0a0a"/>
<circle cx="345.6" cy="440.9" r="1.5" fill="#0a0a0a"/>
<circle cx="352.3" cy="442.2" r="1.5" fill="#0a0a0a"/>
<line x1="235.3" y1="444.6" x2="357.7" y2="444.6" stroke="#222" stroke-width="1.1" />
<line x1="248.7" y1="444.6" x2="248.7" y2="447.2" stroke="#333" stroke-width="0.9" />
<line x1="273" y1="444.6" x2="273" y2="447.2" stroke="#333" stroke-width="0.9" />
<line x1="297.5" y1="444.6" x2="297.5" y2="447.2" stroke="#333" stroke-width="0.9" />
<line x1="321.7" y1="444.6" x2="321.7" y2="447.2" stroke="#333" stroke-width="0.9" />
<line x1="345.6" y1="444.6" x2="345.6" y2="447.2" stroke="#333" stroke-width="0.9" />
<text x="321.7" y="431.22" font-family="'Liberation Sans', sans-serif" font-size="7.5" font-weight="normal" text-anchor="middle" fill="#111" stroke="#111" stroke-width="0.2">**</text>
<text x="345.6" y="435.22" font-family="'Liberation Sans', sans-serif" font-size="7.5" font-weight="normal" text-anchor="middle" fill="#111" stroke="#111" stroke-width="0.2">**</text>
<text transform="translate(297.8,348.2) scale(1,1.1)" font-family="'Liberation Serif', serif" font-size="7.3" font-weight="bold" text-anchor="middle" fill="#111" stroke="#111" stroke-width="0.22">TNF-&#945;</text>
<text transform="translate(218.26,401.5) rotate(-90)" font-family="'Liberation Serif', serif" font-size="7.6" font-weight="bold" text-anchor="middle" fill="#111" stroke="#111" stroke-width="0.2">Relative mRNA expression</text>
<text transform="translate(250.3,454.5) rotate(-45)" font-family="'Liberation Serif', serif" font-size="6" font-weight="bold" text-anchor="end" fill="#111" stroke="#111" stroke-width="0.22">DMEM</text>
<text transform="translate(274.6,454.5) rotate(-45)" font-family="'Liberation Serif', serif" font-size="6" font-weight="bold" text-anchor="end" fill="#111" stroke="#111" stroke-width="0.22">DMEM</text>
<text transform="translate(299.1,454.5) rotate(-45)" font-family="'Liberation Serif', serif" font-size="6" font-weight="bold" text-anchor="end" fill="#111" stroke="#111" stroke-width="0.22">CP1</text>
<text transform="translate(323.3,454.5) rotate(-45)" font-family="'Liberation Serif', serif" font-size="6" font-weight="bold" text-anchor="end" fill="#111" stroke="#111" stroke-width="0.22">SR4</text>
<text transform="translate(347.2,454.5) rotate(-45)" font-family="'Liberation Serif', serif" font-size="6" font-weight="bold" text-anchor="end" fill="#111" stroke="#111" stroke-width="0.22">pep3R-1</text>
<line x1="267.1" y1="479.4" x2="348.2" y2="479.4" stroke="#222" stroke-width="1.4" />
<text transform="translate(306.3,493.32) scale(1,1.08)" font-family="'Liberation Serif', serif" font-size="7.9" font-weight="bold" text-anchor="middle" fill="#111" stroke="#111" stroke-width="0.22">Pam3CSK4</text>
<line x1="408.2" y1="369.8" x2="408.2" y2="447.3" stroke="#6a6a6a" stroke-width="1.3" />
<line x1="406" y1="447.3" x2="408.2" y2="447.3" stroke="#6a6a6a" stroke-width="1" />
<text x="405.6" y="449.53" font-family="'Liberation Sans', sans-serif" font-size="6.2" font-weight="bold" text-anchor="end" fill="#151515" stroke="#151515" stroke-width="0.25">0</text>
<line x1="406" y1="421.63" x2="408.2" y2="421.63" stroke="#6a6a6a" stroke-width="1" />
<text x="405.6" y="423.87" font-family="'Liberation Sans', sans-serif" font-size="6.2" font-weight="bold" text-anchor="end" fill="#151515" stroke="#151515" stroke-width="0.25">50</text>
<line x1="406" y1="395.97" x2="408.2" y2="395.97" stroke="#6a6a6a" stroke-width="1" />
<text x="405.6" y="398.2" font-family="'Liberation Sans', sans-serif" font-size="6.2" font-weight="bold" text-anchor="end" fill="#151515" stroke="#151515" stroke-width="0.25">100</text>
<line x1="406" y1="370.3" x2="408.2" y2="370.3" stroke="#6a6a6a" stroke-width="1" />
<text x="405.6" y="372.53" font-family="'Liberation Sans', sans-serif" font-size="6.2" font-weight="bold" text-anchor="end" fill="#151515" stroke="#151515" stroke-width="0.25">150</text>
<path d="M413.45,447.3 V446.5 H427.55 V447.3" fill="none" stroke="#2a2aff" stroke-width="1.2"/>
<path d="M436.35,447.3 V406.3 H450.45 V447.3" fill="none" stroke="#ff2a2a" stroke-width="1.2"/>
<path d="M459.55,447.3 V415.8 H473.65 V447.3" fill="none" stroke="#44dd44" stroke-width="1.2"/>
<path d="M482.85,447.3 V447 H496.95 V447.3" fill="none" stroke="#c040ff" stroke-width="1.2"/>
<path d="M506.35,447.3 V434.5 H520.45 V447.3" fill="none" stroke="#f59a4a" stroke-width="1.2"/>
<circle cx="413.9" cy="447.3" r="1.5" fill="#0a0a0a"/>
<circle cx="418.3" cy="447" r="1.5" fill="#0a0a0a"/>
<circle cx="422.5" cy="447" r="1.5" fill="#0a0a0a"/>
<circle cx="426.7" cy="447.3" r="1.5" fill="#0a0a0a"/>
<line x1="443.4" y1="398.3" x2="443.4" y2="414" stroke="#ff8080" stroke-width="1.1" />
<line x1="439.52" y1="398.3" x2="447.28" y2="398.3" stroke="#ff8080" stroke-width="1.1" />
<line x1="439.52" y1="414" x2="447.28" y2="414" stroke="#ff8080" stroke-width="1.1" />
<circle cx="443.8" cy="395.6" r="1.5" fill="#0a0a0a"/>
<circle cx="443.8" cy="404.2" r="1.5" fill="#0a0a0a"/>
<circle cx="437.6" cy="413.1" r="1.5" fill="#0a0a0a"/>
<circle cx="450.4" cy="411.3" r="1.5" fill="#0a0a0a"/>
<line x1="466.6" y1="413.1" x2="466.6" y2="418.1" stroke="#777" stroke-width="1.1" />
<line x1="462.72" y1="413.1" x2="470.48" y2="413.1" stroke="#777" stroke-width="1.1" />
<line x1="462.72" y1="418.1" x2="470.48" y2="418.1" stroke="#777" stroke-width="1.1" />
<circle cx="461.1" cy="413.4" r="1.5" fill="#0a0a0a"/>
<circle cx="467.3" cy="415.8" r="1.5" fill="#0a0a0a"/>
<circle cx="473.6" cy="413.4" r="1.5" fill="#0a0a0a"/>
<circle cx="467.3" cy="419" r="1.5" fill="#0a0a0a"/>
<circle cx="484.3" cy="447.3" r="1.5" fill="#0a0a0a"/>
<circle cx="488.7" cy="447.3" r="1.5" fill="#0a0a0a"/>
<circle cx="493.1" cy="447.3" r="1.5" fill="#0a0a0a"/>
<circle cx="497.3" cy="447.3" r="1.5" fill="#0a0a0a"/>
<circle cx="507.9" cy="435.3" r="1.5" fill="#0a0a0a"/>
<circle cx="512.2" cy="433.2" r="1.5" fill="#0a0a0a"/>
<circle cx="516.7" cy="434.1" r="1.5" fill="#0a0a0a"/>
<circle cx="520.8" cy="434.1" r="1.5" fill="#0a0a0a"/>
<line x1="407.7" y1="447.3" x2="526.7" y2="447.3" stroke="#222" stroke-width="1.1" />
<line x1="420.5" y1="447.3" x2="420.5" y2="449.9" stroke="#333" stroke-width="0.9" />
<line x1="443.4" y1="447.3" x2="443.4" y2="449.9" stroke="#333" stroke-width="0.9" />
<line x1="466.6" y1="447.3" x2="466.6" y2="449.9" stroke="#333" stroke-width="0.9" />
<line x1="489.9" y1="447.3" x2="489.9" y2="449.9" stroke="#333" stroke-width="0.9" />
<line x1="513.4" y1="447.3" x2="513.4" y2="449.9" stroke="#333" stroke-width="0.9" />
<text x="491" y="438.52" font-family="'Liberation Sans', sans-serif" font-size="7.5" font-weight="normal" text-anchor="middle" fill="#111" stroke="#111" stroke-width="0.2">***</text>
<text x="514" y="421.22" font-family="'Liberation Sans', sans-serif" font-size="7.5" font-weight="normal" text-anchor="middle" fill="#111" stroke="#111" stroke-width="0.2">***</text>
<text transform="translate(467.6,354.3) scale(1,1.1)" font-family="'Liberation Serif', serif" font-size="7.3" font-weight="bold" text-anchor="middle" fill="#111" stroke="#111" stroke-width="0.22">TNF-&#945;</text>
<text transform="translate(387.16,405.9) rotate(-90)" font-family="'Liberation Serif', serif" font-size="7.6" font-weight="bold" text-anchor="middle" fill="#111" stroke="#111" stroke-width="0.2">Relative mRNA expression</text>
<text transform="translate(422.1,456.5) rotate(-45)" font-family="'Liberation Serif', serif" font-size="6" font-weight="bold" text-anchor="end" fill="#111" stroke="#111" stroke-width="0.22">DMEM</text>
<text transform="translate(445,456.5) rotate(-45)" font-family="'Liberation Serif', serif" font-size="6" font-weight="bold" text-anchor="end" fill="#111" stroke="#111" stroke-width="0.22">DMEM</text>
<text transform="translate(468.2,456.5) rotate(-45)" font-family="'Liberation Serif', serif" font-size="6" font-weight="bold" text-anchor="end" fill="#111" stroke="#111" stroke-width="0.22">CP1</text>
<text transform="translate(491.5,456.5) rotate(-45)" font-family="'Liberation Serif', serif" font-size="6" font-weight="bold" text-anchor="end" fill="#111" stroke="#111" stroke-width="0.22">SR4</text>
<text transform="translate(515,456.5) rotate(-45)" font-family="'Liberation Serif', serif" font-size="6" font-weight="bold" text-anchor="end" fill="#111" stroke="#111" stroke-width="0.22">pep3R-1</text>
<line x1="431.4" y1="485.2" x2="526.7" y2="485.2" stroke="#222" stroke-width="1.4" />
<text transform="translate(476.4,497.15) scale(1,1.08)" font-family="'Liberation Serif', serif" font-size="7.7" font-weight="bold" text-anchor="middle" fill="#111" stroke="#111" stroke-width="0.22">R848</text>
<line x1="558.2" y1="371.4" x2="558.2" y2="449.7" stroke="#6a6a6a" stroke-width="1.3" />
<line x1="556" y1="449.7" x2="558.2" y2="449.7" stroke="#6a6a6a" stroke-width="1" />
<text x="555.6" y="451.93" font-family="'Liberation Sans', sans-serif" font-size="6.2" font-weight="bold" text-anchor="end" fill="#151515" stroke="#151515" stroke-width="0.25">0</text>
<line x1="556" y1="434.14" x2="558.2" y2="434.14" stroke="#6a6a6a" stroke-width="1" />
<text x="555.6" y="436.37" font-family="'Liberation Sans', sans-serif" font-size="6.2" font-weight="bold" text-anchor="end" fill="#151515" stroke="#151515" stroke-width="0.25">10</text>
<line x1="556" y1="418.58" x2="558.2" y2="418.58" stroke="#6a6a6a" stroke-width="1" />
<text x="555.6" y="420.81" font-family="'Liberation Sans', sans-serif" font-size="6.2" font-weight="bold" text-anchor="end" fill="#151515" stroke="#151515" stroke-width="0.25">20</text>
<line x1="556" y1="403.02" x2="558.2" y2="403.02" stroke="#6a6a6a" stroke-width="1" />
<text x="555.6" y="405.25" font-family="'Liberation Sans', sans-serif" font-size="6.2" font-weight="bold" text-anchor="end" fill="#151515" stroke="#151515" stroke-width="0.25">30</text>
<line x1="556" y1="387.46" x2="558.2" y2="387.46" stroke="#6a6a6a" stroke-width="1" />
<text x="555.6" y="389.69" font-family="'Liberation Sans', sans-serif" font-size="6.2" font-weight="bold" text-anchor="end" fill="#151515" stroke="#151515" stroke-width="0.25">40</text>
<line x1="556" y1="371.9" x2="558.2" y2="371.9" stroke="#6a6a6a" stroke-width="1" />
<text x="555.6" y="374.13" font-family="'Liberation Sans', sans-serif" font-size="6.2" font-weight="bold" text-anchor="end" fill="#151515" stroke="#151515" stroke-width="0.25">50</text>
<path d="M563.65,449.7 V448.6 H577.35 V449.7" fill="none" stroke="#2a2aff" stroke-width="1.2"/>
<path d="M587.15,449.7 V400.3 H600.85 V449.7" fill="none" stroke="#ff2a2a" stroke-width="1.2"/>
<path d="M611.05,449.7 V395.4 H624.75 V449.7" fill="none" stroke="#44dd44" stroke-width="1.2"/>
<path d="M634.75,449.7 V448.6 H648.45 V449.7" fill="none" stroke="#c040ff" stroke-width="1.2"/>
<path d="M658.35,449.7 V438 H672.05 V449.7" fill="none" stroke="#f59a4a" stroke-width="1.2"/>
<circle cx="563.6" cy="448.6" r="1.5" fill="#0a0a0a"/>
<circle cx="568" cy="448.3" r="1.5" fill="#0a0a0a"/>
<circle cx="572.4" cy="448.3" r="1.5" fill="#0a0a0a"/>
<circle cx="576.8" cy="448.6" r="1.5" fill="#0a0a0a"/>
<line x1="594" y1="393.4" x2="594" y2="406.6" stroke="#ff8080" stroke-width="1.1" />
<line x1="590.23" y1="393.4" x2="597.77" y2="393.4" stroke="#ff8080" stroke-width="1.1" />
<line x1="590.23" y1="406.6" x2="597.77" y2="406.6" stroke="#ff8080" stroke-width="1.1" />
<circle cx="594" cy="380.9" r="1.5" fill="#0a0a0a"/>
<circle cx="587.7" cy="407.9" r="1.5" fill="#0a0a0a"/>
<circle cx="594" cy="405.5" r="1.5" fill="#0a0a0a"/>
<circle cx="600.4" cy="405.7" r="1.5" fill="#0a0a0a"/>
<line x1="617.9" y1="392.2" x2="617.9" y2="398.1" stroke="#111" stroke-width="1.1" />
<line x1="614.13" y1="392.2" x2="621.67" y2="392.2" stroke="#111" stroke-width="1.1" />
<line x1="614.13" y1="398.1" x2="621.67" y2="398.1" stroke="#111" stroke-width="1.1" />
<circle cx="617.9" cy="386.4" r="1.5" fill="#0a0a0a"/>
<circle cx="617.9" cy="395.4" r="1.5" fill="#0a0a0a"/>
<circle cx="611.6" cy="400.3" r="1.5" fill="#0a0a0a"/>
<circle cx="623.9" cy="398" r="1.5" fill="#0a0a0a"/>
<circle cx="635.1" cy="449.2" r="1.5" fill="#0a0a0a"/>
<circle cx="639.3" cy="447.4" r="1.5" fill="#0a0a0a"/>
<circle cx="643.8" cy="448.8" r="1.5" fill="#0a0a0a"/>
<circle cx="648" cy="448.8" r="1.5" fill="#0a0a0a"/>
<circle cx="658.8" cy="438.9" r="1.5" fill="#0a0a0a"/>
<circle cx="663.2" cy="436.1" r="1.5" fill="#0a0a0a"/>
<circle cx="667.3" cy="437.4" r="1.5" fill="#0a0a0a"/>
<circle cx="671.5" cy="436.9" r="1.5" fill="#0a0a0a"/>
<line x1="557.7" y1="449.7" x2="676.5" y2="449.7" stroke="#222" stroke-width="1.1" />
<line x1="570.5" y1="449.7" x2="570.5" y2="452.3" stroke="#333" stroke-width="0.9" />
<line x1="594" y1="449.7" x2="594" y2="452.3" stroke="#333" stroke-width="0.9" />
<line x1="617.9" y1="449.7" x2="617.9" y2="452.3" stroke="#333" stroke-width="0.9" />
<line x1="641.6" y1="449.7" x2="641.6" y2="452.3" stroke="#333" stroke-width="0.9" />
<line x1="665.2" y1="449.7" x2="665.2" y2="452.3" stroke="#333" stroke-width="0.9" />
<text x="641.1" y="441.52" font-family="'Liberation Sans', sans-serif" font-size="7.5" font-weight="normal" text-anchor="middle" fill="#111" stroke="#111" stroke-width="0.2">***</text>
<text x="664.3" y="423.72" font-family="'Liberation Sans', sans-serif" font-size="7.5" font-weight="normal" text-anchor="middle" fill="#111" stroke="#111" stroke-width="0.2">***</text>
<text transform="translate(613.9,355.6) scale(1,1.1)" font-family="'Liberation Serif', serif" font-size="7.3" font-weight="bold" text-anchor="middle" fill="#111" stroke="#111" stroke-width="0.22">IL-6</text>
<text transform="translate(537.16,407.5) rotate(-90)" font-family="'Liberation Serif', serif" font-size="7.6" font-weight="bold" text-anchor="middle" fill="#111" stroke="#111" stroke-width="0.2">Relative mRNA expression</text>
<text transform="translate(572.1,458.9) rotate(-45)" font-family="'Liberation Serif', serif" font-size="6" font-weight="bold" text-anchor="end" fill="#111" stroke="#111" stroke-width="0.22">DMEM</text>
<text transform="translate(595.6,458.9) rotate(-45)" font-family="'Liberation Serif', serif" font-size="6" font-weight="bold" text-anchor="end" fill="#111" stroke="#111" stroke-width="0.22">DMEM</text>
<text transform="translate(619.5,458.9) rotate(-45)" font-family="'Liberation Serif', serif" font-size="6" font-weight="bold" text-anchor="end" fill="#111" stroke="#111" stroke-width="0.22">CP1</text>
<text transform="translate(643.2,458.9) rotate(-45)" font-family="'Liberation Serif', serif" font-size="6" font-weight="bold" text-anchor="end" fill="#111" stroke="#111" stroke-width="0.22">SR4</text>
<text transform="translate(666.8,458.9) rotate(-45)" font-family="'Liberation Serif', serif" font-size="6" font-weight="bold" text-anchor="end" fill="#111" stroke="#111" stroke-width="0.22">pep3R-1</text>
<line x1="588.2" y1="483" x2="667" y2="483" stroke="#222" stroke-width="1.4" />
<text transform="translate(626.7,494.35) scale(1,1.08)" font-family="'Liberation Serif', serif" font-size="7.7" font-weight="bold" text-anchor="middle" fill="#111" stroke="#111" stroke-width="0.22">R848</text>
<line x1="76.4" y1="511.8" x2="76.4" y2="604.4" stroke="#6a6a6a" stroke-width="1.3" />
<line x1="74.2" y1="604.4" x2="76.4" y2="604.4" stroke="#6a6a6a" stroke-width="1" />
<text x="73.8" y="606.2" font-family="'Liberation Sans', sans-serif" font-size="5" font-weight="normal" text-anchor="end" fill="#333" stroke="#333" stroke-width="0.25">0</text>
<line x1="74.2" y1="581.38" x2="76.4" y2="581.38" stroke="#6a6a6a" stroke-width="1" />
<text x="73.8" y="583.17" font-family="'Liberation Sans', sans-serif" font-size="5" font-weight="normal" text-anchor="end" fill="#333" stroke="#333" stroke-width="0.25">5</text>
<line x1="74.2" y1="558.35" x2="76.4" y2="558.35" stroke="#6a6a6a" stroke-width="1" />
<text x="73.8" y="560.15" font-family="'Liberation Sans', sans-serif" font-size="5" font-weight="normal" text-anchor="end" fill="#333" stroke="#333" stroke-width="0.25">10</text>
<line x1="74.2" y1="535.32" x2="76.4" y2="535.32" stroke="#6a6a6a" stroke-width="1" />
<text x="73.8" y="537.12" font-family="'Liberation Sans', sans-serif" font-size="5" font-weight="normal" text-anchor="end" fill="#333" stroke="#333" stroke-width="0.25">15</text>
<line x1="74.2" y1="512.3" x2="76.4" y2="512.3" stroke="#6a6a6a" stroke-width="1" />
<text x="73.8" y="514.1" font-family="'Liberation Sans', sans-serif" font-size="5" font-weight="normal" text-anchor="end" fill="#333" stroke="#333" stroke-width="0.25">20</text>
<path d="M80.35,604.4 V598.2 H88.85 V604.4" fill="none" stroke="#2a2aff" stroke-width="1.1"/>
<path d="M95.85,604.4 V550.3 H104.35 V604.4" fill="none" stroke="#ff2a2a" stroke-width="1.1"/>
<path d="M111.25,604.4 V536.4 H119.75 V604.4" fill="none" stroke="#44dd44" stroke-width="1.1"/>
<path d="M126.45,604.4 V600.3 H134.95 V604.4" fill="none" stroke="#c040ff" stroke-width="1.1"/>
<path d="M141.95,604.4 V600.8 H150.45 V604.4" fill="none" stroke="#f59a4a" stroke-width="1.1"/>
<line x1="84.6" y1="597" x2="84.6" y2="600" stroke="#2a2aff" stroke-width="1.1" />
<line x1="82.1" y1="597" x2="87.1" y2="597" stroke="#2a2aff" stroke-width="1.1" />
<line x1="82.1" y1="600" x2="87.1" y2="600" stroke="#2a2aff" stroke-width="1.1" />
<circle cx="81.3" cy="600.8" r="1.35" fill="#0a0a0a"/>
<circle cx="84.6" cy="594.6" r="1.35" fill="#0a0a0a"/>
<circle cx="88.7" cy="599.5" r="1.35" fill="#0a0a0a"/>
<circle cx="84.6" cy="598.2" r="1.35" fill="#0a0a0a"/>
<line x1="100.1" y1="542.5" x2="100.1" y2="557.4" stroke="#ff2a2a" stroke-width="1.1" />
<line x1="97.6" y1="542.5" x2="102.6" y2="542.5" stroke="#ff2a2a" stroke-width="1.1" />
<line x1="97.6" y1="557.4" x2="102.6" y2="557.4" stroke="#ff2a2a" stroke-width="1.1" />
<circle cx="96.3" cy="537.2" r="1.35" fill="#0a0a0a"/>
<circle cx="100.1" cy="536.8" r="1.35" fill="#0a0a0a"/>
<circle cx="96.3" cy="562.8" r="1.35" fill="#0a0a0a"/>
<circle cx="103.6" cy="562.5" r="1.35" fill="#0a0a0a"/>
<line x1="115.5" y1="528.3" x2="115.5" y2="544.4" stroke="#44dd44" stroke-width="1.1" />
<line x1="113" y1="528.3" x2="118" y2="528.3" stroke="#44dd44" stroke-width="1.1" />
<line x1="113" y1="544.4" x2="118" y2="544.4" stroke="#44dd44" stroke-width="1.1" />
<circle cx="115.5" cy="517.2" r="1.35" fill="#0a0a0a"/>
<circle cx="111.8" cy="534.3" r="1.35" fill="#0a0a0a"/>
<circle cx="115.5" cy="536.8" r="1.35" fill="#0a0a0a"/>
<circle cx="115.5" cy="556.8" r="1.35" fill="#0a0a0a"/>
<circle cx="126.9" cy="601.9" r="1.35" fill="#0a0a0a"/>
<circle cx="130.7" cy="598.2" r="1.35" fill="#0a0a0a"/>
<circle cx="134.6" cy="598.2" r="1.35" fill="#0a0a0a"/>
<circle cx="134.6" cy="601.4" r="1.35" fill="#0a0a0a"/>
<circle cx="142.1" cy="600.8" r="1.35" fill="#0a0a0a"/>
<circle cx="145.7" cy="600.3" r="1.35" fill="#0a0a0a"/>
<circle cx="148.1" cy="600.3" r="1.35" fill="#0a0a0a"/>
<circle cx="150.2" cy="600.8" r="1.35" fill="#0a0a0a"/>
<line x1="75.9" y1="604.4" x2="152.6" y2="604.4" stroke="#222" stroke-width="1.1" />
<line x1="84.6" y1="604.4" x2="84.6" y2="607" stroke="#333" stroke-width="0.9" />
<line x1="100.1" y1="604.4" x2="100.1" y2="607" stroke="#333" stroke-width="0.9" />
<line x1="115.5" y1="604.4" x2="115.5" y2="607" stroke="#333" stroke-width="0.9" />
<line x1="130.7" y1="604.4" x2="130.7" y2="607" stroke="#333" stroke-width="0.9" />
<line x1="146.2" y1="604.4" x2="146.2" y2="607" stroke="#333" stroke-width="0.9" />
<text x="130.7" y="591.72" font-family="'Liberation Sans', sans-serif" font-size="6" font-weight="normal" text-anchor="middle" fill="#111" stroke="#111" stroke-width="0.2">**</text>
<text x="146.2" y="594.42" font-family="'Liberation Sans', sans-serif" font-size="6" font-weight="normal" text-anchor="middle" fill="#111" stroke="#111" stroke-width="0.2">**</text>
<text transform="translate(120.9,510.8) scale(1,1.1)" font-family="'Liberation Serif', serif" font-size="6.5" font-weight="bold" text-anchor="middle" fill="#111" stroke="#111" stroke-width="0.22">IFN-&#945;</text>
<text transform="translate(58.16,560) rotate(-90)" font-family="'Liberation Serif', serif" font-size="6.75" font-weight="bold" text-anchor="middle" fill="#111" stroke="#111" stroke-width="0.2">Relative mRNA expression</text>
<text transform="translate(85.8,612) rotate(-45)" font-family="'Liberation Serif', serif" font-size="5.4" font-weight="bold" text-anchor="end" fill="#111" stroke="#111" stroke-width="0.22">DMEM</text>
<text transform="translate(101.3,612) rotate(-45)" font-family="'Liberation Serif', serif" font-size="5.4" font-weight="bold" text-anchor="end" fill="#111" stroke="#111" stroke-width="0.22">DMEM</text>
<text transform="translate(116.7,612) rotate(-45)" font-family="'Liberation Serif', serif" font-size="5.4" font-weight="bold" text-anchor="end" fill="#111" stroke="#111" stroke-width="0.22">CP</text>
<text transform="translate(131.9,612) rotate(-45)" font-family="'Liberation Serif', serif" font-size="5.4" font-weight="bold" text-anchor="end" fill="#111" stroke="#111" stroke-width="0.22">SR</text>
<text transform="translate(147.4,612) rotate(-45)" font-family="'Liberation Serif', serif" font-size="5.4" font-weight="bold" text-anchor="end" fill="#111" stroke="#111" stroke-width="0.22">pep3R-1</text>
<line x1="100.5" y1="635.4" x2="146.9" y2="635.4" stroke="#222" stroke-width="1.4" />
<text transform="translate(125.3,646.39) scale(1,1.08)" font-family="'Liberation Serif', serif" font-size="7" font-weight="bold" text-anchor="middle" fill="#111" stroke="#111" stroke-width="0.22">R848</text>
<line x1="191.6" y1="511.8" x2="191.6" y2="604.3" stroke="#6a6a6a" stroke-width="1.3" />
<line x1="189.4" y1="604.3" x2="191.6" y2="604.3" stroke="#6a6a6a" stroke-width="1" />
<text x="189" y="606.1" font-family="'Liberation Sans', sans-serif" font-size="5" font-weight="normal" text-anchor="end" fill="#333" stroke="#333" stroke-width="0.25">0</text>
<line x1="189.4" y1="573.63" x2="191.6" y2="573.63" stroke="#6a6a6a" stroke-width="1" />
<text x="189" y="575.43" font-family="'Liberation Sans', sans-serif" font-size="5" font-weight="normal" text-anchor="end" fill="#333" stroke="#333" stroke-width="0.25">5</text>
<line x1="189.4" y1="542.97" x2="191.6" y2="542.97" stroke="#6a6a6a" stroke-width="1" />
<text x="189" y="544.77" font-family="'Liberation Sans', sans-serif" font-size="5" font-weight="normal" text-anchor="end" fill="#333" stroke="#333" stroke-width="0.25">10</text>
<line x1="189.4" y1="512.3" x2="191.6" y2="512.3" stroke="#6a6a6a" stroke-width="1" />
<text x="189" y="514.1" font-family="'Liberation Sans', sans-serif" font-size="5" font-weight="normal" text-anchor="end" fill="#333" stroke="#333" stroke-width="0.25">15</text>
<path d="M194.75,604.3 V597.5 H203.45 V604.3" fill="none" stroke="#2a2aff" stroke-width="1.1"/>
<path d="M210.55,604.3 V565.3 H219.25 V604.3" fill="none" stroke="#ff2a2a" stroke-width="1.1"/>
<path d="M225.65,604.3 V549 H234.35 V604.3" fill="none" stroke="#44dd44" stroke-width="1.1"/>
<path d="M240.95,604.3 V599.1 H249.65 V604.3" fill="none" stroke="#c040ff" stroke-width="1.1"/>
<path d="M256.45,604.3 V599.8 H265.15 V604.3" fill="none" stroke="#f59a4a" stroke-width="1.1"/>
<line x1="199.1" y1="595.7" x2="199.1" y2="599.5" stroke="#2a2aff" stroke-width="1.1" />
<line x1="196.6" y1="595.7" x2="201.6" y2="595.7" stroke="#2a2aff" stroke-width="1.1" />
<line x1="196.6" y1="599.5" x2="201.6" y2="599.5" stroke="#2a2aff" stroke-width="1.1" />
<circle cx="195.8" cy="600.3" r="1.35" fill="#0a0a0a"/>
<circle cx="199.4" cy="593.3" r="1.35" fill="#0a0a0a"/>
<circle cx="199.4" cy="597" r="1.35" fill="#0a0a0a"/>
<circle cx="203.5" cy="598.2" r="1.35" fill="#0a0a0a"/>
<line x1="214.9" y1="560.4" x2="214.9" y2="570.1" stroke="#ff2a2a" stroke-width="1.1" />
<line x1="212.4" y1="560.4" x2="217.4" y2="560.4" stroke="#ff2a2a" stroke-width="1.1" />
<line x1="212.4" y1="570.1" x2="217.4" y2="570.1" stroke="#ff2a2a" stroke-width="1.1" />
<circle cx="214.9" cy="554.2" r="1.35" fill="#0a0a0a"/>
<circle cx="214.9" cy="563.3" r="1.35" fill="#0a0a0a"/>
<circle cx="214.9" cy="569.8" r="1.35" fill="#0a0a0a"/>
<circle cx="214.9" cy="575.5" r="1.35" fill="#0a0a0a"/>
<line x1="230" y1="546.2" x2="230" y2="551.5" stroke="#44dd44" stroke-width="1.1" />
<line x1="227.5" y1="546.2" x2="232.5" y2="546.2" stroke="#44dd44" stroke-width="1.1" />
<line x1="227.5" y1="551.5" x2="232.5" y2="551.5" stroke="#44dd44" stroke-width="1.1" />
<circle cx="230" cy="543.3" r="1.35" fill="#0a0a0a"/>
<circle cx="226.8" cy="553.5" r="1.35" fill="#0a0a0a"/>
<circle cx="233.9" cy="550.6" r="1.35" fill="#0a0a0a"/>
<circle cx="230" cy="549" r="1.35" fill="#0a0a0a"/>
<circle cx="241.7" cy="601.1" r="1.35" fill="#0a0a0a"/>
<circle cx="245.3" cy="598.6" r="1.35" fill="#0a0a0a"/>
<circle cx="249.4" cy="597" r="1.35" fill="#0a0a0a"/>
<circle cx="249.4" cy="600.8" r="1.35" fill="#0a0a0a"/>
<circle cx="257.2" cy="599.8" r="1.35" fill="#0a0a0a"/>
<circle cx="259.7" cy="599.5" r="1.35" fill="#0a0a0a"/>
<circle cx="262.6" cy="599.5" r="1.35" fill="#0a0a0a"/>
<circle cx="264.9" cy="599.8" r="1.35" fill="#0a0a0a"/>
<line x1="191.1" y1="604.3" x2="268.6" y2="604.3" stroke="#222" stroke-width="1.1" />
<line x1="199.1" y1="604.3" x2="199.1" y2="606.9" stroke="#333" stroke-width="0.9" />
<line x1="214.9" y1="604.3" x2="214.9" y2="606.9" stroke="#333" stroke-width="0.9" />
<line x1="230" y1="604.3" x2="230" y2="606.9" stroke="#333" stroke-width="0.9" />
<line x1="245.3" y1="604.3" x2="245.3" y2="606.9" stroke="#333" stroke-width="0.9" />
<line x1="260.8" y1="604.3" x2="260.8" y2="606.9" stroke="#333" stroke-width="0.9" />
<text x="245.3" y="587.92" font-family="'Liberation Sans', sans-serif" font-size="6" font-weight="normal" text-anchor="middle" fill="#111" stroke="#111" stroke-width="0.2">***</text>
<text x="260.8" y="593.62" font-family="'Liberation Sans', sans-serif" font-size="6" font-weight="normal" text-anchor="middle" fill="#111" stroke="#111" stroke-width="0.2">***</text>
<text transform="translate(235.8,510.8) scale(1,1.1)" font-family="'Liberation Serif', serif" font-size="6.5" font-weight="bold" text-anchor="middle" fill="#111" stroke="#111" stroke-width="0.22">IFN-&#946;</text>
<text transform="translate(173.46,560) rotate(-90)" font-family="'Liberation Serif', serif" font-size="6.75" font-weight="bold" text-anchor="middle" fill="#111" stroke="#111" stroke-width="0.2">Relative mRNA expression</text>
<text transform="translate(200.3,611.9) rotate(-45)" font-family="'Liberation Serif', serif" font-size="5.4" font-weight="bold" text-anchor="end" fill="#111" stroke="#111" stroke-width="0.22">DMEM</text>
<text transform="translate(216.1,611.9) rotate(-45)" font-family="'Liberation Serif', serif" font-size="5.4" font-weight="bold" text-anchor="end" fill="#111" stroke="#111" stroke-width="0.22">DMEM</text>
<text transform="translate(231.2,611.9) rotate(-45)" font-family="'Liberation Serif', serif" font-size="5.4" font-weight="bold" text-anchor="end" fill="#111" stroke="#111" stroke-width="0.22">CP</text>
<text transform="translate(246.5,611.9) rotate(-45)" font-family="'Liberation Serif', serif" font-size="5.4" font-weight="bold" text-anchor="end" fill="#111" stroke="#111" stroke-width="0.22">SR</text>
<text transform="translate(262,611.9) rotate(-45)" font-family="'Liberation Serif', serif" font-size="5.4" font-weight="bold" text-anchor="end" fill="#111" stroke="#111" stroke-width="0.22">pep3R-1</text>
<line x1="215.3" y1="635.4" x2="261.7" y2="635.4" stroke="#222" stroke-width="1.4" />
<text transform="translate(239.8,646.39) scale(1,1.08)" font-family="'Liberation Serif', serif" font-size="7" font-weight="bold" text-anchor="middle" fill="#111" stroke="#111" stroke-width="0.22">R848</text>
<line x1="313.4" y1="515.6" x2="313.4" y2="605.2" stroke="#6a6a6a" stroke-width="1.3" />
<line x1="311.2" y1="605.2" x2="313.4" y2="605.2" stroke="#6a6a6a" stroke-width="1" />
<text x="310.8" y="607" font-family="'Liberation Sans', sans-serif" font-size="5" font-weight="normal" text-anchor="end" fill="#333" stroke="#333" stroke-width="0.25">0</text>
<line x1="311.2" y1="582.93" x2="313.4" y2="582.93" stroke="#6a6a6a" stroke-width="1" />
<text x="310.8" y="584.73" font-family="'Liberation Sans', sans-serif" font-size="5" font-weight="normal" text-anchor="end" fill="#333" stroke="#333" stroke-width="0.25">20</text>
<line x1="311.2" y1="560.65" x2="313.4" y2="560.65" stroke="#6a6a6a" stroke-width="1" />
<text x="310.8" y="562.45" font-family="'Liberation Sans', sans-serif" font-size="5" font-weight="normal" text-anchor="end" fill="#333" stroke="#333" stroke-width="0.25">40</text>
<line x1="311.2" y1="538.38" x2="313.4" y2="538.38" stroke="#6a6a6a" stroke-width="1" />
<text x="310.8" y="540.17" font-family="'Liberation Sans', sans-serif" font-size="5" font-weight="normal" text-anchor="end" fill="#333" stroke="#333" stroke-width="0.25">60</text>
<line x1="311.2" y1="516.1" x2="313.4" y2="516.1" stroke="#6a6a6a" stroke-width="1" />
<text x="310.8" y="517.9" font-family="'Liberation Sans', sans-serif" font-size="5" font-weight="normal" text-anchor="end" fill="#333" stroke="#333" stroke-width="0.25">80</text>
<path d="M316,605.2 V603 H324.4 V605.2" fill="none" stroke="#2a2aff" stroke-width="1.1"/>
<path d="M331.2,605.2 V550.6 H339.6 V605.2" fill="none" stroke="#ff2a2a" stroke-width="1.1"/>
<path d="M346.1,605.2 V535.1 H354.5 V605.2" fill="none" stroke="#44dd44" stroke-width="1.1"/>
<path d="M361.1,605.2 V604.5 H369.5 V605.2" fill="none" stroke="#c040ff" stroke-width="1.1"/>
<path d="M376.3,605.2 V604.5 H384.7 V605.2" fill="none" stroke="#f59a4a" stroke-width="1.1"/>
<circle cx="317" cy="604.3" r="1.35" fill="#0a0a0a"/>
<circle cx="320.5" cy="600.8" r="1.35" fill="#0a0a0a"/>
<circle cx="320.5" cy="603.5" r="1.35" fill="#0a0a0a"/>
<circle cx="324.3" cy="604.3" r="1.35" fill="#0a0a0a"/>
<line x1="335.4" y1="542.8" x2="335.4" y2="557.1" stroke="#111" stroke-width="1.1" />
<line x1="332.9" y1="542.8" x2="337.9" y2="542.8" stroke="#111" stroke-width="1.1" />
<line x1="332.9" y1="557.1" x2="337.9" y2="557.1" stroke="#111" stroke-width="1.1" />
<circle cx="335.7" cy="529.9" r="1.35" fill="#0a0a0a"/>
<circle cx="335.7" cy="550.3" r="1.35" fill="#0a0a0a"/>
<circle cx="335.7" cy="556.8" r="1.35" fill="#0a0a0a"/>
<circle cx="335.7" cy="564" r="1.35" fill="#0a0a0a"/>
<line x1="350.3" y1="530.7" x2="350.3" y2="539.2" stroke="#44dd44" stroke-width="1.1" />
<line x1="347.8" y1="530.7" x2="352.8" y2="530.7" stroke="#44dd44" stroke-width="1.1" />
<line x1="347.8" y1="539.2" x2="352.8" y2="539.2" stroke="#44dd44" stroke-width="1.1" />
<circle cx="350.3" cy="524.2" r="1.35" fill="#0a0a0a"/>
<circle cx="350.3" cy="533.5" r="1.35" fill="#0a0a0a"/>
<circle cx="346.8" cy="542.1" r="1.35" fill="#0a0a0a"/>
<circle cx="354.4" cy="540.8" r="1.35" fill="#0a0a0a"/>
<circle cx="361.5" cy="604.5" r="1.35" fill="#0a0a0a"/>
<circle cx="364" cy="604" r="1.35" fill="#0a0a0a"/>
<circle cx="366.5" cy="604" r="1.35" fill="#0a0a0a"/>
<circle cx="369" cy="604.5" r="1.35" fill="#0a0a0a"/>
<circle cx="376.5" cy="604.5" r="1.35" fill="#0a0a0a"/>
<circle cx="379" cy="604" r="1.35" fill="#0a0a0a"/>
<circle cx="381.5" cy="604" r="1.35" fill="#0a0a0a"/>
<circle cx="384" cy="604.5" r="1.35" fill="#0a0a0a"/>
<line x1="312.9" y1="605.2" x2="388" y2="605.2" stroke="#222" stroke-width="1.1" />
<line x1="320.2" y1="605.2" x2="320.2" y2="607.8" stroke="#333" stroke-width="0.9" />
<line x1="335.4" y1="605.2" x2="335.4" y2="607.8" stroke="#333" stroke-width="0.9" />
<line x1="350.3" y1="605.2" x2="350.3" y2="607.8" stroke="#333" stroke-width="0.9" />
<line x1="365.3" y1="605.2" x2="365.3" y2="607.8" stroke="#333" stroke-width="0.9" />
<line x1="380.5" y1="605.2" x2="380.5" y2="607.8" stroke="#333" stroke-width="0.9" />
<text x="365.3" y="588.42" font-family="'Liberation Sans', sans-serif" font-size="6" font-weight="normal" text-anchor="middle" fill="#111" stroke="#111" stroke-width="0.2">**</text>
<text x="380.5" y="597.42" font-family="'Liberation Sans', sans-serif" font-size="6" font-weight="normal" text-anchor="middle" fill="#111" stroke="#111" stroke-width="0.2">**</text>
<text transform="translate(355.7,514.8) scale(1,1.1)" font-family="'Liberation Serif', serif" font-size="6.5" font-weight="bold" text-anchor="middle" fill="#111" stroke="#111" stroke-width="0.22">IFN-&#955;</text>
<text transform="translate(294.26,562.6) rotate(-90)" font-family="'Liberation Serif', serif" font-size="6.75" font-weight="bold" text-anchor="middle" fill="#111" stroke="#111" stroke-width="0.2">Relative mRNA expression</text>
<text transform="translate(321.4,612.8) rotate(-45)" font-family="'Liberation Serif', serif" font-size="5.4" font-weight="bold" text-anchor="end" fill="#111" stroke="#111" stroke-width="0.22">DMEM</text>
<text transform="translate(336.6,612.8) rotate(-45)" font-family="'Liberation Serif', serif" font-size="5.4" font-weight="bold" text-anchor="end" fill="#111" stroke="#111" stroke-width="0.22">DMEM</text>
<text transform="translate(351.5,612.8) rotate(-45)" font-family="'Liberation Serif', serif" font-size="5.4" font-weight="bold" text-anchor="end" fill="#111" stroke="#111" stroke-width="0.22">CP</text>
<text transform="translate(366.5,612.8) rotate(-45)" font-family="'Liberation Serif', serif" font-size="5.4" font-weight="bold" text-anchor="end" fill="#111" stroke="#111" stroke-width="0.22">SR</text>
<text transform="translate(381.7,612.8) rotate(-45)" font-family="'Liberation Serif', serif" font-size="5.4" font-weight="bold" text-anchor="end" fill="#111" stroke="#111" stroke-width="0.22">pep3R-1</text>
<line x1="334.6" y1="635.6" x2="381.8" y2="635.6" stroke="#222" stroke-width="1.4" />
<text transform="translate(359.4,646.39) scale(1,1.08)" font-family="'Liberation Serif', serif" font-size="7" font-weight="bold" text-anchor="middle" fill="#111" stroke="#111" stroke-width="0.22">R848</text>
<text transform="translate(1.6,20.8) scale(1,1.15)" font-family="'Liberation Serif', serif" font-size="16.6" font-weight="bold" text-anchor="start" fill="#000" >A</text>
<text transform="translate(262.9,21.7) scale(1,1.1)" font-family="'Liberation Serif', serif" font-size="16.5" font-weight="bold" text-anchor="start" fill="#000" >B</text>
<text transform="translate(462.4,21.9) scale(1,1.08)" font-family="'Liberation Serif', serif" font-size="16.3" font-weight="bold" text-anchor="start" fill="#000" >C</text>
<text transform="translate(1,192.6) scale(1,1.14)" font-family="'Liberation Serif', serif" font-size="15.5" font-weight="bold" text-anchor="start" fill="#000" >D</text>
<text transform="translate(-0.3,361.9) scale(1,1.1)" font-family="'Liberation Serif', serif" font-size="16.5" font-weight="bold" text-anchor="start" fill="#000" >E</text>
<text transform="translate(351.6,361.9) scale(1,1.09)" font-family="'Liberation Serif', serif" font-size="16.7" font-weight="bold" text-anchor="start" fill="#000" >F</text>
<text transform="translate(0.8,525.7) scale(1,1.12)" font-family="'Liberation Serif', serif" font-size="16.4" font-weight="bold" text-anchor="start" fill="#000" >G</text>
</svg>
</body></html>
